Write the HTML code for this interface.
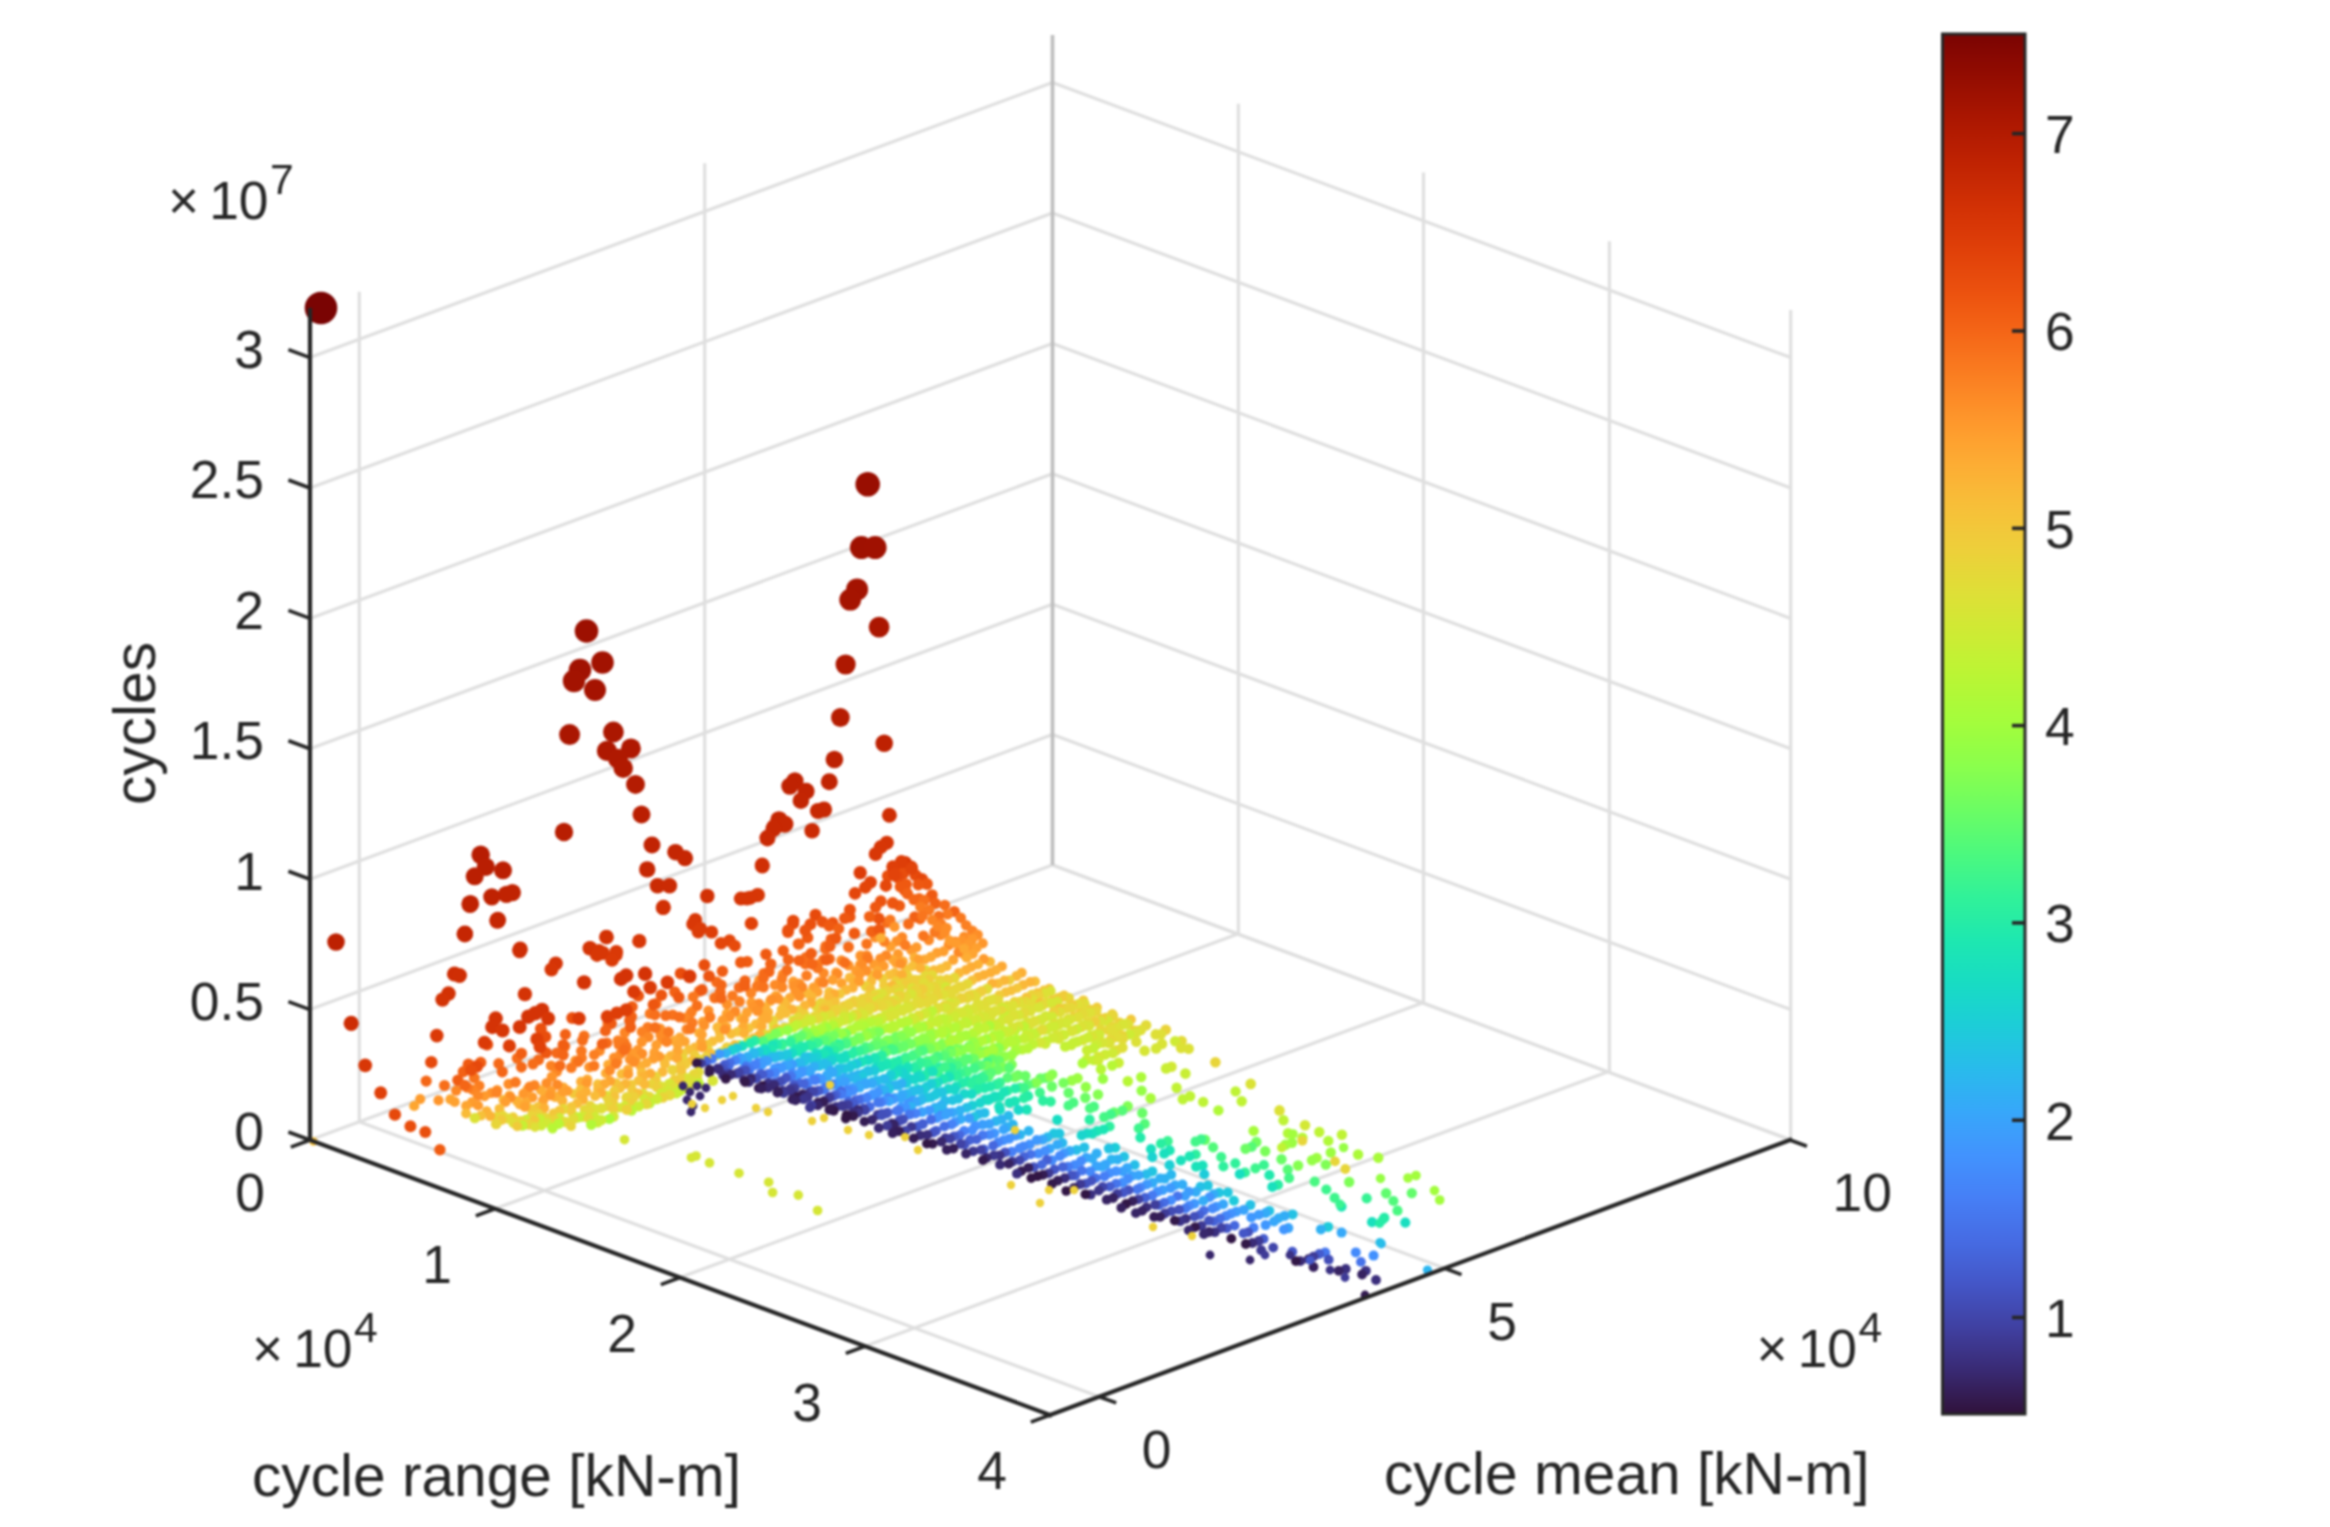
<!DOCTYPE html>
<html><head><meta charset="utf-8"><title>plot</title>
<style>
html,body{margin:0;padding:0;background:#fff;}
body{width:2330px;height:1527px;overflow:hidden;}
svg{display:block;filter:blur(1.15px);}
text{font-family:"Liberation Sans",sans-serif;fill:#262626;}
.g{stroke:#dfdfdf;stroke-width:3.2;}
.a{stroke:#262626;stroke-width:4.2;stroke-linecap:square;}
.b{stroke:#bdbdbd;stroke-width:3.6;}
.t{stroke:#262626;stroke-width:3.6;}
</style></head><body>
<svg width="2330" height="1527" viewBox="0 0 2330 1527">
<rect width="2330" height="1527" fill="#fff"/>
<line class="g" x1="359.3" y1="1121.7" x2="359.3" y2="291.7"/>
<line class="g" x1="704.7" y1="993.3" x2="704.7" y2="163.3"/>
<line class="g" x1="1238.4" y1="933.7" x2="1238.4" y2="103.7"/>
<line class="g" x1="1423.5" y1="1002.5" x2="1423.5" y2="172.5"/>
<line class="g" x1="1609.4" y1="1071.2" x2="1609.4" y2="241.2"/>
<line class="g" x1="1790.7" y1="1140.0" x2="1790.7" y2="310.0"/>
<line class="g" x1="310.0" y1="1140.0" x2="1052.5" y2="865.0"/>
<line class="g" x1="1052.5" y1="865.0" x2="1790.7" y2="1140.0"/>
<line class="g" x1="310.0" y1="1009.6" x2="1052.5" y2="734.6"/>
<line class="g" x1="1052.5" y1="734.6" x2="1790.7" y2="1009.6"/>
<line class="g" x1="310.0" y1="879.2" x2="1052.5" y2="604.2"/>
<line class="g" x1="1052.5" y1="604.2" x2="1790.7" y2="879.2"/>
<line class="g" x1="310.0" y1="748.8" x2="1052.5" y2="473.8"/>
<line class="g" x1="1052.5" y1="473.8" x2="1790.7" y2="748.8"/>
<line class="g" x1="310.0" y1="618.4" x2="1052.5" y2="343.4"/>
<line class="g" x1="1052.5" y1="343.4" x2="1790.7" y2="618.4"/>
<line class="g" x1="310.0" y1="488.0" x2="1052.5" y2="213.0"/>
<line class="g" x1="1052.5" y1="213.0" x2="1790.7" y2="488.0"/>
<line class="g" x1="310.0" y1="357.6" x2="1052.5" y2="82.6"/>
<line class="g" x1="1052.5" y1="82.6" x2="1790.7" y2="357.6"/>
<line class="g" x1="359.3" y1="1121.7" x2="1099.3" y2="1396.7"/>
<line class="g" x1="704.7" y1="993.3" x2="1444.7" y2="1268.3"/>
<line class="g" x1="1052.5" y1="865.0" x2="1790.7" y2="1140.0"/>
<line class="g" x1="495.0" y1="1208.8" x2="1238.4" y2="933.7"/>
<line class="g" x1="680.0" y1="1277.5" x2="1423.5" y2="1002.5"/>
<line class="g" x1="865.0" y1="1346.2" x2="1609.4" y2="1071.2"/>
<line class="b" x1="1052.5" y1="865.0" x2="1052.5" y2="35.0"/>
<circle cx="321.0" cy="308.0" r="16.3" fill="#7a0403"/>
<circle cx="867.7" cy="484.3" r="12.3" fill="#990e01"/>
<circle cx="904.8" cy="890.0" r="6.0" fill="#e94e0d"/>
<circle cx="899.4" cy="905.8" r="5.8" fill="#ef5b12"/>
<circle cx="892.7" cy="903.0" r="5.9" fill="#ed5510"/>
<circle cx="920.1" cy="918.9" r="5.5" fill="#f56a18"/>
<circle cx="886.9" cy="922.4" r="5.5" fill="#f76e1a"/>
<circle cx="914.8" cy="916.8" r="5.6" fill="#f26115"/>
<circle cx="880.4" cy="932.8" r="5.2" fill="#fc8825"/>
<circle cx="940.6" cy="935.0" r="5.2" fill="#fc8725"/>
<circle cx="908.5" cy="924.0" r="5.5" fill="#f66b19"/>
<circle cx="861.4" cy="547.6" r="11.5" fill="#9f1101"/>
<circle cx="875.1" cy="547.6" r="11.5" fill="#a01101"/>
<circle cx="875.2" cy="937.4" r="5.2" fill="#fd8d27"/>
<circle cx="934.8" cy="932.0" r="5.4" fill="#f9791f"/>
<circle cx="902.1" cy="937.2" r="5.2" fill="#fc8725"/>
<circle cx="928.9" cy="940.0" r="5.2" fill="#fc8825"/>
<circle cx="896.7" cy="941.2" r="5.2" fill="#fd9129"/>
<circle cx="955.3" cy="941.7" r="5.2" fill="#fc8825"/>
<circle cx="923.4" cy="935.8" r="5.4" fill="#f9751d"/>
<circle cx="890.7" cy="946.6" r="5.1" fill="#fe9f2f"/>
<circle cx="948.8" cy="945.0" r="5.2" fill="#fd8c27"/>
<circle cx="916.5" cy="947.3" r="5.1" fill="#fe9a2d"/>
<circle cx="884.3" cy="941.4" r="5.3" fill="#fb8122"/>
<circle cx="849.7" cy="916.9" r="5.9" fill="#ec540f"/>
<circle cx="943.6" cy="951.3" r="5.1" fill="#fe9e2e"/>
<circle cx="911.4" cy="950.2" r="5.1" fill="#fe992d"/>
<circle cx="878.7" cy="918.4" r="5.9" fill="#ec530f"/>
<circle cx="970.8" cy="946.3" r="5.3" fill="#fc8423"/>
<circle cx="937.0" cy="952.9" r="5.1" fill="#fea02f"/>
<circle cx="905.2" cy="945.1" r="5.3" fill="#fb7d21"/>
<circle cx="871.6" cy="931.5" r="5.7" fill="#f26114"/>
<circle cx="964.8" cy="955.1" r="5.1" fill="#fea02f"/>
<circle cx="930.9" cy="956.9" r="5.1" fill="#fda732"/>
<circle cx="898.0" cy="954.1" r="5.1" fill="#fe9a2d"/>
<circle cx="866.7" cy="943.9" r="5.4" fill="#f8731c"/>
<circle cx="914.3" cy="957.7" r="5.0" fill="#fcb035"/>
<circle cx="832.7" cy="923.0" r="5.9" fill="#ec520f"/>
<circle cx="879.0" cy="929.5" r="5.8" fill="#ee5811"/>
<circle cx="958.6" cy="952.1" r="5.2" fill="#fc8926"/>
<circle cx="924.8" cy="959.5" r="5.0" fill="#fda933"/>
<circle cx="893.0" cy="959.8" r="5.0" fill="#fda933"/>
<circle cx="860.5" cy="955.7" r="5.2" fill="#fd9229"/>
<circle cx="990.0" cy="961.8" r="5.0" fill="#fab837"/>
<circle cx="825.7" cy="946.1" r="5.4" fill="#f7711b"/>
<circle cx="953.2" cy="959.9" r="5.1" fill="#fda431"/>
<circle cx="918.5" cy="959.6" r="5.1" fill="#fea02f"/>
<circle cx="886.1" cy="955.4" r="5.2" fill="#fc8926"/>
<circle cx="854.4" cy="933.4" r="5.8" fill="#ef5a12"/>
<circle cx="983.7" cy="959.2" r="5.1" fill="#fe9b2d"/>
<circle cx="902.9" cy="961.4" r="5.0" fill="#fdaa33"/>
<circle cx="866.7" cy="955.5" r="5.2" fill="#fc8725"/>
<circle cx="946.6" cy="966.1" r="5.0" fill="#fab938"/>
<circle cx="912.6" cy="966.1" r="4.9" fill="#f8bf39"/>
<circle cx="880.4" cy="958.7" r="5.2" fill="#fd8e28"/>
<circle cx="848.5" cy="947.0" r="5.5" fill="#f66b19"/>
<circle cx="978.0" cy="964.5" r="5.0" fill="#fcb135"/>
<circle cx="896.0" cy="962.8" r="5.1" fill="#fea331"/>
<circle cx="831.3" cy="939.2" r="5.7" fill="#f15e14"/>
<circle cx="925.9" cy="969.9" r="4.9" fill="#e4da38"/>
<circle cx="859.9" cy="964.8" r="5.1" fill="#fea130"/>
<circle cx="940.9" cy="968.7" r="5.0" fill="#f8be39"/>
<circle cx="906.5" cy="969.6" r="4.9" fill="#f4c53a"/>
<circle cx="874.2" cy="964.6" r="5.1" fill="#fe9c2e"/>
<circle cx="841.4" cy="960.5" r="5.2" fill="#fc8a26"/>
<circle cx="971.3" cy="966.9" r="5.0" fill="#fdad34"/>
<circle cx="825.5" cy="948.8" r="5.5" fill="#f66b19"/>
<circle cx="807.6" cy="937.7" r="5.8" fill="#ef5911"/>
<circle cx="1001.9" cy="966.4" r="5.0" fill="#fda833"/>
<circle cx="920.4" cy="968.0" r="5.0" fill="#fcb236"/>
<circle cx="934.1" cy="970.3" r="5.0" fill="#f9bb39"/>
<circle cx="900.7" cy="963.6" r="5.2" fill="#fd922a"/>
<circle cx="867.8" cy="958.2" r="5.3" fill="#fa7a1f"/>
<circle cx="835.7" cy="938.3" r="5.8" fill="#ee5811"/>
<circle cx="965.9" cy="970.0" r="5.0" fill="#fcb035"/>
<circle cx="883.7" cy="966.1" r="5.1" fill="#fe9b2d"/>
<circle cx="996.0" cy="970.1" r="5.0" fill="#fcb136"/>
<circle cx="848.5" cy="965.4" r="5.2" fill="#fe932a"/>
<circle cx="929.0" cy="973.8" r="4.9" fill="#f6c23a"/>
<circle cx="894.6" cy="973.0" r="5.0" fill="#f9ba38"/>
<circle cx="861.8" cy="964.8" r="5.2" fill="#fd8d27"/>
<circle cx="829.8" cy="946.2" r="5.7" fill="#f15e14"/>
<circle cx="959.1" cy="972.9" r="5.0" fill="#fab737"/>
<circle cx="932.1" cy="975.2" r="5.3" fill="#e5d938"/>
<circle cx="877.4" cy="971.0" r="5.0" fill="#fda933"/>
<circle cx="990.5" cy="972.6" r="5.0" fill="#fcaf35"/>
<circle cx="1021.7" cy="972.7" r="5.0" fill="#fcb035"/>
<circle cx="907.5" cy="975.5" r="4.9" fill="#ebd239"/>
<circle cx="922.5" cy="979.1" r="5.3" fill="#d8e436"/>
<circle cx="889.2" cy="975.0" r="4.9" fill="#f8bf39"/>
<circle cx="856.1" cy="970.8" r="5.1" fill="#fe9d2e"/>
<circle cx="823.4" cy="959.7" r="5.4" fill="#f8741d"/>
<circle cx="954.4" cy="977.9" r="5.3" fill="#e6d838"/>
<circle cx="925.6" cy="976.1" r="5.3" fill="#e5d938"/>
<circle cx="872.3" cy="975.2" r="4.9" fill="#f8bf39"/>
<circle cx="805.9" cy="957.4" r="5.5" fill="#f66d1a"/>
<circle cx="983.9" cy="975.0" r="5.0" fill="#fcb035"/>
<circle cx="1016.4" cy="976.1" r="5.0" fill="#fab838"/>
<circle cx="901.8" cy="974.8" r="5.0" fill="#fcaf35"/>
<circle cx="836.1" cy="972.5" r="5.1" fill="#fe9e2f"/>
<circle cx="917.0" cy="980.4" r="5.3" fill="#e0dd37"/>
<circle cx="882.9" cy="978.8" r="4.9" fill="#efce3a"/>
<circle cx="849.7" cy="977.8" r="5.0" fill="#fab838"/>
<circle cx="817.3" cy="964.5" r="5.3" fill="#fa7c20"/>
<circle cx="947.0" cy="979.2" r="4.9" fill="#f0cb3a"/>
<circle cx="919.3" cy="980.5" r="5.3" fill="#edd03a"/>
<circle cx="866.3" cy="970.6" r="5.2" fill="#fd9129"/>
<circle cx="783.2" cy="950.7" r="5.7" fill="#f15e13"/>
<circle cx="929.1" cy="979.6" r="4.9" fill="#efcd3a"/>
<circle cx="978.1" cy="976.9" r="5.0" fill="#fbb236"/>
<circle cx="1009.5" cy="980.1" r="4.9" fill="#efcd3a"/>
<circle cx="896.0" cy="981.1" r="4.9" fill="#eecf3a"/>
<circle cx="829.5" cy="958.8" r="5.5" fill="#f56a18"/>
<circle cx="910.8" cy="980.8" r="5.3" fill="#ead339"/>
<circle cx="947.7" cy="980.6" r="5.3" fill="#edd13a"/>
<circle cx="877.2" cy="974.9" r="5.1" fill="#fe9c2e"/>
<circle cx="844.8" cy="962.6" r="5.5" fill="#f76f1a"/>
<circle cx="811.2" cy="953.5" r="5.7" fill="#f15f14"/>
<circle cx="940.4" cy="980.3" r="5.3" fill="#ebd339"/>
<circle cx="914.2" cy="980.0" r="5.3" fill="#eecf3a"/>
<circle cx="859.6" cy="974.2" r="5.1" fill="#fe982c"/>
<circle cx="923.8" cy="982.2" r="4.9" fill="#e2dc37"/>
<circle cx="972.2" cy="980.3" r="4.9" fill="#f7c039"/>
<circle cx="1004.4" cy="980.5" r="5.0" fill="#fab838"/>
<circle cx="1035.1" cy="981.5" r="4.9" fill="#f8bf39"/>
<circle cx="823.7" cy="973.1" r="5.2" fill="#fc8a26"/>
<circle cx="903.5" cy="983.1" r="5.3" fill="#ebd239"/>
<circle cx="940.6" cy="984.3" r="5.3" fill="#e3da38"/>
<circle cx="871.2" cy="981.4" r="5.0" fill="#f9bb38"/>
<circle cx="837.4" cy="973.7" r="5.2" fill="#fd8b26"/>
<circle cx="805.3" cy="963.9" r="5.5" fill="#f76f1b"/>
<circle cx="936.6" cy="985.5" r="5.3" fill="#e1dc37"/>
<circle cx="906.7" cy="984.3" r="5.4" fill="#f0cc3a"/>
<circle cx="853.6" cy="981.3" r="5.0" fill="#fcb135"/>
<circle cx="788.3" cy="959.5" r="5.6" fill="#f36416"/>
<circle cx="967.3" cy="984.1" r="5.3" fill="#e5d838"/>
<circle cx="998.2" cy="983.5" r="5.0" fill="#f9bc39"/>
<circle cx="1030.2" cy="982.0" r="5.0" fill="#fbb537"/>
<circle cx="884.0" cy="985.4" r="4.9" fill="#f1cb3a"/>
<circle cx="817.6" cy="967.9" r="5.4" fill="#f8751d"/>
<circle cx="896.9" cy="986.0" r="5.3" fill="#dfdf37"/>
<circle cx="934.6" cy="987.4" r="5.3" fill="#e9d439"/>
<circle cx="946.1" cy="986.9" r="4.8" fill="#d2e835"/>
<circle cx="865.9" cy="986.2" r="5.3" fill="#ecd139"/>
<circle cx="832.7" cy="979.8" r="5.1" fill="#fe9f2f"/>
<circle cx="799.1" cy="960.5" r="5.6" fill="#f36215"/>
<circle cx="929.5" cy="987.1" r="5.3" fill="#e4da38"/>
<circle cx="899.9" cy="988.2" r="5.3" fill="#e6d738"/>
<circle cx="782.9" cy="974.5" r="5.2" fill="#fc8624"/>
<circle cx="766.0" cy="954.3" r="5.8" fill="#ef5a12"/>
<circle cx="911.9" cy="988.0" r="4.8" fill="#dce136"/>
<circle cx="959.7" cy="986.7" r="4.9" fill="#efce3a"/>
<circle cx="992.1" cy="983.5" r="5.0" fill="#fcb236"/>
<circle cx="1023.3" cy="984.9" r="5.0" fill="#fab838"/>
<circle cx="857.1" cy="589.4" r="11.0" fill="#a41301"/>
<circle cx="812.1" cy="964.1" r="5.6" fill="#f56717"/>
<circle cx="961.7" cy="986.7" r="5.3" fill="#e8d539"/>
<circle cx="892.2" cy="985.6" r="5.0" fill="#f9ba38"/>
<circle cx="928.5" cy="988.3" r="5.3" fill="#e3db38"/>
<circle cx="859.0" cy="981.4" r="5.1" fill="#fe9c2d"/>
<circle cx="826.2" cy="959.9" r="5.7" fill="#f15e13"/>
<circle cx="793.3" cy="981.7" r="5.1" fill="#fe9c2d"/>
<circle cx="921.8" cy="990.0" r="5.3" fill="#e1dd37"/>
<circle cx="896.1" cy="989.4" r="5.3" fill="#ead339"/>
<circle cx="841.6" cy="983.4" r="5.1" fill="#fea12f"/>
<circle cx="759.4" cy="980.3" r="5.2" fill="#fe932a"/>
<circle cx="952.1" cy="991.2" r="5.3" fill="#dae236"/>
<circle cx="987.1" cy="988.9" r="5.3" fill="#e1dc37"/>
<circle cx="1017.2" cy="988.1" r="4.9" fill="#f4c63a"/>
<circle cx="1049.3" cy="988.7" r="4.9" fill="#f7c13a"/>
<circle cx="870.6" cy="988.9" r="4.9" fill="#f4c53a"/>
<circle cx="806.6" cy="975.5" r="5.3" fill="#fb7d21"/>
<circle cx="955.6" cy="989.0" r="5.3" fill="#e7d738"/>
<circle cx="887.1" cy="990.9" r="5.3" fill="#ead439"/>
<circle cx="922.1" cy="989.3" r="5.4" fill="#f0cc3a"/>
<circle cx="852.8" cy="987.8" r="5.0" fill="#fcaf35"/>
<circle cx="819.4" cy="982.0" r="5.2" fill="#fe922a"/>
<circle cx="787.1" cy="970.2" r="5.5" fill="#f66d1a"/>
<circle cx="915.4" cy="990.3" r="5.3" fill="#ead339"/>
<circle cx="770.8" cy="964.1" r="5.7" fill="#f26114"/>
<circle cx="1050.4" cy="991.0" r="5.3" fill="#d9e336"/>
<circle cx="899.2" cy="992.7" r="4.8" fill="#dbe136"/>
<circle cx="948.2" cy="990.9" r="5.3" fill="#edd03a"/>
<circle cx="978.0" cy="993.2" r="5.3" fill="#e9d539"/>
<circle cx="1011.3" cy="990.5" r="4.9" fill="#f7c13a"/>
<circle cx="1043.8" cy="990.5" r="4.9" fill="#f3c63a"/>
<circle cx="799.4" cy="983.6" r="5.2" fill="#fd9029"/>
<circle cx="951.2" cy="993.6" r="5.3" fill="#e4d938"/>
<circle cx="879.2" cy="993.8" r="5.3" fill="#dde037"/>
<circle cx="916.7" cy="991.7" r="5.3" fill="#ead439"/>
<circle cx="846.2" cy="989.9" r="5.0" fill="#fab837"/>
<circle cx="813.4" cy="987.7" r="5.1" fill="#fea02f"/>
<circle cx="781.8" cy="978.9" r="5.3" fill="#fa7b20"/>
<circle cx="909.7" cy="994.1" r="5.3" fill="#ecd139"/>
<circle cx="882.0" cy="993.9" r="5.3" fill="#dde037"/>
<circle cx="981.5" cy="991.2" r="5.3" fill="#eecf3a"/>
<circle cx="829.2" cy="992.1" r="5.0" fill="#f8be39"/>
<circle cx="763.9" cy="973.5" r="5.5" fill="#f66d19"/>
<circle cx="1045.4" cy="993.1" r="5.3" fill="#dce136"/>
<circle cx="747.2" cy="961.6" r="5.7" fill="#f05b12"/>
<circle cx="940.2" cy="994.2" r="5.3" fill="#eecf3a"/>
<circle cx="972.2" cy="994.6" r="5.3" fill="#e3da38"/>
<circle cx="1005.7" cy="992.2" r="4.9" fill="#f6c23a"/>
<circle cx="1037.4" cy="992.9" r="4.9" fill="#f5c33a"/>
<circle cx="793.7" cy="986.0" r="5.2" fill="#fd922a"/>
<circle cx="943.5" cy="994.8" r="5.3" fill="#dfdf37"/>
<circle cx="875.4" cy="994.9" r="5.3" fill="#e2dc37"/>
<circle cx="911.3" cy="994.3" r="5.3" fill="#d8e436"/>
<circle cx="840.0" cy="993.9" r="4.9" fill="#f3c73a"/>
<circle cx="807.5" cy="993.4" r="5.0" fill="#fab938"/>
<circle cx="774.9" cy="984.9" r="5.2" fill="#fd8b27"/>
<circle cx="905.3" cy="996.7" r="5.3" fill="#e5d838"/>
<circle cx="876.7" cy="996.9" r="5.3" fill="#ebd339"/>
<circle cx="975.8" cy="997.1" r="5.3" fill="#e2dc37"/>
<circle cx="823.3" cy="982.5" r="5.3" fill="#fb8323"/>
<circle cx="758.1" cy="985.1" r="5.2" fill="#fc8a26"/>
<circle cx="1038.6" cy="996.3" r="5.3" fill="#ecd239"/>
<circle cx="740.8" cy="962.4" r="5.8" fill="#ef5911"/>
<circle cx="935.5" cy="996.3" r="5.3" fill="#e1dd37"/>
<circle cx="968.5" cy="995.9" r="5.3" fill="#eecf3a"/>
<circle cx="1064.1" cy="995.5" r="4.9" fill="#f3c73a"/>
<circle cx="999.3" cy="995.2" r="4.9" fill="#f1cb3a"/>
<circle cx="1032.1" cy="994.8" r="5.3" fill="#ecd139"/>
<circle cx="1068.7" cy="998.0" r="5.3" fill="#e7d638"/>
<circle cx="937.2" cy="995.5" r="5.3" fill="#e9d439"/>
<circle cx="868.1" cy="996.4" r="4.9" fill="#efcd3a"/>
<circle cx="905.9" cy="998.2" r="5.3" fill="#e0de37"/>
<circle cx="834.0" cy="994.1" r="5.0" fill="#fdad34"/>
<circle cx="802.1" cy="987.1" r="5.2" fill="#fc8825"/>
<circle cx="769.0" cy="971.7" r="5.6" fill="#f46416"/>
<circle cx="899.5" cy="995.8" r="5.3" fill="#ecd139"/>
<circle cx="870.8" cy="999.1" r="5.3" fill="#ebd339"/>
<circle cx="967.4" cy="998.1" r="5.3" fill="#e5d838"/>
<circle cx="817.6" cy="992.0" r="5.1" fill="#fea431"/>
<circle cx="850.2" cy="599.7" r="10.9" fill="#a51401"/>
<circle cx="1033.5" cy="1000.1" r="5.3" fill="#e0de37"/>
<circle cx="880.0" cy="998.4" r="4.8" fill="#d9e336"/>
<circle cx="928.9" cy="997.5" r="5.3" fill="#e3da38"/>
<circle cx="960.9" cy="998.2" r="5.3" fill="#e3db38"/>
<circle cx="1058.1" cy="997.8" r="4.9" fill="#f0cc3a"/>
<circle cx="993.9" cy="999.2" r="5.3" fill="#e2dc38"/>
<circle cx="1026.3" cy="997.5" r="4.9" fill="#f5c43a"/>
<circle cx="782.2" cy="987.2" r="5.2" fill="#fc8624"/>
<circle cx="1061.3" cy="997.2" r="5.4" fill="#f0cc3a"/>
<circle cx="932.9" cy="999.5" r="5.3" fill="#e4d938"/>
<circle cx="998.1" cy="1000.6" r="5.3" fill="#e3db38"/>
<circle cx="862.6" cy="999.1" r="5.3" fill="#ecd139"/>
<circle cx="897.3" cy="1000.4" r="5.3" fill="#e6d838"/>
<circle cx="828.6" cy="997.0" r="5.0" fill="#faba38"/>
<circle cx="795.5" cy="992.1" r="5.2" fill="#fe942a"/>
<circle cx="763.4" cy="978.2" r="5.5" fill="#f66a18"/>
<circle cx="893.4" cy="1000.3" r="5.3" fill="#dce137"/>
<circle cx="865.3" cy="1001.1" r="5.3" fill="#ead339"/>
<circle cx="961.3" cy="998.2" r="5.3" fill="#ebd239"/>
<circle cx="811.7" cy="996.9" r="5.0" fill="#fab737"/>
<circle cx="1025.8" cy="1002.1" r="5.3" fill="#e1dc37"/>
<circle cx="875.2" cy="1001.5" r="4.8" fill="#d2e835"/>
<circle cx="922.5" cy="999.3" r="5.3" fill="#ecd139"/>
<circle cx="955.1" cy="1001.6" r="5.3" fill="#e8d639"/>
<circle cx="1052.3" cy="1000.5" r="4.9" fill="#f4c53a"/>
<circle cx="987.3" cy="1001.3" r="5.3" fill="#e4d938"/>
<circle cx="1020.8" cy="1001.5" r="5.3" fill="#ead339"/>
<circle cx="775.9" cy="995.9" r="5.1" fill="#fea330"/>
<circle cx="1057.1" cy="1001.9" r="5.3" fill="#d6e535"/>
<circle cx="1083.4" cy="1000.3" r="4.9" fill="#f1cb3a"/>
<circle cx="927.4" cy="1002.8" r="5.3" fill="#e5d938"/>
<circle cx="990.2" cy="1000.4" r="5.3" fill="#dfdf37"/>
<circle cx="854.3" cy="1001.0" r="5.3" fill="#ebd239"/>
<circle cx="893.1" cy="1003.2" r="5.3" fill="#ead339"/>
<circle cx="821.1" cy="1002.7" r="5.3" fill="#edd03a"/>
<circle cx="789.8" cy="998.0" r="5.0" fill="#fda732"/>
<circle cx="757.1" cy="986.4" r="5.4" fill="#f9781e"/>
<circle cx="887.4" cy="1000.7" r="5.3" fill="#e9d439"/>
<circle cx="857.7" cy="1003.1" r="5.3" fill="#ead339"/>
<circle cx="954.8" cy="1002.3" r="5.3" fill="#dee037"/>
<circle cx="1019.4" cy="1003.3" r="5.3" fill="#dedf37"/>
<circle cx="722.4" cy="971.3" r="5.7" fill="#f05c13"/>
<circle cx="868.8" cy="1002.5" r="4.9" fill="#efce3a"/>
<circle cx="917.2" cy="1001.6" r="5.3" fill="#e0dd37"/>
<circle cx="949.5" cy="1003.4" r="5.3" fill="#d3e735"/>
<circle cx="1046.5" cy="1002.7" r="5.3" fill="#e6d838"/>
<circle cx="980.3" cy="1005.0" r="5.3" fill="#dbe236"/>
<circle cx="1014.7" cy="1002.1" r="5.3" fill="#ebd239"/>
<circle cx="1084.5" cy="1003.9" r="5.3" fill="#dfde37"/>
<circle cx="835.1" cy="1001.8" r="4.9" fill="#f5c33a"/>
<circle cx="770.0" cy="1001.2" r="5.0" fill="#fab837"/>
<circle cx="1051.4" cy="1003.0" r="5.3" fill="#d5e635"/>
<circle cx="1079.2" cy="1004.0" r="5.3" fill="#e7d738"/>
<circle cx="920.0" cy="1003.6" r="5.3" fill="#e4da38"/>
<circle cx="983.9" cy="1005.5" r="5.3" fill="#e0dd37"/>
<circle cx="848.8" cy="1004.1" r="5.3" fill="#ebd239"/>
<circle cx="887.9" cy="1005.4" r="5.3" fill="#e3db38"/>
<circle cx="816.1" cy="1006.0" r="5.3" fill="#e5d838"/>
<circle cx="783.8" cy="1002.1" r="5.0" fill="#f9bb38"/>
<circle cx="751.0" cy="993.0" r="5.3" fill="#fc8524"/>
<circle cx="879.5" cy="1003.1" r="5.3" fill="#e4d938"/>
<circle cx="851.2" cy="1003.2" r="5.4" fill="#efcd3a"/>
<circle cx="950.9" cy="1006.6" r="5.3" fill="#dfde37"/>
<circle cx="799.4" cy="996.3" r="5.2" fill="#fe942a"/>
<circle cx="1012.8" cy="1005.6" r="5.3" fill="#dce136"/>
<circle cx="716.6" cy="982.0" r="5.5" fill="#f56918"/>
<circle cx="862.7" cy="1004.5" r="4.9" fill="#e8d539"/>
<circle cx="910.6" cy="1006.7" r="5.3" fill="#dfde37"/>
<circle cx="944.7" cy="1005.6" r="5.3" fill="#e8d639"/>
<circle cx="1040.2" cy="1003.6" r="5.0" fill="#f9bc39"/>
<circle cx="976.5" cy="1006.3" r="5.3" fill="#dde037"/>
<circle cx="1007.1" cy="1005.9" r="5.3" fill="#e3da38"/>
<circle cx="1077.9" cy="1004.6" r="5.3" fill="#e0de37"/>
<circle cx="828.4" cy="1005.0" r="4.9" fill="#f2c93a"/>
<circle cx="763.5" cy="987.1" r="5.4" fill="#f8721c"/>
<circle cx="1042.6" cy="1005.3" r="5.3" fill="#e2db38"/>
<circle cx="1072.1" cy="1004.6" r="4.9" fill="#f0cb3a"/>
<circle cx="912.5" cy="1005.9" r="5.3" fill="#e1dc37"/>
<circle cx="979.2" cy="1006.9" r="5.3" fill="#dedf37"/>
<circle cx="844.2" cy="1005.8" r="4.9" fill="#f0cc3a"/>
<circle cx="881.6" cy="1006.1" r="5.3" fill="#e8d639"/>
<circle cx="810.8" cy="1002.7" r="5.0" fill="#fdab33"/>
<circle cx="778.1" cy="998.5" r="5.2" fill="#fe932a"/>
<circle cx="744.9" cy="980.9" r="5.6" fill="#f36315"/>
<circle cx="875.3" cy="1005.9" r="5.3" fill="#e5d838"/>
<circle cx="848.4" cy="1005.5" r="5.3" fill="#ebd339"/>
<circle cx="945.6" cy="1007.8" r="5.3" fill="#d6e536"/>
<circle cx="1008.5" cy="1007.7" r="5.3" fill="#dbe136"/>
<circle cx="905.9" cy="1007.8" r="5.3" fill="#d5e635"/>
<circle cx="937.9" cy="1008.0" r="5.3" fill="#e6d838"/>
<circle cx="1032.6" cy="1006.9" r="5.3" fill="#e2dc37"/>
<circle cx="967.9" cy="1009.1" r="5.3" fill="#d5e635"/>
<circle cx="1002.3" cy="1008.0" r="5.3" fill="#d0e935"/>
<circle cx="1071.6" cy="1007.8" r="5.3" fill="#e5d838"/>
<circle cx="823.5" cy="1007.7" r="4.9" fill="#f2c93a"/>
<circle cx="1038.7" cy="1007.4" r="5.3" fill="#d8e436"/>
<circle cx="1064.9" cy="1007.9" r="4.9" fill="#eecf3a"/>
<circle cx="908.3" cy="1008.2" r="5.3" fill="#d9e336"/>
<circle cx="1097.0" cy="1007.4" r="4.9" fill="#f0cc3a"/>
<circle cx="973.3" cy="1009.5" r="5.3" fill="#dae336"/>
<circle cx="836.3" cy="1010.0" r="5.3" fill="#e7d738"/>
<circle cx="873.7" cy="1007.3" r="5.3" fill="#edd03a"/>
<circle cx="804.7" cy="1005.6" r="5.0" fill="#fbb637"/>
<circle cx="771.4" cy="999.5" r="5.2" fill="#fd9029"/>
<circle cx="739.2" cy="987.4" r="5.5" fill="#f66b19"/>
<circle cx="870.0" cy="1007.8" r="5.3" fill="#e4da38"/>
<circle cx="840.7" cy="1009.5" r="5.3" fill="#e9d439"/>
<circle cx="937.4" cy="1008.8" r="5.3" fill="#dedf37"/>
<circle cx="786.7" cy="1006.9" r="5.0" fill="#f9ba38"/>
<circle cx="721.2" cy="985.1" r="5.6" fill="#f46617"/>
<circle cx="1001.6" cy="1010.8" r="5.3" fill="#e4d938"/>
<circle cx="704.4" cy="965.1" r="6.0" fill="#e94e0d"/>
<circle cx="899.4" cy="1009.4" r="5.3" fill="#d2e935"/>
<circle cx="931.7" cy="1011.9" r="5.3" fill="#d8e436"/>
<circle cx="1026.7" cy="1009.8" r="5.3" fill="#dee037"/>
<circle cx="962.1" cy="1012.2" r="5.3" fill="#d5e635"/>
<circle cx="994.3" cy="1011.8" r="5.3" fill="#d0e935"/>
<circle cx="1066.1" cy="1008.5" r="5.3" fill="#e6d738"/>
<circle cx="751.3" cy="1002.6" r="5.1" fill="#fe9a2d"/>
<circle cx="1030.6" cy="1011.1" r="5.3" fill="#dce136"/>
<circle cx="1059.4" cy="1008.9" r="4.9" fill="#f4c53a"/>
<circle cx="902.7" cy="1010.8" r="5.3" fill="#d9e336"/>
<circle cx="1090.9" cy="1009.7" r="4.9" fill="#efcd3a"/>
<circle cx="968.1" cy="1012.8" r="5.3" fill="#d1e935"/>
<circle cx="830.6" cy="1012.5" r="5.3" fill="#e1dc37"/>
<circle cx="1096.1" cy="1011.3" r="5.3" fill="#e7d738"/>
<circle cx="868.4" cy="1010.5" r="5.3" fill="#e1dc37"/>
<circle cx="798.4" cy="1010.3" r="4.9" fill="#f1ca3a"/>
<circle cx="765.1" cy="1007.4" r="5.0" fill="#fcaf35"/>
<circle cx="732.4" cy="995.8" r="5.3" fill="#fa7a1f"/>
<circle cx="860.7" cy="1012.3" r="5.3" fill="#dedf37"/>
<circle cx="834.7" cy="1012.1" r="5.3" fill="#edd13a"/>
<circle cx="932.2" cy="1011.1" r="5.2" fill="#bef335"/>
<circle cx="781.6" cy="1009.4" r="4.9" fill="#f7c03a"/>
<circle cx="995.2" cy="1010.9" r="5.3" fill="#dce137"/>
<circle cx="699.3" cy="991.1" r="5.5" fill="#f66c19"/>
<circle cx="844.6" cy="1012.6" r="4.9" fill="#e2db38"/>
<circle cx="892.2" cy="1011.6" r="5.3" fill="#d4e735"/>
<circle cx="925.8" cy="1013.0" r="5.3" fill="#c8ee34"/>
<circle cx="1021.7" cy="1014.1" r="5.3" fill="#d6e536"/>
<circle cx="957.8" cy="1012.5" r="5.3" fill="#d8e436"/>
<circle cx="988.7" cy="1011.6" r="5.3" fill="#dfdf37"/>
<circle cx="1060.0" cy="1012.0" r="5.3" fill="#dfde37"/>
<circle cx="744.7" cy="985.9" r="5.7" fill="#f26115"/>
<circle cx="1024.3" cy="1012.9" r="5.3" fill="#e2db38"/>
<circle cx="1053.9" cy="1011.9" r="5.3" fill="#ebd239"/>
<circle cx="894.9" cy="1014.5" r="5.3" fill="#d8e436"/>
<circle cx="1084.2" cy="1011.7" r="5.3" fill="#e4da38"/>
<circle cx="961.4" cy="1013.1" r="5.3" fill="#d6e635"/>
<circle cx="825.2" cy="1010.4" r="5.0" fill="#f9ba38"/>
<circle cx="1090.0" cy="1012.6" r="5.3" fill="#dee037"/>
<circle cx="863.7" cy="1015.2" r="5.3" fill="#d7e536"/>
<circle cx="792.1" cy="1009.5" r="5.0" fill="#fcb236"/>
<circle cx="758.9" cy="1003.6" r="5.2" fill="#fd8c27"/>
<circle cx="727.1" cy="1004.4" r="5.2" fill="#fd9129"/>
<circle cx="855.0" cy="1014.3" r="5.3" fill="#e1dc37"/>
<circle cx="830.0" cy="1015.2" r="5.3" fill="#e0de37"/>
<circle cx="924.2" cy="1013.9" r="5.3" fill="#d1e935"/>
<circle cx="709.1" cy="976.2" r="5.9" fill="#ed5410"/>
<circle cx="991.2" cy="1015.2" r="5.3" fill="#dbe136"/>
<circle cx="693.1" cy="996.8" r="5.4" fill="#f9771e"/>
<circle cx="885.6" cy="1015.3" r="5.3" fill="#d3e735"/>
<circle cx="920.1" cy="1016.3" r="5.3" fill="#cdec34"/>
<circle cx="1016.6" cy="1014.7" r="5.3" fill="#d9e336"/>
<circle cx="1112.3" cy="1014.4" r="5.3" fill="#edd03a"/>
<circle cx="950.8" cy="1016.1" r="5.3" fill="#dde037"/>
<circle cx="981.7" cy="1016.2" r="5.3" fill="#d5e635"/>
<circle cx="1052.2" cy="1017.0" r="5.3" fill="#d1e935"/>
<circle cx="804.6" cy="1014.1" r="4.9" fill="#efcd3a"/>
<circle cx="739.6" cy="1001.4" r="5.3" fill="#fb8022"/>
<circle cx="1018.4" cy="1015.1" r="5.3" fill="#d7e536"/>
<circle cx="1045.8" cy="1016.2" r="5.3" fill="#dfde37"/>
<circle cx="889.9" cy="1016.5" r="5.3" fill="#d9e336"/>
<circle cx="1079.9" cy="1013.7" r="4.9" fill="#f0cc3a"/>
<circle cx="954.7" cy="1016.9" r="5.3" fill="#cfea34"/>
<circle cx="820.0" cy="1014.1" r="4.9" fill="#efce3a"/>
<circle cx="1082.6" cy="1014.2" r="5.3" fill="#e3da38"/>
<circle cx="856.2" cy="1015.6" r="5.3" fill="#e6d838"/>
<circle cx="785.8" cy="1013.1" r="5.0" fill="#f8be39"/>
<circle cx="752.7" cy="1007.1" r="5.1" fill="#fe952b"/>
<circle cx="720.2" cy="992.2" r="5.5" fill="#f56818"/>
<circle cx="851.9" cy="1016.5" r="5.3" fill="#cfea34"/>
<circle cx="823.8" cy="1016.9" r="5.3" fill="#d5e635"/>
<circle cx="918.7" cy="1015.5" r="5.3" fill="#dee037"/>
<circle cx="768.1" cy="1012.4" r="5.0" fill="#fcaf35"/>
<circle cx="984.4" cy="1017.3" r="5.3" fill="#d5e635"/>
<circle cx="879.8" cy="1018.0" r="5.3" fill="#d8e436"/>
<circle cx="1112.9" cy="1016.0" r="5.3" fill="#e7d639"/>
<circle cx="912.3" cy="1018.1" r="5.3" fill="#cdec34"/>
<circle cx="1008.4" cy="1016.6" r="5.3" fill="#c5f034"/>
<circle cx="1105.6" cy="1018.0" r="5.3" fill="#e5d838"/>
<circle cx="944.1" cy="1018.6" r="5.3" fill="#d5e635"/>
<circle cx="978.7" cy="1017.8" r="5.3" fill="#dbe236"/>
<circle cx="1046.0" cy="1016.5" r="5.3" fill="#d0ea35"/>
<circle cx="798.0" cy="1017.4" r="4.9" fill="#e2db38"/>
<circle cx="1012.9" cy="1016.0" r="5.3" fill="#dce136"/>
<circle cx="1042.1" cy="1019.2" r="5.3" fill="#d7e536"/>
<circle cx="882.0" cy="1019.3" r="5.3" fill="#ccec34"/>
<circle cx="1073.5" cy="1017.0" r="4.9" fill="#f1cb3a"/>
<circle cx="947.7" cy="1019.6" r="5.3" fill="#c6f034"/>
<circle cx="814.8" cy="1016.4" r="5.3" fill="#e8d639"/>
<circle cx="1078.1" cy="1017.3" r="5.3" fill="#dfdf37"/>
<circle cx="848.7" cy="1019.3" r="5.2" fill="#c1f234"/>
<circle cx="779.8" cy="1015.6" r="4.9" fill="#f8bf39"/>
<circle cx="746.8" cy="1012.7" r="5.1" fill="#fea230"/>
<circle cx="714.7" cy="997.8" r="5.5" fill="#f76f1a"/>
<circle cx="844.0" cy="1017.1" r="5.3" fill="#d0e935"/>
<circle cx="817.4" cy="1018.5" r="5.3" fill="#e2dc37"/>
<circle cx="914.9" cy="1020.0" r="5.3" fill="#d1e935"/>
<circle cx="763.5" cy="1014.9" r="5.0" fill="#fdad34"/>
<circle cx="976.5" cy="1020.3" r="5.3" fill="#cdec34"/>
<circle cx="680.8" cy="973.5" r="6.1" fill="#e94d0d"/>
<circle cx="873.9" cy="1019.8" r="5.3" fill="#ceeb34"/>
<circle cx="1107.3" cy="1020.9" r="5.3" fill="#d5e635"/>
<circle cx="905.8" cy="1021.4" r="5.3" fill="#c9ee34"/>
<circle cx="1003.3" cy="1018.7" r="5.3" fill="#cbed34"/>
<circle cx="1101.7" cy="1018.6" r="4.9" fill="#f0cc3a"/>
<circle cx="939.4" cy="1019.3" r="5.3" fill="#cfeb34"/>
<circle cx="972.6" cy="1020.3" r="5.3" fill="#d1e935"/>
<circle cx="1040.1" cy="1019.5" r="5.3" fill="#d2e835"/>
<circle cx="793.2" cy="1020.0" r="4.8" fill="#d7e436"/>
<circle cx="726.8" cy="1013.8" r="5.1" fill="#fea330"/>
<circle cx="1008.6" cy="1019.6" r="5.3" fill="#d9e336"/>
<circle cx="1034.2" cy="1021.4" r="5.3" fill="#d9e336"/>
<circle cx="878.2" cy="1022.0" r="5.2" fill="#bdf435"/>
<circle cx="1068.3" cy="1019.0" r="5.3" fill="#e0de37"/>
<circle cx="943.2" cy="1018.9" r="5.2" fill="#c0f234"/>
<circle cx="807.7" cy="1018.9" r="5.3" fill="#dae236"/>
<circle cx="1070.3" cy="1019.2" r="5.3" fill="#d9e336"/>
<circle cx="1131.0" cy="1019.5" r="4.9" fill="#f2c83a"/>
<circle cx="843.9" cy="1020.3" r="5.3" fill="#d2e835"/>
<circle cx="772.9" cy="1020.8" r="5.3" fill="#ead339"/>
<circle cx="740.8" cy="1018.3" r="5.0" fill="#fab838"/>
<circle cx="708.4" cy="1010.6" r="5.2" fill="#fd8d27"/>
<circle cx="839.2" cy="1021.5" r="5.3" fill="#c9ee34"/>
<circle cx="811.1" cy="1020.6" r="5.3" fill="#cfeb34"/>
<circle cx="907.6" cy="1021.9" r="5.2" fill="#b7f735"/>
<circle cx="757.4" cy="1010.9" r="5.2" fill="#fd9229"/>
<circle cx="691.9" cy="1011.3" r="5.2" fill="#fd8f28"/>
<circle cx="972.4" cy="1020.5" r="5.3" fill="#d1e935"/>
<circle cx="674.8" cy="992.0" r="5.7" fill="#f26014"/>
<circle cx="869.9" cy="1022.0" r="5.3" fill="#c4f034"/>
<circle cx="1100.7" cy="1021.4" r="5.3" fill="#d9e336"/>
<circle cx="900.5" cy="1023.0" r="5.2" fill="#c0f334"/>
<circle cx="998.9" cy="1023.4" r="5.3" fill="#d6e536"/>
<circle cx="1094.7" cy="1021.4" r="5.3" fill="#edd03a"/>
<circle cx="932.0" cy="1021.5" r="5.2" fill="#c1f234"/>
<circle cx="965.1" cy="1022.1" r="5.3" fill="#c5f034"/>
<circle cx="1034.8" cy="1021.2" r="5.3" fill="#dce137"/>
<circle cx="721.1" cy="998.1" r="5.6" fill="#f46617"/>
<circle cx="1000.0" cy="1022.7" r="5.3" fill="#d2e835"/>
<circle cx="1027.7" cy="1022.3" r="5.3" fill="#d6e536"/>
<circle cx="870.3" cy="1022.1" r="5.2" fill="#b8f635"/>
<circle cx="1061.3" cy="1022.4" r="5.3" fill="#dbe236"/>
<circle cx="937.8" cy="1022.3" r="5.3" fill="#c6ef34"/>
<circle cx="801.9" cy="1022.4" r="5.3" fill="#ecd139"/>
<circle cx="1066.2" cy="1023.2" r="5.3" fill="#d3e835"/>
<circle cx="1126.6" cy="1023.7" r="5.3" fill="#d3e735"/>
<circle cx="838.0" cy="1023.1" r="5.3" fill="#ccec34"/>
<circle cx="767.0" cy="1018.5" r="5.0" fill="#fdac34"/>
<circle cx="735.1" cy="1011.5" r="5.2" fill="#fd8b26"/>
<circle cx="701.9" cy="989.9" r="5.8" fill="#ef5912"/>
<circle cx="833.6" cy="1021.9" r="5.3" fill="#cdec34"/>
<circle cx="1128.0" cy="1024.4" r="5.3" fill="#dce136"/>
<circle cx="804.6" cy="1023.2" r="5.3" fill="#cfea34"/>
<circle cx="901.5" cy="1023.0" r="5.2" fill="#b8f635"/>
<circle cx="966.9" cy="1023.5" r="5.2" fill="#c1f234"/>
<circle cx="862.2" cy="1023.1" r="5.2" fill="#bef435"/>
<circle cx="893.2" cy="1025.8" r="5.2" fill="#bbf535"/>
<circle cx="991.4" cy="1023.0" r="5.3" fill="#d4e635"/>
<circle cx="1088.0" cy="1022.3" r="5.3" fill="#e4d938"/>
<circle cx="925.4" cy="1025.8" r="5.2" fill="#bcf435"/>
<circle cx="960.7" cy="1024.8" r="5.3" fill="#c4f034"/>
<circle cx="1030.4" cy="1024.1" r="5.3" fill="#dde037"/>
<circle cx="995.7" cy="1025.7" r="5.3" fill="#caed34"/>
<circle cx="1022.2" cy="1025.5" r="5.3" fill="#d1e935"/>
<circle cx="864.3" cy="1026.5" r="5.2" fill="#aff938"/>
<circle cx="1055.2" cy="1024.2" r="5.3" fill="#e2db38"/>
<circle cx="929.1" cy="1026.2" r="5.3" fill="#c8ee34"/>
<circle cx="794.7" cy="1022.6" r="5.3" fill="#ecd139"/>
<circle cx="1058.7" cy="1024.8" r="5.3" fill="#d4e635"/>
<circle cx="1119.8" cy="1022.9" r="5.3" fill="#edd03a"/>
<circle cx="833.1" cy="1025.7" r="5.2" fill="#b4f736"/>
<circle cx="761.8" cy="1020.5" r="5.0" fill="#fdac34"/>
<circle cx="729.6" cy="1016.7" r="5.2" fill="#fe932a"/>
<circle cx="697.1" cy="1005.6" r="5.4" fill="#f7701b"/>
<circle cx="825.4" cy="1025.7" r="5.2" fill="#bbf535"/>
<circle cx="1122.9" cy="1024.6" r="5.3" fill="#d8e436"/>
<circle cx="797.0" cy="1024.8" r="5.3" fill="#c4f034"/>
<circle cx="894.9" cy="1026.8" r="5.2" fill="#baf635"/>
<circle cx="743.9" cy="1019.8" r="5.1" fill="#fea130"/>
<circle cx="958.7" cy="1027.4" r="5.2" fill="#c2f134"/>
<circle cx="857.4" cy="1026.0" r="5.2" fill="#b3f837"/>
<circle cx="879.1" cy="627.1" r="10.4" fill="#ab1601"/>
<circle cx="1089.1" cy="1025.8" r="5.3" fill="#d8e436"/>
<circle cx="887.9" cy="1027.9" r="5.2" fill="#aafb39"/>
<circle cx="985.9" cy="1025.8" r="5.3" fill="#d2e835"/>
<circle cx="1084.1" cy="1025.2" r="5.3" fill="#d7e436"/>
<circle cx="920.3" cy="1026.7" r="5.2" fill="#b2f837"/>
<circle cx="951.4" cy="1028.5" r="5.3" fill="#c3f134"/>
<circle cx="1024.2" cy="1026.9" r="5.2" fill="#bff334"/>
<circle cx="773.5" cy="1026.3" r="4.9" fill="#e4da38"/>
<circle cx="709.4" cy="1018.0" r="5.1" fill="#fe952b"/>
<circle cx="989.4" cy="1026.0" r="5.2" fill="#aef938"/>
<circle cx="1018.0" cy="1026.3" r="5.3" fill="#d6e536"/>
<circle cx="1146.1" cy="1025.2" r="5.3" fill="#e2db38"/>
<circle cx="858.4" cy="1026.3" r="5.2" fill="#b3f837"/>
<circle cx="1050.5" cy="1026.8" r="5.3" fill="#d6e536"/>
<circle cx="922.5" cy="1027.4" r="5.2" fill="#a8fb3a"/>
<circle cx="789.3" cy="1027.7" r="5.3" fill="#dde037"/>
<circle cx="1053.5" cy="1026.6" r="5.3" fill="#ceeb34"/>
<circle cx="1113.3" cy="1026.5" r="5.3" fill="#e8d539"/>
<circle cx="826.7" cy="1028.2" r="5.2" fill="#9dfd40"/>
<circle cx="755.8" cy="1024.2" r="5.0" fill="#fab938"/>
<circle cx="722.5" cy="1020.3" r="5.1" fill="#fe9b2d"/>
<circle cx="690.7" cy="1013.3" r="5.3" fill="#fb7f21"/>
<circle cx="821.0" cy="1028.4" r="5.2" fill="#b4f836"/>
<circle cx="1116.7" cy="1028.4" r="5.3" fill="#dce136"/>
<circle cx="793.6" cy="1027.4" r="5.2" fill="#bff334"/>
<circle cx="890.1" cy="1028.5" r="5.2" fill="#b8f635"/>
<circle cx="955.0" cy="1027.1" r="5.2" fill="#b4f836"/>
<circle cx="656.0" cy="1003.7" r="5.6" fill="#f56817"/>
<circle cx="849.9" cy="1030.1" r="5.2" fill="#bff334"/>
<circle cx="1081.5" cy="1027.0" r="5.3" fill="#dce136"/>
<circle cx="881.6" cy="1029.4" r="5.2" fill="#a9fb3a"/>
<circle cx="978.3" cy="1027.5" r="5.2" fill="#bbf535"/>
<circle cx="1076.9" cy="1029.0" r="5.3" fill="#dee037"/>
<circle cx="916.2" cy="1028.6" r="5.2" fill="#b0f938"/>
<circle cx="946.5" cy="1028.0" r="5.2" fill="#bdf435"/>
<circle cx="1015.2" cy="1030.4" r="5.2" fill="#bff335"/>
<circle cx="703.0" cy="1021.9" r="5.1" fill="#fe9c2e"/>
<circle cx="984.9" cy="1028.2" r="5.2" fill="#c2f234"/>
<circle cx="1012.5" cy="1027.8" r="5.3" fill="#d6e536"/>
<circle cx="1140.8" cy="1030.0" r="5.3" fill="#dfdf37"/>
<circle cx="852.2" cy="1029.5" r="5.2" fill="#b3f837"/>
<circle cx="1043.5" cy="1029.6" r="5.3" fill="#c8ee34"/>
<circle cx="918.6" cy="1028.1" r="5.2" fill="#adfa39"/>
<circle cx="784.5" cy="1028.1" r="5.3" fill="#dedf37"/>
<circle cx="1046.6" cy="1029.4" r="5.3" fill="#ceeb34"/>
<circle cx="1108.9" cy="1030.2" r="5.3" fill="#ebd239"/>
<circle cx="821.0" cy="1030.1" r="5.2" fill="#acfa39"/>
<circle cx="748.9" cy="1028.1" r="4.9" fill="#f6c23a"/>
<circle cx="717.4" cy="1027.2" r="5.0" fill="#fab838"/>
<circle cx="685.0" cy="1018.0" r="5.2" fill="#fc8725"/>
<circle cx="814.5" cy="1030.0" r="5.2" fill="#b5f736"/>
<circle cx="1111.2" cy="1029.7" r="5.3" fill="#e1dd37"/>
<circle cx="787.3" cy="1030.1" r="5.2" fill="#95fe45"/>
<circle cx="881.8" cy="1029.8" r="5.2" fill="#b2f837"/>
<circle cx="586.5" cy="631.0" r="11.8" fill="#9d1001"/>
<circle cx="945.9" cy="1032.1" r="5.2" fill="#acfa39"/>
<circle cx="650.1" cy="1013.6" r="5.4" fill="#f9781e"/>
<circle cx="844.1" cy="1033.0" r="5.2" fill="#99fe43"/>
<circle cx="1076.2" cy="1029.5" r="5.3" fill="#cbed34"/>
<circle cx="874.8" cy="1031.1" r="5.2" fill="#96fe45"/>
<circle cx="973.4" cy="1032.6" r="5.2" fill="#b7f735"/>
<circle cx="1072.2" cy="1030.8" r="5.3" fill="#dfde37"/>
<circle cx="907.4" cy="1031.2" r="5.2" fill="#93fe46"/>
<circle cx="941.6" cy="1031.3" r="5.2" fill="#b8f635"/>
<circle cx="1009.1" cy="1031.7" r="5.3" fill="#ceeb34"/>
<circle cx="761.7" cy="1026.4" r="5.0" fill="#fdad34"/>
<circle cx="977.3" cy="1030.9" r="5.2" fill="#bff335"/>
<circle cx="1004.8" cy="1031.0" r="5.2" fill="#bff335"/>
<circle cx="1135.1" cy="1030.4" r="4.9" fill="#efcd3a"/>
<circle cx="845.8" cy="1033.9" r="5.2" fill="#7bfe58"/>
<circle cx="1037.4" cy="1032.3" r="5.3" fill="#caed34"/>
<circle cx="911.3" cy="1032.1" r="5.2" fill="#94fe46"/>
<circle cx="776.7" cy="1029.0" r="4.9" fill="#f7c13a"/>
<circle cx="1165.8" cy="1029.7" r="5.3" fill="#ead339"/>
<circle cx="1042.0" cy="1029.7" r="5.3" fill="#e1dd37"/>
<circle cx="1100.7" cy="1029.9" r="5.3" fill="#e4d938"/>
<circle cx="814.8" cy="1033.2" r="5.2" fill="#a0fd3e"/>
<circle cx="742.8" cy="1027.2" r="5.0" fill="#fdab33"/>
<circle cx="710.1" cy="1017.0" r="5.3" fill="#fb7d20"/>
<circle cx="678.8" cy="997.3" r="5.8" fill="#ee5811"/>
<circle cx="806.5" cy="1031.9" r="5.2" fill="#8eff4a"/>
<circle cx="779.5" cy="1032.0" r="5.2" fill="#98fe43"/>
<circle cx="878.9" cy="1032.1" r="5.2" fill="#7bfe58"/>
<circle cx="726.2" cy="1026.9" r="5.0" fill="#fdaa33"/>
<circle cx="661.4" cy="995.1" r="5.9" fill="#ed5510"/>
<circle cx="942.1" cy="1033.5" r="5.2" fill="#b4f836"/>
<circle cx="837.8" cy="1032.8" r="5.2" fill="#8dff4a"/>
<circle cx="1071.6" cy="1031.3" r="5.3" fill="#d7e536"/>
<circle cx="869.5" cy="1032.9" r="5.2" fill="#88ff4e"/>
<circle cx="1136.2" cy="1032.4" r="5.3" fill="#d8e436"/>
<circle cx="966.2" cy="1035.2" r="5.2" fill="#b1f937"/>
<circle cx="1063.2" cy="1034.6" r="5.3" fill="#ceeb34"/>
<circle cx="901.8" cy="1035.2" r="5.2" fill="#9ffd3f"/>
<circle cx="933.4" cy="1033.1" r="5.2" fill="#a6fc3b"/>
<circle cx="1004.0" cy="1032.3" r="5.3" fill="#cbed34"/>
<circle cx="972.9" cy="1035.5" r="5.2" fill="#b5f736"/>
<circle cx="999.8" cy="1035.0" r="5.2" fill="#b4f836"/>
<circle cx="1129.4" cy="1034.5" r="5.3" fill="#cdec34"/>
<circle cx="841.7" cy="1033.7" r="5.2" fill="#97fe44"/>
<circle cx="1031.7" cy="1033.7" r="5.2" fill="#c0f334"/>
<circle cx="905.4" cy="1036.1" r="5.2" fill="#90fe48"/>
<circle cx="769.7" cy="1034.5" r="5.3" fill="#e6d838"/>
<circle cx="1160.9" cy="1034.3" r="5.3" fill="#dfdf37"/>
<circle cx="1033.9" cy="1034.4" r="5.3" fill="#c5f034"/>
<circle cx="1095.9" cy="1034.6" r="5.3" fill="#d6e536"/>
<circle cx="809.0" cy="1036.4" r="5.2" fill="#82fe52"/>
<circle cx="737.3" cy="1031.9" r="4.9" fill="#f4c53a"/>
<circle cx="704.1" cy="1025.3" r="5.2" fill="#fd9229"/>
<circle cx="672.7" cy="1014.9" r="5.4" fill="#f8721c"/>
<circle cx="802.4" cy="1035.1" r="5.2" fill="#73fe5e"/>
<circle cx="1099.4" cy="1034.9" r="5.3" fill="#d1e935"/>
<circle cx="775.6" cy="1033.7" r="5.2" fill="#7cfe57"/>
<circle cx="870.8" cy="1034.0" r="5.2" fill="#88ff4e"/>
<circle cx="719.6" cy="1031.4" r="5.0" fill="#f9ba38"/>
<circle cx="654.8" cy="1014.9" r="5.5" fill="#f76f1b"/>
<circle cx="934.2" cy="1034.8" r="5.2" fill="#acfa39"/>
<circle cx="638.3" cy="995.9" r="5.9" fill="#ec530f"/>
<circle cx="830.9" cy="1037.2" r="5.2" fill="#8dff4a"/>
<circle cx="1064.1" cy="1035.0" r="5.3" fill="#cdec34"/>
<circle cx="864.7" cy="1036.0" r="5.2" fill="#82fe52"/>
<circle cx="960.1" cy="1036.2" r="5.2" fill="#acfa39"/>
<circle cx="1057.2" cy="1035.2" r="5.3" fill="#d6e536"/>
<circle cx="896.1" cy="1037.0" r="5.2" fill="#71fe5f"/>
<circle cx="929.9" cy="1034.9" r="5.2" fill="#99fd43"/>
<circle cx="998.9" cy="1037.4" r="5.2" fill="#b0f938"/>
<circle cx="965.5" cy="1035.8" r="5.2" fill="#a8fb3a"/>
<circle cx="993.7" cy="1035.6" r="5.2" fill="#b1f937"/>
<circle cx="1121.6" cy="1035.3" r="5.3" fill="#e9d439"/>
<circle cx="833.7" cy="1035.7" r="5.2" fill="#74fe5d"/>
<circle cx="1026.5" cy="1035.3" r="5.3" fill="#cbed34"/>
<circle cx="901.3" cy="1036.6" r="5.2" fill="#82fe53"/>
<circle cx="765.4" cy="1034.9" r="5.3" fill="#e6d738"/>
<circle cx="1155.8" cy="1034.4" r="5.3" fill="#dedf37"/>
<circle cx="1028.8" cy="1036.5" r="5.3" fill="#cbed34"/>
<circle cx="1090.6" cy="1036.1" r="5.3" fill="#ceeb34"/>
<circle cx="800.8" cy="1036.5" r="5.2" fill="#62fc6c"/>
<circle cx="731.0" cy="1033.9" r="5.0" fill="#f8be39"/>
<circle cx="699.2" cy="1033.0" r="5.0" fill="#fcb035"/>
<circle cx="665.7" cy="1015.5" r="5.5" fill="#f76e1a"/>
<circle cx="796.2" cy="1038.2" r="5.2" fill="#61fc6c"/>
<circle cx="1091.7" cy="1037.2" r="5.3" fill="#dbe136"/>
<circle cx="768.8" cy="1038.2" r="5.2" fill="#7dfe57"/>
<circle cx="866.4" cy="1036.0" r="5.2" fill="#9bfd41"/>
<circle cx="930.5" cy="1039.1" r="5.2" fill="#9bfd41"/>
<circle cx="632.1" cy="1006.7" r="5.7" fill="#f05d13"/>
<circle cx="827.8" cy="1036.9" r="5.2" fill="#75fe5d"/>
<circle cx="1058.8" cy="1038.6" r="5.3" fill="#d3e735"/>
<circle cx="858.8" cy="1037.4" r="5.2" fill="#7bfe58"/>
<circle cx="1122.7" cy="1038.8" r="5.3" fill="#e3da38"/>
<circle cx="956.2" cy="1039.7" r="5.2" fill="#b3f837"/>
<circle cx="1052.9" cy="1037.7" r="5.3" fill="#d0e935"/>
<circle cx="890.7" cy="1040.1" r="5.2" fill="#78fe5a"/>
<circle cx="923.1" cy="1038.3" r="5.2" fill="#95fe45"/>
<circle cx="991.0" cy="1038.4" r="5.2" fill="#bef435"/>
<circle cx="744.1" cy="1033.3" r="5.0" fill="#fcb236"/>
<circle cx="679.2" cy="1016.9" r="5.5" fill="#f76e1a"/>
<circle cx="959.6" cy="1038.5" r="5.2" fill="#acfa39"/>
<circle cx="987.1" cy="1038.7" r="5.2" fill="#bef435"/>
<circle cx="1116.8" cy="1037.0" r="5.3" fill="#e1dd37"/>
<circle cx="828.5" cy="1040.4" r="5.2" fill="#6bfd64"/>
<circle cx="1017.1" cy="1039.6" r="5.2" fill="#b7f735"/>
<circle cx="894.4" cy="1040.8" r="5.2" fill="#73fe5e"/>
<circle cx="759.4" cy="1035.0" r="5.0" fill="#fbb436"/>
<circle cx="1023.9" cy="1038.5" r="5.3" fill="#c4f034"/>
<circle cx="1082.9" cy="1039.9" r="5.3" fill="#d5e635"/>
<circle cx="796.6" cy="1038.3" r="5.2" fill="#61fc6d"/>
<circle cx="724.9" cy="1029.4" r="5.2" fill="#fe922a"/>
<circle cx="692.4" cy="1022.8" r="5.3" fill="#fa7b20"/>
<circle cx="660.2" cy="1028.8" r="5.2" fill="#fd9129"/>
<circle cx="791.1" cy="1040.2" r="5.1" fill="#48f882"/>
<circle cx="1087.6" cy="1037.8" r="5.3" fill="#cdec34"/>
<circle cx="763.2" cy="1041.4" r="5.1" fill="#51fa7a"/>
<circle cx="859.6" cy="1039.3" r="5.2" fill="#7bfe58"/>
<circle cx="924.7" cy="1039.9" r="5.2" fill="#8ffe49"/>
<circle cx="821.5" cy="1039.9" r="5.2" fill="#70fe60"/>
<circle cx="853.4" cy="1041.1" r="5.2" fill="#64fc6a"/>
<circle cx="950.5" cy="1039.4" r="5.2" fill="#92fe47"/>
<circle cx="1045.9" cy="1041.0" r="5.2" fill="#c3f134"/>
<circle cx="885.7" cy="1041.8" r="5.2" fill="#8cff4b"/>
<circle cx="917.8" cy="1040.9" r="5.2" fill="#91fe48"/>
<circle cx="985.9" cy="1039.5" r="5.2" fill="#a2fd3d"/>
<circle cx="1181.6" cy="1041.1" r="5.3" fill="#e3db38"/>
<circle cx="952.3" cy="1039.6" r="5.2" fill="#b1f837"/>
<circle cx="981.8" cy="1040.6" r="5.2" fill="#b4f836"/>
<circle cx="1110.5" cy="1040.1" r="5.3" fill="#e5d838"/>
<circle cx="824.6" cy="1040.5" r="5.1" fill="#59fb74"/>
<circle cx="1012.9" cy="1040.4" r="5.2" fill="#b5f736"/>
<circle cx="887.2" cy="1040.3" r="5.2" fill="#81fe53"/>
<circle cx="753.2" cy="1038.1" r="4.9" fill="#f8bf39"/>
<circle cx="1015.5" cy="1041.8" r="5.2" fill="#b0f938"/>
<circle cx="1077.4" cy="1041.6" r="5.3" fill="#cbed34"/>
<circle cx="790.6" cy="1042.5" r="5.1" fill="#2ff09b"/>
<circle cx="1175.2" cy="1041.2" r="5.3" fill="#cfeb34"/>
<circle cx="719.7" cy="1038.0" r="5.0" fill="#f8be39"/>
<circle cx="686.8" cy="1029.2" r="5.3" fill="#fc8524"/>
<circle cx="653.4" cy="1004.6" r="5.8" fill="#ed5610"/>
<circle cx="782.6" cy="1043.5" r="5.1" fill="#2beea1"/>
<circle cx="754.7" cy="1040.8" r="5.1" fill="#2aeea1"/>
<circle cx="853.4" cy="1041.9" r="5.2" fill="#76fe5b"/>
<circle cx="701.8" cy="1034.7" r="5.1" fill="#fea230"/>
<circle cx="918.4" cy="1043.1" r="5.2" fill="#8dff4a"/>
<circle cx="814.0" cy="1041.6" r="5.1" fill="#57fa75"/>
<circle cx="1045.3" cy="1043.6" r="5.3" fill="#cbed34"/>
<circle cx="845.9" cy="1042.2" r="5.1" fill="#56fa76"/>
<circle cx="1109.2" cy="1043.3" r="5.3" fill="#dae236"/>
<circle cx="942.2" cy="1043.8" r="5.2" fill="#86ff4f"/>
<circle cx="1040.2" cy="1042.5" r="5.3" fill="#d4e735"/>
<circle cx="877.4" cy="1041.5" r="5.2" fill="#6efe62"/>
<circle cx="909.4" cy="1043.3" r="5.2" fill="#73fe5e"/>
<circle cx="978.9" cy="1042.7" r="5.2" fill="#aff938"/>
<circle cx="948.7" cy="1043.5" r="5.2" fill="#abfa39"/>
<circle cx="973.3" cy="1042.1" r="5.2" fill="#96fe45"/>
<circle cx="817.8" cy="1043.1" r="5.1" fill="#38f492"/>
<circle cx="1008.1" cy="1041.7" r="5.2" fill="#b6f736"/>
<circle cx="883.0" cy="1045.3" r="5.2" fill="#6afd65"/>
<circle cx="748.3" cy="1041.8" r="5.3" fill="#e0de37"/>
<circle cx="1136.3" cy="1041.8" r="5.3" fill="#dce137"/>
<circle cx="1012.4" cy="1042.2" r="5.2" fill="#b6f736"/>
<circle cx="1071.3" cy="1044.9" r="5.3" fill="#c9ee34"/>
<circle cx="782.1" cy="1045.3" r="5.1" fill="#35f395"/>
<circle cx="712.6" cy="1041.4" r="4.9" fill="#f8bf39"/>
<circle cx="679.9" cy="1037.5" r="5.1" fill="#fda632"/>
<circle cx="647.8" cy="1027.4" r="5.4" fill="#fa791f"/>
<circle cx="776.1" cy="1043.7" r="5.1" fill="#2aeea1"/>
<circle cx="1073.4" cy="1042.8" r="5.3" fill="#c6ef34"/>
<circle cx="750.6" cy="1043.1" r="5.1" fill="#22eaab"/>
<circle cx="846.3" cy="1044.2" r="5.1" fill="#47f784"/>
<circle cx="631.5" cy="1016.6" r="5.6" fill="#f36315"/>
<circle cx="910.8" cy="1044.0" r="5.2" fill="#73fe5e"/>
<circle cx="808.9" cy="1045.2" r="5.1" fill="#2aeea2"/>
<circle cx="838.8" cy="1044.0" r="5.1" fill="#32f298"/>
<circle cx="1102.7" cy="1042.8" r="5.3" fill="#d6e536"/>
<circle cx="937.5" cy="1046.6" r="5.2" fill="#92fe47"/>
<circle cx="1032.9" cy="1044.2" r="5.2" fill="#c1f234"/>
<circle cx="873.8" cy="1045.1" r="5.2" fill="#70fe60"/>
<circle cx="904.4" cy="1046.8" r="5.2" fill="#7bfe58"/>
<circle cx="975.0" cy="1046.7" r="5.2" fill="#9cfd41"/>
<circle cx="660.6" cy="1035.0" r="5.2" fill="#fd8d27"/>
<circle cx="941.1" cy="1045.9" r="5.2" fill="#83fe51"/>
<circle cx="969.0" cy="1046.4" r="5.2" fill="#77fe5b"/>
<circle cx="1096.5" cy="1044.5" r="5.3" fill="#cdec34"/>
<circle cx="811.9" cy="1046.1" r="5.1" fill="#2cef9f"/>
<circle cx="999.3" cy="1046.8" r="5.2" fill="#a5fc3b"/>
<circle cx="876.0" cy="1045.6" r="5.2" fill="#62fc6c"/>
<circle cx="739.7" cy="1045.4" r="5.3" fill="#c4f134"/>
<circle cx="1003.7" cy="1045.8" r="5.2" fill="#b2f837"/>
<circle cx="1065.2" cy="1046.5" r="5.3" fill="#c3f134"/>
<circle cx="777.0" cy="1044.9" r="5.1" fill="#24eba9"/>
<circle cx="1162.0" cy="1043.9" r="5.3" fill="#d9e336"/>
<circle cx="707.8" cy="1044.3" r="4.9" fill="#f4c53a"/>
<circle cx="674.5" cy="1040.6" r="5.0" fill="#fdac34"/>
<circle cx="642.0" cy="1031.8" r="5.3" fill="#fb8122"/>
<circle cx="772.5" cy="1045.1" r="5.1" fill="#1ce4b7"/>
<circle cx="742.4" cy="1046.2" r="5.1" fill="#19dfbe"/>
<circle cx="839.6" cy="1046.9" r="5.1" fill="#37f393"/>
<circle cx="690.4" cy="1028.8" r="5.4" fill="#f9781e"/>
<circle cx="624.8" cy="1032.6" r="5.3" fill="#fc8424"/>
<circle cx="903.5" cy="1046.1" r="5.2" fill="#66fd68"/>
<circle cx="608.0" cy="1023.4" r="5.5" fill="#f66b19"/>
<circle cx="800.9" cy="1046.3" r="5.1" fill="#2aeea1"/>
<circle cx="834.1" cy="1046.7" r="5.1" fill="#3bf48f"/>
<circle cx="931.9" cy="1047.2" r="5.2" fill="#83fe51"/>
<circle cx="1027.9" cy="1048.2" r="5.2" fill="#b8f635"/>
<circle cx="866.0" cy="1047.2" r="5.1" fill="#4cf97e"/>
<circle cx="897.6" cy="1046.7" r="5.2" fill="#6afd65"/>
<circle cx="969.6" cy="1047.7" r="5.2" fill="#91fe48"/>
<circle cx="655.2" cy="1027.6" r="5.5" fill="#f7701b"/>
<circle cx="934.9" cy="1046.5" r="5.2" fill="#8ffe49"/>
<circle cx="960.9" cy="1049.3" r="5.2" fill="#86ff4f"/>
<circle cx="1093.4" cy="1048.3" r="5.2" fill="#c3f134"/>
<circle cx="803.6" cy="1047.3" r="5.1" fill="#20e9ad"/>
<circle cx="993.7" cy="1048.3" r="5.2" fill="#a6fc3b"/>
<circle cx="869.5" cy="1048.0" r="5.1" fill="#50f97b"/>
<circle cx="734.7" cy="1045.0" r="4.9" fill="#f7c13a"/>
<circle cx="1122.4" cy="1047.6" r="5.3" fill="#dedf37"/>
<circle cx="998.9" cy="1048.1" r="5.2" fill="#89ff4d"/>
<circle cx="1188.7" cy="1048.8" r="5.3" fill="#dce136"/>
<circle cx="771.6" cy="1050.1" r="5.1" fill="#1ee8b0"/>
<circle cx="701.1" cy="1042.4" r="5.1" fill="#fda431"/>
<circle cx="668.5" cy="1032.0" r="5.4" fill="#f9791f"/>
<circle cx="764.8" cy="1049.2" r="5.1" fill="#1ae0bd"/>
<circle cx="736.7" cy="1048.3" r="5.0" fill="#1fcadb"/>
<circle cx="834.5" cy="1050.6" r="5.1" fill="#2def9e"/>
<circle cx="684.7" cy="1041.5" r="5.1" fill="#fda431"/>
<circle cx="898.3" cy="1048.8" r="5.2" fill="#65fc69"/>
<circle cx="795.9" cy="1049.0" r="5.1" fill="#20e9ae"/>
<circle cx="826.7" cy="1050.1" r="5.1" fill="#23eba9"/>
<circle cx="925.4" cy="1048.8" r="5.2" fill="#69fd66"/>
<circle cx="1022.2" cy="1049.4" r="5.2" fill="#b8f635"/>
<circle cx="861.5" cy="1050.1" r="5.1" fill="#39f491"/>
<circle cx="891.4" cy="1049.2" r="5.1" fill="#40f68a"/>
<circle cx="962.0" cy="1050.9" r="5.2" fill="#8bff4b"/>
<circle cx="1156.1" cy="1048.4" r="5.3" fill="#d5e635"/>
<circle cx="648.5" cy="1037.0" r="5.2" fill="#fc8925"/>
<circle cx="930.2" cy="1048.9" r="5.2" fill="#78fe5a"/>
<circle cx="956.8" cy="1049.3" r="5.2" fill="#78fe5a"/>
<circle cx="1087.1" cy="1050.3" r="5.3" fill="#c8ee34"/>
<circle cx="799.4" cy="1051.7" r="5.1" fill="#1ee8b1"/>
<circle cx="986.8" cy="1050.6" r="5.2" fill="#95fe45"/>
<circle cx="864.1" cy="1049.9" r="5.1" fill="#3ff58c"/>
<circle cx="727.0" cy="1047.5" r="5.3" fill="#eecf3a"/>
<circle cx="1116.3" cy="1050.3" r="5.3" fill="#dfdf37"/>
<circle cx="993.2" cy="1050.1" r="5.2" fill="#a9fb3a"/>
<circle cx="1181.1" cy="1047.9" r="5.3" fill="#dce136"/>
<circle cx="765.8" cy="1052.0" r="5.1" fill="#19d9c8"/>
<circle cx="695.1" cy="1047.4" r="5.0" fill="#fab837"/>
<circle cx="661.8" cy="1039.2" r="5.2" fill="#fd8c27"/>
<circle cx="629.8" cy="1020.4" r="5.7" fill="#f15e13"/>
<circle cx="761.0" cy="1051.7" r="5.1" fill="#19dfbe"/>
<circle cx="732.2" cy="1050.2" r="5.1" fill="#1cd0d4"/>
<circle cx="828.4" cy="1051.9" r="5.1" fill="#19dfbf"/>
<circle cx="677.8" cy="1044.7" r="5.0" fill="#fda732"/>
<circle cx="893.6" cy="1050.2" r="5.1" fill="#46f785"/>
<circle cx="791.5" cy="1053.0" r="5.1" fill="#1ae1bc"/>
<circle cx="821.7" cy="1053.5" r="5.1" fill="#24eba8"/>
<circle cx="920.0" cy="1050.5" r="5.2" fill="#5ffb6f"/>
<circle cx="1015.5" cy="1050.8" r="5.2" fill="#a8fb3a"/>
<circle cx="854.8" cy="1051.6" r="5.1" fill="#1ee8b0"/>
<circle cx="884.9" cy="1051.7" r="5.1" fill="#33f297"/>
<circle cx="956.6" cy="1052.0" r="5.2" fill="#8eff4a"/>
<circle cx="708.4" cy="1050.5" r="4.9" fill="#ebd339"/>
<circle cx="641.8" cy="1041.7" r="5.2" fill="#fe932a"/>
<circle cx="922.9" cy="1050.9" r="5.1" fill="#4cf97e"/>
<circle cx="950.2" cy="1050.9" r="5.2" fill="#5ffc6e"/>
<circle cx="792.1" cy="1053.6" r="5.1" fill="#18dbc5"/>
<circle cx="982.1" cy="1052.1" r="5.2" fill="#80fe54"/>
<circle cx="858.9" cy="1051.3" r="5.1" fill="#33f297"/>
<circle cx="721.2" cy="1052.6" r="5.3" fill="#e0de37"/>
<circle cx="1112.9" cy="1053.1" r="5.3" fill="#d0ea35"/>
<circle cx="986.4" cy="1053.8" r="5.2" fill="#a9fb3a"/>
<circle cx="759.2" cy="1052.1" r="5.0" fill="#1dcdd8"/>
<circle cx="1144.6" cy="1050.7" r="5.3" fill="#d6e635"/>
<circle cx="689.1" cy="1049.7" r="4.9" fill="#f8bf39"/>
<circle cx="656.3" cy="1045.0" r="5.1" fill="#fe9e2e"/>
<circle cx="624.3" cy="1041.8" r="5.2" fill="#fc8926"/>
<circle cx="753.4" cy="1052.6" r="5.0" fill="#24c3e4"/>
<circle cx="726.0" cy="1053.3" r="5.0" fill="#2fb2f2"/>
<circle cx="824.2" cy="1054.2" r="5.1" fill="#1ce4b6"/>
<circle cx="885.7" cy="1052.4" r="5.1" fill="#5cfb71"/>
<circle cx="785.2" cy="1055.4" r="5.0" fill="#1cced7"/>
<circle cx="816.3" cy="1053.4" r="5.1" fill="#18ddc2"/>
<circle cx="913.2" cy="1055.2" r="5.1" fill="#44f786"/>
<circle cx="1011.5" cy="1055.2" r="5.2" fill="#9bfd41"/>
<circle cx="846.3" cy="1055.3" r="5.1" fill="#1ae1bc"/>
<circle cx="880.5" cy="1056.0" r="5.1" fill="#3ef58c"/>
<circle cx="950.9" cy="1052.9" r="5.2" fill="#73fe5e"/>
<circle cx="702.1" cy="1047.2" r="5.1" fill="#fea02f"/>
<circle cx="916.8" cy="1053.8" r="5.1" fill="#52fa79"/>
<circle cx="945.0" cy="1054.1" r="5.2" fill="#65fc69"/>
<circle cx="786.8" cy="1054.3" r="5.0" fill="#20c9dd"/>
<circle cx="975.8" cy="1054.5" r="5.2" fill="#90fe48"/>
<circle cx="852.4" cy="1053.8" r="5.1" fill="#27eda5"/>
<circle cx="716.0" cy="1054.9" r="5.3" fill="#cfea34"/>
<circle cx="1105.2" cy="1054.6" r="5.3" fill="#cdec34"/>
<circle cx="979.2" cy="1054.3" r="5.2" fill="#9afd42"/>
<circle cx="754.5" cy="1053.9" r="5.0" fill="#2abaed"/>
<circle cx="683.1" cy="1053.7" r="4.9" fill="#f0cb3a"/>
<circle cx="618.0" cy="1040.5" r="5.3" fill="#fb7f21"/>
<circle cx="747.5" cy="1056.8" r="5.0" fill="#2abaed"/>
<circle cx="719.4" cy="1054.0" r="5.0" fill="#3e9afd"/>
<circle cx="816.9" cy="1057.3" r="5.1" fill="#1bd2d1"/>
<circle cx="666.7" cy="1041.6" r="5.3" fill="#fc8323"/>
<circle cx="881.9" cy="1055.5" r="5.1" fill="#29eda3"/>
<circle cx="584.1" cy="1035.8" r="5.4" fill="#f7711b"/>
<circle cx="779.4" cy="1055.4" r="5.0" fill="#21c6e0"/>
<circle cx="809.0" cy="1057.1" r="5.0" fill="#1eccda"/>
<circle cx="905.6" cy="1057.7" r="5.1" fill="#36f394"/>
<circle cx="1004.4" cy="1056.5" r="5.2" fill="#94fe46"/>
<circle cx="842.0" cy="1057.7" r="5.1" fill="#1ce3b7"/>
<circle cx="875.0" cy="1057.7" r="5.1" fill="#30f19b"/>
<circle cx="944.0" cy="1056.5" r="5.1" fill="#57fa75"/>
<circle cx="694.8" cy="1055.2" r="4.9" fill="#f0cc3a"/>
<circle cx="630.5" cy="1027.2" r="5.7" fill="#f15f14"/>
<circle cx="912.1" cy="1056.4" r="5.1" fill="#44f787"/>
<circle cx="937.3" cy="1056.3" r="5.1" fill="#5efb6f"/>
<circle cx="779.7" cy="1056.2" r="5.0" fill="#23c3e3"/>
<circle cx="971.0" cy="1058.7" r="5.2" fill="#76fe5c"/>
<circle cx="845.0" cy="1057.9" r="5.1" fill="#19dfbf"/>
<circle cx="710.4" cy="1053.7" r="5.0" fill="#f8be39"/>
<circle cx="1098.7" cy="1056.8" r="5.3" fill="#d5e635"/>
<circle cx="973.9" cy="1059.0" r="5.2" fill="#6bfd64"/>
<circle cx="748.0" cy="1057.4" r="5.0" fill="#31aff4"/>
<circle cx="677.4" cy="1051.2" r="5.1" fill="#fda632"/>
<circle cx="611.1" cy="1023.5" r="5.8" fill="#ef5a12"/>
<circle cx="740.3" cy="1057.7" r="5.0" fill="#3d9dfc"/>
<circle cx="711.9" cy="1058.9" r="5.0" fill="#467bf2"/>
<circle cx="812.0" cy="1058.6" r="5.0" fill="#1eccd9"/>
<circle cx="875.2" cy="1058.7" r="5.1" fill="#1ce4b7"/>
<circle cx="772.5" cy="1056.9" r="5.0" fill="#26bfe7"/>
<circle cx="1003.4" cy="1057.0" r="5.2" fill="#90fe48"/>
<circle cx="805.1" cy="1057.2" r="5.0" fill="#24c2e4"/>
<circle cx="899.6" cy="1060.5" r="5.1" fill="#22eaac"/>
<circle cx="997.5" cy="1057.9" r="5.2" fill="#92fe47"/>
<circle cx="834.5" cy="1057.5" r="5.1" fill="#18ddc2"/>
<circle cx="868.3" cy="1060.4" r="5.1" fill="#19e0be"/>
<circle cx="937.9" cy="1057.2" r="5.1" fill="#47f783"/>
<circle cx="624.2" cy="1042.6" r="5.3" fill="#fa7c20"/>
<circle cx="905.5" cy="1060.2" r="5.1" fill="#3bf48f"/>
<circle cx="933.5" cy="1059.7" r="5.1" fill="#4df97d"/>
<circle cx="774.6" cy="1057.7" r="5.0" fill="#28bceb"/>
<circle cx="964.8" cy="1059.5" r="5.2" fill="#65fc69"/>
<circle cx="840.9" cy="1058.8" r="5.1" fill="#18ddc2"/>
<circle cx="706.0" cy="1057.5" r="5.3" fill="#edd03a"/>
<circle cx="1093.8" cy="1060.1" r="5.2" fill="#c0f234"/>
<circle cx="967.5" cy="1059.0" r="5.1" fill="#58fb74"/>
<circle cx="742.5" cy="1060.5" r="5.0" fill="#39a3fb"/>
<circle cx="1098.2" cy="1060.2" r="5.3" fill="#cdec34"/>
<circle cx="670.7" cy="1056.0" r="5.0" fill="#fbb537"/>
<circle cx="637.7" cy="1050.0" r="5.1" fill="#fe952b"/>
<circle cx="605.5" cy="1030.7" r="5.6" fill="#f26115"/>
<circle cx="736.4" cy="1059.7" r="5.0" fill="#3f99fd"/>
<circle cx="706.4" cy="1061.2" r="4.9" fill="#4662d7"/>
<circle cx="804.6" cy="1061.2" r="5.0" fill="#23c4e2"/>
<circle cx="654.4" cy="1052.7" r="5.1" fill="#fe9f2f"/>
<circle cx="867.3" cy="1059.8" r="5.1" fill="#18dec1"/>
<circle cx="572.2" cy="1018.0" r="6.0" fill="#eb500e"/>
<circle cx="764.7" cy="1059.9" r="5.0" fill="#33adf6"/>
<circle cx="998.8" cy="1060.7" r="5.2" fill="#66fd68"/>
<circle cx="798.7" cy="1062.5" r="5.0" fill="#22c5e1"/>
<circle cx="894.6" cy="1062.3" r="5.1" fill="#2cef9f"/>
<circle cx="992.1" cy="1059.4" r="5.2" fill="#62fc6b"/>
<circle cx="830.1" cy="1060.9" r="5.1" fill="#1bd2d2"/>
<circle cx="860.7" cy="1061.8" r="5.1" fill="#1ce4b7"/>
<circle cx="931.1" cy="1061.0" r="5.1" fill="#4df97e"/>
<circle cx="683.2" cy="1059.2" r="4.9" fill="#e9d439"/>
<circle cx="618.8" cy="1044.6" r="5.3" fill="#fa7a1f"/>
<circle cx="897.7" cy="1062.5" r="5.1" fill="#22eaab"/>
<circle cx="927.5" cy="1060.9" r="5.1" fill="#4ef97d"/>
<circle cx="767.3" cy="1061.1" r="5.0" fill="#3ba1fc"/>
<circle cx="957.9" cy="1061.8" r="5.2" fill="#61fc6c"/>
<circle cx="831.9" cy="1060.7" r="5.1" fill="#1bd2d1"/>
<circle cx="699.1" cy="1059.7" r="5.3" fill="#e7d638"/>
<circle cx="1086.8" cy="1059.7" r="5.3" fill="#c7ef34"/>
<circle cx="963.5" cy="1062.2" r="5.1" fill="#58fb74"/>
<circle cx="735.0" cy="1060.4" r="5.0" fill="#4584f8"/>
<circle cx="1118.6" cy="1062.8" r="5.3" fill="#c8ef34"/>
<circle cx="664.3" cy="1059.1" r="4.9" fill="#f8bf39"/>
<circle cx="632.3" cy="1053.4" r="5.1" fill="#fe9a2d"/>
<circle cx="599.7" cy="1050.9" r="5.2" fill="#fc8a26"/>
<circle cx="729.9" cy="1062.8" r="4.9" fill="#466de4"/>
<circle cx="1215.4" cy="1062.3" r="5.3" fill="#e8d539"/>
<circle cx="701.0" cy="1063.4" r="4.9" fill="#3e3b97"/>
<circle cx="800.2" cy="1063.4" r="5.0" fill="#2ab9ed"/>
<circle cx="602.5" cy="662.5" r="11.3" fill="#a21201"/>
<circle cx="582.5" cy="1040.3" r="5.5" fill="#f66c19"/>
<circle cx="861.7" cy="1061.9" r="5.1" fill="#1be2b9"/>
<circle cx="565.4" cy="1034.4" r="5.6" fill="#f26115"/>
<circle cx="758.4" cy="1062.5" r="5.0" fill="#4489fa"/>
<circle cx="989.9" cy="1064.5" r="5.2" fill="#85ff50"/>
<circle cx="790.0" cy="1062.0" r="5.0" fill="#27bee9"/>
<circle cx="887.4" cy="1063.0" r="5.1" fill="#23ebaa"/>
<circle cx="987.3" cy="1062.2" r="5.1" fill="#44f687"/>
<circle cx="824.2" cy="1063.5" r="5.0" fill="#27bee9"/>
<circle cx="856.8" cy="1064.2" r="5.1" fill="#1bd4cf"/>
<circle cx="927.3" cy="1063.6" r="5.1" fill="#38f492"/>
<circle cx="677.1" cy="1058.3" r="5.0" fill="#fdaa33"/>
<circle cx="892.6" cy="1065.3" r="5.1" fill="#21eaac"/>
<circle cx="920.5" cy="1062.3" r="5.1" fill="#33f297"/>
<circle cx="761.9" cy="1064.6" r="5.0" fill="#3e9bfd"/>
<circle cx="950.7" cy="1062.3" r="5.1" fill="#49f882"/>
<circle cx="827.5" cy="1065.6" r="5.0" fill="#27bee9"/>
<circle cx="692.1" cy="1060.6" r="4.9" fill="#f8bf39"/>
<circle cx="1082.7" cy="1063.2" r="5.2" fill="#aafb39"/>
<circle cx="957.4" cy="1065.6" r="5.1" fill="#46f785"/>
<circle cx="728.9" cy="1065.7" r="4.9" fill="#466be3"/>
<circle cx="1112.1" cy="1065.5" r="5.2" fill="#b7f735"/>
<circle cx="659.2" cy="1056.7" r="5.1" fill="#fe9a2d"/>
<circle cx="845.6" cy="664.5" r="10.1" fill="#ae1801"/>
<circle cx="626.4" cy="1046.4" r="5.4" fill="#f8751d"/>
<circle cx="724.7" cy="1064.7" r="4.9" fill="#455ed2"/>
<circle cx="696.9" cy="1063.1" r="4.9" fill="#321645"/>
<circle cx="792.2" cy="1064.7" r="5.0" fill="#3c9dfc"/>
<circle cx="642.1" cy="1053.7" r="5.2" fill="#fd8e28"/>
<circle cx="855.9" cy="1063.8" r="5.0" fill="#20c8de"/>
<circle cx="753.0" cy="1065.6" r="5.0" fill="#4391fd"/>
<circle cx="987.2" cy="1065.8" r="5.2" fill="#71fe60"/>
<circle cx="785.1" cy="1065.6" r="5.0" fill="#38a6fa"/>
<circle cx="881.8" cy="1065.8" r="5.1" fill="#1be3b9"/>
<circle cx="980.6" cy="1065.3" r="5.1" fill="#5efb6f"/>
<circle cx="818.3" cy="1064.6" r="5.0" fill="#1fcadc"/>
<circle cx="851.6" cy="1065.4" r="5.1" fill="#1bd3d0"/>
<circle cx="918.2" cy="1066.1" r="5.1" fill="#2ef09d"/>
<circle cx="606.8" cy="1042.9" r="5.5" fill="#f66b19"/>
<circle cx="886.1" cy="1065.2" r="5.1" fill="#1ce5b5"/>
<circle cx="915.3" cy="1066.5" r="5.1" fill="#32f298"/>
<circle cx="755.5" cy="1064.9" r="5.0" fill="#4681f7"/>
<circle cx="947.4" cy="1066.9" r="5.1" fill="#48f883"/>
<circle cx="819.5" cy="1066.0" r="5.0" fill="#26bfe8"/>
<circle cx="685.7" cy="1064.3" r="4.9" fill="#f1cb3a"/>
<circle cx="951.3" cy="1067.9" r="5.1" fill="#2ef09c"/>
<circle cx="1011.7" cy="1064.6" r="5.2" fill="#7dfe56"/>
<circle cx="721.9" cy="1067.8" r="4.9" fill="#4453c2"/>
<circle cx="653.3" cy="1058.7" r="5.1" fill="#fe9e2e"/>
<circle cx="1171.5" cy="1066.7" r="5.3" fill="#d2e835"/>
<circle cx="620.6" cy="1053.6" r="5.2" fill="#fc8825"/>
<circle cx="717.6" cy="1068.4" r="4.9" fill="#3e3a94"/>
<circle cx="787.4" cy="1065.8" r="5.0" fill="#39a4fb"/>
<circle cx="635.7" cy="1059.4" r="5.1" fill="#fe9d2e"/>
<circle cx="849.7" cy="1067.5" r="5.0" fill="#1ecbdb"/>
<circle cx="746.1" cy="1066.4" r="4.9" fill="#4675ed"/>
<circle cx="977.8" cy="1065.9" r="5.1" fill="#55fa77"/>
<circle cx="778.7" cy="1067.5" r="5.0" fill="#4585f8"/>
<circle cx="875.8" cy="1067.8" r="5.1" fill="#19d9c7"/>
<circle cx="974.6" cy="1067.8" r="5.1" fill="#4df97d"/>
<circle cx="811.0" cy="1069.1" r="5.0" fill="#32aef5"/>
<circle cx="843.6" cy="1068.8" r="5.0" fill="#24c2e4"/>
<circle cx="914.3" cy="1068.2" r="5.1" fill="#27eda5"/>
<circle cx="664.9" cy="1063.7" r="5.0" fill="#f9bd39"/>
<circle cx="881.0" cy="1067.5" r="5.1" fill="#1be3b8"/>
<circle cx="907.7" cy="1067.2" r="5.1" fill="#1de5b5"/>
<circle cx="749.4" cy="1070.0" r="5.0" fill="#4678ef"/>
<circle cx="939.5" cy="1067.4" r="5.1" fill="#29eea2"/>
<circle cx="813.9" cy="1066.8" r="5.0" fill="#31aff4"/>
<circle cx="680.4" cy="1066.3" r="4.9" fill="#f3c73a"/>
<circle cx="944.8" cy="1067.1" r="5.1" fill="#3ef58c"/>
<circle cx="1003.3" cy="1067.3" r="5.2" fill="#7dfe56"/>
<circle cx="718.8" cy="1069.5" r="4.9" fill="#3a2b76"/>
<circle cx="1101.0" cy="1069.3" r="5.2" fill="#b8f635"/>
<circle cx="646.4" cy="1063.0" r="5.0" fill="#fdac34"/>
<circle cx="1166.1" cy="1068.4" r="5.3" fill="#c9ee34"/>
<circle cx="614.1" cy="1057.7" r="5.2" fill="#fd8e28"/>
<circle cx="581.4" cy="1051.1" r="5.4" fill="#f9771e"/>
<circle cx="709.5" cy="1069.6" r="4.9" fill="#351f59"/>
<circle cx="1009.3" cy="1068.1" r="5.1" fill="#59fb74"/>
<circle cx="781.4" cy="1068.1" r="5.0" fill="#3f98fe"/>
<circle cx="630.0" cy="1059.2" r="5.2" fill="#fe932a"/>
<circle cx="564.8" cy="1046.3" r="5.5" fill="#f66d1a"/>
<circle cx="845.0" cy="1068.5" r="5.0" fill="#20c8de"/>
<circle cx="742.3" cy="1070.3" r="4.9" fill="#455dd0"/>
<circle cx="974.2" cy="1068.7" r="5.1" fill="#42f688"/>
<circle cx="580.0" cy="670.0" r="11.3" fill="#a11201"/>
<circle cx="774.7" cy="1068.5" r="5.0" fill="#4097fe"/>
<circle cx="869.3" cy="1071.3" r="5.1" fill="#1ccfd6"/>
<circle cx="966.4" cy="1071.0" r="5.1" fill="#3df58d"/>
<circle cx="805.3" cy="1071.1" r="5.0" fill="#3c9efc"/>
<circle cx="838.8" cy="1068.8" r="5.0" fill="#26bfe7"/>
<circle cx="906.5" cy="1069.7" r="5.1" fill="#19e0bd"/>
<circle cx="594.2" cy="1054.7" r="5.3" fill="#fb7f21"/>
<circle cx="874.6" cy="1070.7" r="5.0" fill="#1ecbda"/>
<circle cx="900.4" cy="1069.4" r="5.1" fill="#19dfbf"/>
<circle cx="745.6" cy="1070.4" r="4.9" fill="#4351bd"/>
<circle cx="934.0" cy="1069.3" r="5.1" fill="#2df09e"/>
<circle cx="810.0" cy="1071.9" r="5.0" fill="#37a7fa"/>
<circle cx="672.6" cy="1070.1" r="5.3" fill="#ebd239"/>
<circle cx="938.2" cy="1072.4" r="5.1" fill="#3cf58e"/>
<circle cx="997.8" cy="1069.8" r="5.2" fill="#69fd66"/>
<circle cx="709.4" cy="1072.4" r="4.9" fill="#341b50"/>
<circle cx="640.6" cy="1066.2" r="5.0" fill="#fcaf35"/>
<circle cx="608.2" cy="1064.7" r="5.0" fill="#fdaa33"/>
<circle cx="575.5" cy="1060.6" r="5.2" fill="#fd9028"/>
<circle cx="775.1" cy="1073.0" r="5.0" fill="#4586f9"/>
<circle cx="624.3" cy="1049.9" r="5.5" fill="#f76e1a"/>
<circle cx="837.0" cy="1072.5" r="5.0" fill="#25c0e6"/>
<circle cx="540.9" cy="1028.7" r="6.0" fill="#eb500e"/>
<circle cx="736.9" cy="1073.5" r="4.9" fill="#3d3589"/>
<circle cx="966.9" cy="1072.4" r="5.1" fill="#44f786"/>
<circle cx="768.5" cy="1073.7" r="4.9" fill="#4673ea"/>
<circle cx="863.5" cy="1073.7" r="5.0" fill="#24c1e5"/>
<circle cx="960.3" cy="1073.5" r="5.1" fill="#37f393"/>
<circle cx="801.2" cy="1072.9" r="5.0" fill="#4293fe"/>
<circle cx="831.0" cy="1071.1" r="5.0" fill="#33acf7"/>
<circle cx="902.8" cy="1073.1" r="5.1" fill="#1bd4cf"/>
<circle cx="867.8" cy="1071.1" r="5.0" fill="#23c4e2"/>
<circle cx="897.3" cy="1072.0" r="5.1" fill="#18dbc5"/>
<circle cx="739.0" cy="1072.6" r="4.9" fill="#4041a2"/>
<circle cx="928.6" cy="1071.7" r="5.1" fill="#23eaaa"/>
<circle cx="801.2" cy="1071.6" r="5.0" fill="#4097fe"/>
<circle cx="932.7" cy="1071.7" r="5.1" fill="#1ae0bd"/>
<circle cx="990.9" cy="1073.0" r="5.1" fill="#57fa75"/>
<circle cx="633.8" cy="1061.8" r="5.2" fill="#fd8e28"/>
<circle cx="602.4" cy="1044.0" r="5.7" fill="#f15f14"/>
<circle cx="698.4" cy="1072.0" r="5.3" fill="#e2dc37"/>
<circle cx="1185.4" cy="1073.6" r="5.3" fill="#c8ee34"/>
<circle cx="768.9" cy="1074.2" r="4.9" fill="#4673eb"/>
<circle cx="617.2" cy="1061.4" r="5.2" fill="#fc8926"/>
<circle cx="832.7" cy="1072.6" r="5.0" fill="#35aaf8"/>
<circle cx="681.5" cy="1071.0" r="4.9" fill="#f5c33a"/>
<circle cx="727.9" cy="1073.5" r="4.9" fill="#4146ab"/>
<circle cx="760.8" cy="1073.7" r="4.9" fill="#4667de"/>
<circle cx="1025.4" cy="1076.0" r="5.2" fill="#68fd66"/>
<circle cx="858.2" cy="1074.7" r="5.0" fill="#2bb7ee"/>
<circle cx="955.9" cy="1075.6" r="5.1" fill="#20e9ae"/>
<circle cx="792.4" cy="1073.6" r="5.0" fill="#4489fa"/>
<circle cx="827.0" cy="1075.1" r="5.0" fill="#35aaf9"/>
<circle cx="894.1" cy="1075.1" r="5.1" fill="#1ae1bb"/>
<circle cx="581.7" cy="1058.1" r="5.3" fill="#fa7a1f"/>
<circle cx="862.6" cy="1076.5" r="5.0" fill="#20c9dd"/>
<circle cx="890.8" cy="1074.8" r="5.1" fill="#1cd0d4"/>
<circle cx="1018.0" cy="1075.2" r="5.2" fill="#6cfd63"/>
<circle cx="731.1" cy="1074.6" r="4.9" fill="#392a73"/>
<circle cx="920.6" cy="1075.1" r="5.1" fill="#1be2b9"/>
<circle cx="796.6" cy="1075.5" r="5.0" fill="#3f99fd"/>
<circle cx="662.5" cy="1071.9" r="5.0" fill="#fab938"/>
<circle cx="1052.3" cy="1074.4" r="5.2" fill="#87ff4f"/>
<circle cx="924.5" cy="1076.3" r="5.1" fill="#22eaab"/>
<circle cx="984.8" cy="1075.4" r="5.1" fill="#48f883"/>
<circle cx="628.0" cy="1069.8" r="5.0" fill="#fdac34"/>
<circle cx="563.2" cy="1044.9" r="5.7" fill="#f15e13"/>
<circle cx="694.0" cy="1074.2" r="5.3" fill="#e7d738"/>
<circle cx="988.4" cy="1077.0" r="5.1" fill="#59fb74"/>
<circle cx="762.5" cy="1074.6" r="4.9" fill="#455bcd"/>
<circle cx="827.2" cy="1076.5" r="5.0" fill="#35aaf8"/>
<circle cx="723.2" cy="1075.4" r="4.9" fill="#3a2a74"/>
<circle cx="955.5" cy="1076.1" r="5.1" fill="#2ef09d"/>
<circle cx="755.0" cy="1078.3" r="4.9" fill="#3c3182"/>
<circle cx="853.0" cy="1076.4" r="5.0" fill="#2fb2f2"/>
<circle cx="949.3" cy="1075.3" r="5.1" fill="#28eda4"/>
<circle cx="786.7" cy="1077.0" r="5.0" fill="#4682f7"/>
<circle cx="818.1" cy="1078.1" r="5.0" fill="#4097fe"/>
<circle cx="888.6" cy="1078.1" r="5.0" fill="#1dcdd8"/>
<circle cx="641.7" cy="1072.9" r="5.0" fill="#f9bd39"/>
<circle cx="855.9" cy="1078.8" r="5.0" fill="#29baec"/>
<circle cx="884.1" cy="1078.9" r="5.0" fill="#21c7df"/>
<circle cx="1014.8" cy="1077.1" r="5.2" fill="#73fe5e"/>
<circle cx="725.8" cy="1078.8" r="4.9" fill="#331849"/>
<circle cx="917.5" cy="1076.8" r="5.1" fill="#19d8c9"/>
<circle cx="791.1" cy="1076.2" r="5.0" fill="#4676ed"/>
<circle cx="655.5" cy="1076.9" r="5.3" fill="#e8d539"/>
<circle cx="1045.9" cy="1077.9" r="5.2" fill="#60fc6d"/>
<circle cx="920.5" cy="1077.7" r="5.1" fill="#18dbc5"/>
<circle cx="981.3" cy="1077.6" r="5.1" fill="#31f199"/>
<circle cx="1049.6" cy="1076.6" r="5.2" fill="#8efe4a"/>
<circle cx="1077.6" cy="1078.2" r="5.2" fill="#9cfd41"/>
<circle cx="621.7" cy="1074.1" r="5.0" fill="#f9bc39"/>
<circle cx="1141.2" cy="1077.1" r="5.2" fill="#acfa39"/>
<circle cx="589.3" cy="1067.1" r="5.2" fill="#fd9028"/>
<circle cx="556.8" cy="1053.1" r="5.5" fill="#f56818"/>
<circle cx="686.9" cy="1078.3" r="5.3" fill="#dae236"/>
<circle cx="983.4" cy="1078.3" r="5.1" fill="#36f394"/>
<circle cx="756.4" cy="1078.4" r="4.9" fill="#424bb4"/>
<circle cx="605.9" cy="1073.2" r="5.0" fill="#fdac34"/>
<circle cx="540.6" cy="1040.0" r="5.9" fill="#ed5610"/>
<circle cx="821.2" cy="1079.2" r="5.0" fill="#3f99fd"/>
<circle cx="949.2" cy="1077.3" r="5.1" fill="#1be2ba"/>
<circle cx="750.8" cy="1078.7" r="4.9" fill="#382567"/>
<circle cx="844.8" cy="1078.1" r="5.0" fill="#36a8f9"/>
<circle cx="943.6" cy="1079.2" r="5.1" fill="#1ee7b1"/>
<circle cx="782.4" cy="1080.8" r="4.9" fill="#4561d5"/>
<circle cx="813.5" cy="1079.8" r="5.0" fill="#4584f8"/>
<circle cx="884.3" cy="1079.2" r="5.0" fill="#29bbec"/>
<circle cx="848.6" cy="1078.2" r="5.0" fill="#2db5f0"/>
<circle cx="877.2" cy="1080.9" r="5.0" fill="#23c3e3"/>
<circle cx="1007.4" cy="1077.9" r="5.1" fill="#56fa76"/>
<circle cx="909.8" cy="1078.8" r="5.1" fill="#1bd3cf"/>
<circle cx="786.0" cy="1078.1" r="4.9" fill="#4454c4"/>
<circle cx="650.2" cy="1073.5" r="5.0" fill="#fdac34"/>
<circle cx="1040.4" cy="1078.5" r="5.2" fill="#6cfd63"/>
<circle cx="914.5" cy="1079.5" r="5.1" fill="#19d7ca"/>
<circle cx="1102.9" cy="1078.9" r="5.2" fill="#9afd42"/>
<circle cx="975.5" cy="1079.3" r="5.1" fill="#29eea2"/>
<circle cx="1071.7" cy="1080.5" r="5.2" fill="#99fd43"/>
<circle cx="697.5" cy="1079.0" r="4.9" fill="#e2dc37"/>
<circle cx="615.9" cy="1063.7" r="5.3" fill="#fa7c20"/>
<circle cx="551.1" cy="1065.7" r="5.3" fill="#fb8122"/>
<circle cx="680.1" cy="1078.3" r="4.9" fill="#eecf3a"/>
<circle cx="978.3" cy="1081.3" r="5.1" fill="#31f199"/>
<circle cx="749.1" cy="1082.1" r="4.9" fill="#3a2d7a"/>
<circle cx="815.2" cy="1080.2" r="5.0" fill="#467ff6"/>
<circle cx="517.2" cy="1058.3" r="5.5" fill="#f66b19"/>
<circle cx="574.0" cy="681.0" r="11.2" fill="#a31301"/>
<circle cx="712.8" cy="1080.7" r="5.3" fill="#d7e536"/>
<circle cx="744.0" cy="1080.1" r="4.9" fill="#372467"/>
<circle cx="839.6" cy="1080.8" r="5.0" fill="#35aaf8"/>
<circle cx="937.5" cy="1082.7" r="5.1" fill="#1bd3d0"/>
<circle cx="774.0" cy="1082.8" r="4.9" fill="#455ccf"/>
<circle cx="806.6" cy="1082.6" r="5.0" fill="#4588fa"/>
<circle cx="876.6" cy="1080.6" r="5.0" fill="#28bceb"/>
<circle cx="628.2" cy="1074.1" r="5.1" fill="#fe9c2e"/>
<circle cx="563.2" cy="1055.1" r="5.6" fill="#f46516"/>
<circle cx="845.0" cy="1081.7" r="5.0" fill="#3ba1fc"/>
<circle cx="872.5" cy="1081.9" r="5.0" fill="#27bee9"/>
<circle cx="904.7" cy="1082.6" r="5.0" fill="#1cced7"/>
<circle cx="779.9" cy="1081.6" r="4.9" fill="#424cb5"/>
<circle cx="643.2" cy="1076.8" r="5.0" fill="#fbb336"/>
<circle cx="1034.4" cy="1083.4" r="5.1" fill="#46f785"/>
<circle cx="906.5" cy="1083.3" r="5.0" fill="#1cced7"/>
<circle cx="967.4" cy="1081.7" r="5.1" fill="#25eca8"/>
<circle cx="1036.2" cy="1082.6" r="5.2" fill="#82fe52"/>
<circle cx="1063.5" cy="1082.9" r="5.2" fill="#76fe5c"/>
<circle cx="692.0" cy="1080.9" r="4.8" fill="#dbe136"/>
<circle cx="609.8" cy="1070.4" r="5.2" fill="#fd8b26"/>
<circle cx="1127.8" cy="1081.3" r="5.2" fill="#b7f735"/>
<circle cx="578.1" cy="1061.7" r="5.4" fill="#f7711b"/>
<circle cx="545.4" cy="1036.7" r="6.0" fill="#e94e0d"/>
<circle cx="674.2" cy="1080.0" r="4.9" fill="#efcd3a"/>
<circle cx="971.3" cy="1083.9" r="5.1" fill="#2cef9f"/>
<circle cx="745.1" cy="1082.1" r="4.9" fill="#33194a"/>
<circle cx="594.0" cy="1065.9" r="5.4" fill="#fa791f"/>
<circle cx="807.0" cy="1084.7" r="5.0" fill="#4681f7"/>
<circle cx="656.1" cy="1081.4" r="4.9" fill="#f1cb3a"/>
<circle cx="935.7" cy="1083.3" r="5.1" fill="#1ce3b8"/>
<circle cx="999.9" cy="1082.7" r="5.1" fill="#38f392"/>
<circle cx="833.6" cy="1083.9" r="5.0" fill="#4292fe"/>
<circle cx="931.8" cy="1083.5" r="5.1" fill="#18dec1"/>
<circle cx="768.1" cy="1083.1" r="4.9" fill="#3c3387"/>
<circle cx="800.0" cy="1083.1" r="4.9" fill="#466de5"/>
<circle cx="872.4" cy="1083.6" r="5.0" fill="#35aaf8"/>
<circle cx="556.9" cy="1071.6" r="5.2" fill="#fc8725"/>
<circle cx="838.3" cy="1085.6" r="5.0" fill="#3ba0fc"/>
<circle cx="865.0" cy="1082.9" r="5.0" fill="#32aef6"/>
<circle cx="996.7" cy="1084.1" r="5.1" fill="#3bf48f"/>
<circle cx="898.4" cy="1085.5" r="5.0" fill="#22c6e0"/>
<circle cx="774.3" cy="1085.0" r="4.9" fill="#392a73"/>
<circle cx="638.4" cy="1080.9" r="4.9" fill="#f7c13a"/>
<circle cx="1027.6" cy="1085.1" r="5.1" fill="#58fb74"/>
<circle cx="901.5" cy="1083.6" r="5.0" fill="#31b0f4"/>
<circle cx="962.4" cy="1083.2" r="5.1" fill="#24eba9"/>
<circle cx="571.3" cy="1067.6" r="5.4" fill="#fa791f"/>
<circle cx="538.6" cy="1059.8" r="5.5" fill="#f56918"/>
<circle cx="669.4" cy="1083.7" r="5.3" fill="#d6e536"/>
<circle cx="587.3" cy="1079.5" r="5.0" fill="#fda832"/>
<circle cx="1250.7" cy="1083.9" r="5.3" fill="#dae236"/>
<circle cx="521.4" cy="1053.4" r="5.7" fill="#f15e13"/>
<circle cx="803.9" cy="1083.8" r="4.9" fill="#4664d9"/>
<circle cx="651.0" cy="1084.1" r="4.9" fill="#ead439"/>
<circle cx="698.8" cy="1083.8" r="5.2" fill="#bff334"/>
<circle cx="931.4" cy="1084.1" r="5.1" fill="#1cd0d4"/>
<circle cx="996.9" cy="1084.8" r="5.1" fill="#2df09e"/>
<circle cx="826.7" cy="1086.5" r="5.0" fill="#4294ff"/>
<circle cx="926.8" cy="1086.8" r="5.0" fill="#1fcadb"/>
<circle cx="762.6" cy="1086.0" r="4.9" fill="#321645"/>
<circle cx="794.0" cy="1084.8" r="4.9" fill="#4558ca"/>
<circle cx="866.0" cy="1084.3" r="5.0" fill="#37a6fa"/>
<circle cx="616.3" cy="1083.2" r="4.9" fill="#f4c53a"/>
<circle cx="551.9" cy="1076.6" r="5.2" fill="#fe942a"/>
<circle cx="831.7" cy="1085.0" r="5.0" fill="#4586f9"/>
<circle cx="859.4" cy="1086.1" r="5.0" fill="#39a3fb"/>
<circle cx="990.4" cy="1086.7" r="5.1" fill="#23ebaa"/>
<circle cx="890.2" cy="1085.9" r="5.0" fill="#27bee8"/>
<circle cx="768.2" cy="1087.9" r="4.9" fill="#392971"/>
<circle cx="631.2" cy="1084.6" r="4.9" fill="#f2c93a"/>
<circle cx="1020.2" cy="1087.7" r="5.1" fill="#43f687"/>
<circle cx="895.4" cy="1085.2" r="5.0" fill="#2db5f0"/>
<circle cx="1085.8" cy="1087.0" r="5.2" fill="#92fe47"/>
<circle cx="956.2" cy="1086.5" r="5.1" fill="#1ae1bb"/>
<circle cx="1023.9" cy="1088.2" r="5.1" fill="#3ff58b"/>
<circle cx="1051.9" cy="1086.5" r="5.2" fill="#69fd66"/>
<circle cx="680.0" cy="1084.7" r="4.9" fill="#f4c63a"/>
<circle cx="597.8" cy="1084.1" r="4.9" fill="#f7c039"/>
<circle cx="533.0" cy="1064.0" r="5.5" fill="#f66d19"/>
<circle cx="661.5" cy="1086.6" r="5.3" fill="#dee037"/>
<circle cx="581.0" cy="1081.8" r="5.0" fill="#fdad34"/>
<circle cx="794.7" cy="1088.4" r="4.9" fill="#3f3f9e"/>
<circle cx="498.7" cy="1063.6" r="5.5" fill="#f56918"/>
<circle cx="644.6" cy="1084.5" r="5.0" fill="#f9ba38"/>
<circle cx="924.3" cy="1088.9" r="5.1" fill="#1ccfd6"/>
<circle cx="823.4" cy="1089.7" r="5.0" fill="#4677ee"/>
<circle cx="917.9" cy="1089.0" r="5.1" fill="#18dbc5"/>
<circle cx="758.7" cy="1088.1" r="4.9" fill="#341b51"/>
<circle cx="790.3" cy="1088.9" r="4.9" fill="#3f3c98"/>
<circle cx="859.5" cy="1087.6" r="5.0" fill="#35aaf9"/>
<circle cx="610.0" cy="1081.0" r="5.1" fill="#fda431"/>
<circle cx="546.1" cy="1052.8" r="5.8" fill="#ee5711"/>
<circle cx="824.9" cy="1088.3" r="5.0" fill="#467af0"/>
<circle cx="852.6" cy="1088.0" r="5.0" fill="#3c9efc"/>
<circle cx="984.6" cy="1088.1" r="5.1" fill="#21eaac"/>
<circle cx="884.4" cy="1089.5" r="5.0" fill="#2fb2f3"/>
<circle cx="761.5" cy="1088.6" r="4.9" fill="#36205c"/>
<circle cx="625.4" cy="1084.1" r="5.0" fill="#fab637"/>
<circle cx="1015.1" cy="1088.5" r="5.1" fill="#24eba9"/>
<circle cx="889.1" cy="1088.9" r="5.0" fill="#23c4e2"/>
<circle cx="948.4" cy="1089.1" r="5.1" fill="#19d8c9"/>
<circle cx="674.3" cy="1087.3" r="4.8" fill="#dee037"/>
<circle cx="560.0" cy="1065.7" r="5.5" fill="#f66b19"/>
<circle cx="1176.6" cy="1087.8" r="5.2" fill="#c1f234"/>
<circle cx="656.8" cy="1087.5" r="4.9" fill="#eecf3a"/>
<circle cx="954.6" cy="1089.8" r="5.1" fill="#19d8c9"/>
<circle cx="1141.6" cy="1090.6" r="5.2" fill="#95fe46"/>
<circle cx="791.0" cy="1091.2" r="4.9" fill="#3d358b"/>
<circle cx="595.0" cy="690.0" r="11.0" fill="#a51301"/>
<circle cx="688.3" cy="1088.9" r="5.3" fill="#d8e436"/>
<circle cx="918.8" cy="1090.2" r="5.0" fill="#26bfe7"/>
<circle cx="816.0" cy="1092.0" r="4.9" fill="#455fd3"/>
<circle cx="912.9" cy="1091.0" r="5.0" fill="#20c8de"/>
<circle cx="782.9" cy="1090.9" r="4.9" fill="#3b3181"/>
<circle cx="852.9" cy="1090.7" r="5.0" fill="#438ffd"/>
<circle cx="604.6" cy="1083.9" r="5.0" fill="#fdaa33"/>
<circle cx="818.6" cy="1090.7" r="4.9" fill="#4457c7"/>
<circle cx="847.4" cy="1090.3" r="5.0" fill="#4488fa"/>
<circle cx="977.6" cy="1089.3" r="5.1" fill="#23ebaa"/>
<circle cx="881.1" cy="1089.3" r="5.0" fill="#38a5fb"/>
<circle cx="619.9" cy="1088.3" r="4.9" fill="#f7c03a"/>
<circle cx="1007.3" cy="1090.8" r="5.1" fill="#29eea2"/>
<circle cx="884.3" cy="1090.6" r="5.0" fill="#2fb3f2"/>
<circle cx="942.6" cy="1092.2" r="5.1" fill="#1cd0d5"/>
<circle cx="1039.9" cy="1092.6" r="5.1" fill="#3ff58b"/>
<circle cx="668.0" cy="1090.3" r="4.8" fill="#d2e835"/>
<circle cx="586.7" cy="1083.1" r="5.1" fill="#fe9a2d"/>
<circle cx="521.4" cy="1067.2" r="5.5" fill="#f56918"/>
<circle cx="1235.6" cy="1091.4" r="5.2" fill="#bff334"/>
<circle cx="783.7" cy="1093.0" r="4.9" fill="#3e3a94"/>
<circle cx="487.1" cy="1044.5" r="6.1" fill="#e84d0d"/>
<circle cx="632.2" cy="1090.1" r="4.9" fill="#f1cb3a"/>
<circle cx="680.0" cy="1090.7" r="5.3" fill="#c3f134"/>
<circle cx="913.0" cy="1091.8" r="5.0" fill="#27bee9"/>
<circle cx="810.3" cy="1092.1" r="4.9" fill="#3d368c"/>
<circle cx="907.5" cy="1094.1" r="5.0" fill="#26bfe8"/>
<circle cx="778.0" cy="1091.9" r="4.9" fill="#331a4d"/>
<circle cx="847.3" cy="1093.9" r="5.0" fill="#438efc"/>
<circle cx="598.1" cy="1088.9" r="5.0" fill="#fab938"/>
<circle cx="813.4" cy="1091.4" r="4.9" fill="#4144a8"/>
<circle cx="841.1" cy="1091.5" r="4.9" fill="#4669e0"/>
<circle cx="971.5" cy="1094.2" r="5.1" fill="#18dcc4"/>
<circle cx="874.7" cy="1094.9" r="5.0" fill="#33adf6"/>
<circle cx="614.2" cy="1090.9" r="4.9" fill="#f0cc3a"/>
<circle cx="1004.1" cy="1092.1" r="5.1" fill="#1ce4b6"/>
<circle cx="877.7" cy="1092.6" r="5.0" fill="#4195fe"/>
<circle cx="1068.6" cy="1092.7" r="5.2" fill="#64fc6a"/>
<circle cx="937.5" cy="1092.6" r="5.0" fill="#20c8de"/>
<circle cx="661.0" cy="1093.4" r="4.8" fill="#cfea34"/>
<circle cx="580.5" cy="1089.7" r="4.9" fill="#f8bf39"/>
<circle cx="1098.0" cy="1094.5" r="5.2" fill="#85fe51"/>
<circle cx="546.6" cy="1083.2" r="5.2" fill="#fd8e28"/>
<circle cx="643.2" cy="1094.0" r="5.3" fill="#e1dd37"/>
<circle cx="941.6" cy="1092.5" r="5.0" fill="#22c6e0"/>
<circle cx="563.4" cy="1087.6" r="5.0" fill="#fda832"/>
<circle cx="777.4" cy="1092.6" r="4.9" fill="#36205b"/>
<circle cx="480.7" cy="1062.5" r="5.7" fill="#f05d13"/>
<circle cx="676.5" cy="1093.1" r="5.3" fill="#c9ee34"/>
<circle cx="907.0" cy="1093.9" r="5.0" fill="#2db6f0"/>
<circle cx="802.8" cy="1094.2" r="4.9" fill="#372362"/>
<circle cx="902.3" cy="1094.4" r="5.0" fill="#35aaf8"/>
<circle cx="841.2" cy="1094.5" r="5.0" fill="#467bf2"/>
<circle cx="527.4" cy="1089.6" r="5.1" fill="#fda732"/>
<circle cx="807.8" cy="1096.7" r="4.9" fill="#3d3489"/>
<circle cx="835.8" cy="1094.8" r="4.9" fill="#4665da"/>
<circle cx="964.2" cy="1094.0" r="5.1" fill="#19d8ca"/>
<circle cx="868.3" cy="1096.7" r="5.0" fill="#4195fe"/>
<circle cx="606.6" cy="1095.8" r="5.3" fill="#dde037"/>
<circle cx="995.6" cy="1096.9" r="5.1" fill="#1be2ba"/>
<circle cx="872.9" cy="1094.2" r="5.0" fill="#4196fe"/>
<circle cx="931.1" cy="1097.2" r="5.0" fill="#28bceb"/>
<circle cx="999.9" cy="1096.7" r="5.1" fill="#1ce4b6"/>
<circle cx="1028.1" cy="1096.2" r="5.1" fill="#26eca6"/>
<circle cx="573.8" cy="1093.9" r="4.9" fill="#f2c83a"/>
<circle cx="541.0" cy="1090.3" r="5.0" fill="#fdad34"/>
<circle cx="508.6" cy="1084.0" r="5.2" fill="#fd8c27"/>
<circle cx="637.9" cy="1093.3" r="4.9" fill="#f7c039"/>
<circle cx="935.4" cy="1094.9" r="5.0" fill="#1fc9dc"/>
<circle cx="557.3" cy="1084.6" r="5.2" fill="#fc8a26"/>
<circle cx="1190.1" cy="1096.3" r="5.2" fill="#bff334"/>
<circle cx="474.3" cy="1077.9" r="5.4" fill="#f8751d"/>
<circle cx="669.8" cy="1095.1" r="5.3" fill="#e5d938"/>
<circle cx="901.0" cy="1098.2" r="5.0" fill="#37a6fa"/>
<circle cx="797.4" cy="1096.9" r="4.9" fill="#331a4d"/>
<circle cx="894.7" cy="1097.9" r="5.0" fill="#35aaf9"/>
<circle cx="833.6" cy="1096.4" r="4.9" fill="#455bcd"/>
<circle cx="586.2" cy="1091.8" r="5.0" fill="#fcb035"/>
<circle cx="803.4" cy="1099.2" r="4.9" fill="#3d368d"/>
<circle cx="829.9" cy="1096.9" r="4.9" fill="#4146ab"/>
<circle cx="958.3" cy="1098.8" r="5.0" fill="#20c8de"/>
<circle cx="861.6" cy="1099.0" r="5.0" fill="#4681f7"/>
<circle cx="601.2" cy="1092.8" r="5.0" fill="#fdad34"/>
<circle cx="990.3" cy="1098.9" r="5.1" fill="#1ee8b1"/>
<circle cx="866.2" cy="1097.9" r="5.0" fill="#4682f7"/>
<circle cx="924.0" cy="1098.3" r="5.0" fill="#29bbec"/>
<circle cx="994.6" cy="1096.6" r="5.1" fill="#19e0bd"/>
<circle cx="1023.9" cy="1098.1" r="5.1" fill="#28eda3"/>
<circle cx="649.5" cy="1096.5" r="4.9" fill="#e3da38"/>
<circle cx="567.4" cy="1090.8" r="5.1" fill="#fe9d2e"/>
<circle cx="1085.3" cy="1097.7" r="5.2" fill="#6dfd63"/>
<circle cx="534.5" cy="1085.2" r="5.2" fill="#fc8624"/>
<circle cx="502.3" cy="1071.8" r="5.6" fill="#f46516"/>
<circle cx="1150.6" cy="1098.3" r="5.2" fill="#a9fb3a"/>
<circle cx="633.8" cy="1096.9" r="5.3" fill="#edd03a"/>
<circle cx="927.9" cy="1097.8" r="5.0" fill="#21c6df"/>
<circle cx="550.9" cy="1091.2" r="5.1" fill="#fe9e2e"/>
<circle cx="1182.8" cy="1099.3" r="5.2" fill="#bef335"/>
<circle cx="468.4" cy="1064.4" r="5.8" fill="#ef5a12"/>
<circle cx="614.6" cy="1096.5" r="4.9" fill="#f5c33a"/>
<circle cx="662.8" cy="1097.5" r="5.3" fill="#ead339"/>
<circle cx="893.4" cy="1099.3" r="5.0" fill="#3f9afd"/>
<circle cx="792.4" cy="1099.4" r="4.9" fill="#36205b"/>
<circle cx="888.6" cy="1097.9" r="5.0" fill="#4489fa"/>
<circle cx="829.0" cy="1098.2" r="4.9" fill="#3f3b98"/>
<circle cx="580.8" cy="1095.2" r="5.0" fill="#fcb236"/>
<circle cx="515.5" cy="1082.2" r="5.4" fill="#f9791f"/>
<circle cx="795.5" cy="1100.4" r="4.9" fill="#362260"/>
<circle cx="824.2" cy="1101.0" r="4.9" fill="#3b2e7b"/>
<circle cx="952.5" cy="1100.2" r="5.0" fill="#22c5e1"/>
<circle cx="855.9" cy="1100.3" r="4.9" fill="#4457c8"/>
<circle cx="595.1" cy="1096.0" r="5.0" fill="#f9bc39"/>
<circle cx="985.5" cy="1099.7" r="5.1" fill="#18ddc3"/>
<circle cx="858.7" cy="1099.8" r="4.9" fill="#4669e1"/>
<circle cx="1050.7" cy="1101.6" r="5.1" fill="#2ef09d"/>
<circle cx="918.7" cy="1101.5" r="5.0" fill="#31aff4"/>
<circle cx="988.3" cy="1100.1" r="5.1" fill="#18ddc2"/>
<circle cx="1014.9" cy="1101.4" r="5.1" fill="#1de5b5"/>
<circle cx="644.0" cy="1098.8" r="4.8" fill="#d2e935"/>
<circle cx="561.6" cy="1093.5" r="5.1" fill="#fe9f2f"/>
<circle cx="1241.7" cy="1101.3" r="5.2" fill="#c0f334"/>
<circle cx="529.7" cy="1086.8" r="5.3" fill="#fc8423"/>
<circle cx="497.1" cy="1090.3" r="5.2" fill="#fd9028"/>
<circle cx="626.6" cy="1097.4" r="5.3" fill="#e7d638"/>
<circle cx="921.4" cy="1099.9" r="5.0" fill="#2ab9ed"/>
<circle cx="545.3" cy="1095.6" r="5.0" fill="#fdad34"/>
<circle cx="479.3" cy="1085.7" r="5.3" fill="#fb7e21"/>
<circle cx="463.3" cy="1071.7" r="5.6" fill="#f26115"/>
<circle cx="608.3" cy="1099.6" r="4.9" fill="#ead339"/>
<circle cx="656.8" cy="1098.9" r="5.3" fill="#ceeb34"/>
<circle cx="889.0" cy="1101.2" r="5.0" fill="#39a4fb"/>
<circle cx="884.2" cy="1100.7" r="5.0" fill="#4195fe"/>
<circle cx="823.2" cy="1102.1" r="4.9" fill="#351d55"/>
<circle cx="509.4" cy="1095.8" r="5.1" fill="#fea431"/>
<circle cx="818.1" cy="1102.5" r="4.9" fill="#351e57"/>
<circle cx="945.0" cy="1100.8" r="5.0" fill="#27bee9"/>
<circle cx="848.5" cy="1101.6" r="4.9" fill="#4666dd"/>
<circle cx="980.1" cy="1102.8" r="5.1" fill="#1ad6cc"/>
<circle cx="853.6" cy="1103.3" r="4.9" fill="#455cce"/>
<circle cx="1043.0" cy="1100.8" r="5.1" fill="#2cefa0"/>
<circle cx="913.6" cy="1101.0" r="5.0" fill="#4391fe"/>
<circle cx="1009.5" cy="1102.8" r="5.1" fill="#1ce3b8"/>
<circle cx="555.3" cy="1097.1" r="5.0" fill="#fcaf35"/>
<circle cx="1073.4" cy="1102.7" r="5.1" fill="#4af880"/>
<circle cx="523.5" cy="1093.9" r="5.1" fill="#fe982c"/>
<circle cx="491.2" cy="1092.9" r="5.2" fill="#fe922a"/>
<circle cx="915.4" cy="1101.9" r="5.0" fill="#37a7fa"/>
<circle cx="1203.2" cy="1101.9" r="5.2" fill="#bef335"/>
<circle cx="473.0" cy="1089.7" r="5.3" fill="#fc8524"/>
<circle cx="456.2" cy="1090.6" r="5.2" fill="#fc8725"/>
<circle cx="649.5" cy="1103.4" r="5.2" fill="#c2f134"/>
<circle cx="880.9" cy="1102.4" r="5.0" fill="#467ff5"/>
<circle cx="878.1" cy="1102.5" r="5.0" fill="#4678ef"/>
<circle cx="817.8" cy="1105.3" r="4.9" fill="#382568"/>
<circle cx="503.5" cy="1100.0" r="5.0" fill="#fab637"/>
<circle cx="811.3" cy="1105.2" r="4.9" fill="#403f9f"/>
<circle cx="941.0" cy="1105.5" r="5.0" fill="#34acf7"/>
<circle cx="842.3" cy="1105.3" r="4.9" fill="#424ab1"/>
<circle cx="583.0" cy="1099.6" r="5.0" fill="#fcb035"/>
<circle cx="972.2" cy="1105.7" r="5.1" fill="#1ccfd5"/>
<circle cx="847.9" cy="1105.0" r="4.9" fill="#3f3d9b"/>
<circle cx="908.8" cy="1103.3" r="5.0" fill="#4195fe"/>
<circle cx="630.8" cy="1102.5" r="4.9" fill="#eece3a"/>
<circle cx="550.0" cy="1095.5" r="5.1" fill="#fe982c"/>
<circle cx="1068.5" cy="1105.7" r="5.1" fill="#48f883"/>
<circle cx="517.0" cy="1101.1" r="5.0" fill="#fbb436"/>
<circle cx="484.5" cy="1096.1" r="5.1" fill="#fe9a2d"/>
<circle cx="613.4" cy="1103.4" r="4.9" fill="#efcd3a"/>
<circle cx="911.0" cy="1106.8" r="5.0" fill="#30b2f3"/>
<circle cx="532.4" cy="1097.4" r="5.1" fill="#fe9b2d"/>
<circle cx="467.4" cy="1087.4" r="5.4" fill="#f9771e"/>
<circle cx="450.4" cy="1099.4" r="5.1" fill="#fda531"/>
<circle cx="646.3" cy="1103.9" r="5.3" fill="#e5d838"/>
<circle cx="942.2" cy="1107.1" r="5.0" fill="#2cb7ef"/>
<circle cx="869.8" cy="1106.9" r="4.9" fill="#466de5"/>
<circle cx="809.9" cy="1107.5" r="4.9" fill="#3e3891"/>
<circle cx="562.4" cy="1100.9" r="5.0" fill="#fbb336"/>
<circle cx="496.6" cy="1092.4" r="5.3" fill="#fc8424"/>
<circle cx="935.1" cy="1107.8" r="5.0" fill="#32aef5"/>
<circle cx="836.1" cy="1106.9" r="4.9" fill="#3b3182"/>
<circle cx="577.1" cy="1103.5" r="5.0" fill="#f9bb39"/>
<circle cx="966.6" cy="1107.7" r="5.0" fill="#25c0e6"/>
<circle cx="842.6" cy="1106.2" r="4.9" fill="#3e3993"/>
<circle cx="900.8" cy="1107.8" r="5.0" fill="#3f99fd"/>
<circle cx="999.2" cy="1106.6" r="5.1" fill="#1ce5b6"/>
<circle cx="624.5" cy="1105.9" r="4.8" fill="#d3e835"/>
<circle cx="543.1" cy="1100.4" r="5.1" fill="#fea130"/>
<circle cx="510.5" cy="1097.2" r="5.2" fill="#fd9028"/>
<circle cx="477.9" cy="1095.6" r="5.2" fill="#fc8926"/>
<circle cx="1127.7" cy="1106.2" r="5.2" fill="#80fe54"/>
<circle cx="608.5" cy="1106.3" r="5.3" fill="#e7d638"/>
<circle cx="905.3" cy="1107.4" r="5.0" fill="#4196fe"/>
<circle cx="1093.9" cy="1106.7" r="5.1" fill="#49f882"/>
<circle cx="525.8" cy="1102.4" r="5.0" fill="#fdaa33"/>
<circle cx="444.5" cy="1085.5" r="5.5" fill="#f76e1a"/>
<circle cx="590.3" cy="1105.7" r="4.9" fill="#e9d439"/>
<circle cx="638.7" cy="1106.2" r="5.3" fill="#cbed34"/>
<circle cx="935.8" cy="1109.0" r="5.0" fill="#2db5f0"/>
<circle cx="863.8" cy="1108.7" r="4.9" fill="#424bb3"/>
<circle cx="999.9" cy="1109.6" r="5.1" fill="#18dcc3"/>
<circle cx="929.1" cy="1110.4" r="5.0" fill="#4098fe"/>
<circle cx="831.5" cy="1108.3" r="4.9" fill="#372465"/>
<circle cx="571.4" cy="1106.8" r="4.9" fill="#f4c63a"/>
<circle cx="959.9" cy="1110.6" r="5.0" fill="#2fb3f2"/>
<circle cx="833.7" cy="1110.8" r="4.9" fill="#33194b"/>
<circle cx="1026.8" cy="1109.7" r="5.1" fill="#1ce4b7"/>
<circle cx="896.7" cy="1110.9" r="4.9" fill="#4673ea"/>
<circle cx="619.1" cy="1107.8" r="4.8" fill="#d9e336"/>
<circle cx="537.9" cy="1107.0" r="4.9" fill="#f5c33a"/>
<circle cx="1218.4" cy="1110.4" r="5.2" fill="#b0f938"/>
<circle cx="505.5" cy="1101.8" r="5.1" fill="#fe9e2f"/>
<circle cx="471.9" cy="1102.3" r="5.1" fill="#fe9d2e"/>
<circle cx="1122.3" cy="1110.6" r="5.1" fill="#53fa79"/>
<circle cx="601.3" cy="1108.4" r="5.3" fill="#dedf37"/>
<circle cx="898.7" cy="1110.4" r="5.0" fill="#4678ef"/>
<circle cx="1090.0" cy="1108.3" r="5.1" fill="#4cf97e"/>
<circle cx="519.8" cy="1104.5" r="5.0" fill="#fdaf35"/>
<circle cx="454.7" cy="1101.9" r="5.1" fill="#fea12f"/>
<circle cx="438.5" cy="1100.4" r="5.1" fill="#fe952b"/>
<circle cx="584.5" cy="1109.6" r="4.9" fill="#e5d838"/>
<circle cx="631.5" cy="1110.5" r="5.2" fill="#bdf435"/>
<circle cx="865.0" cy="1110.4" r="4.9" fill="#4144a7"/>
<circle cx="857.9" cy="1110.2" r="4.9" fill="#38276d"/>
<circle cx="922.1" cy="1112.1" r="5.0" fill="#3ba1fc"/>
<circle cx="563.5" cy="1109.1" r="5.3" fill="#e6d738"/>
<circle cx="1279.5" cy="1110.4" r="5.3" fill="#dce136"/>
<circle cx="952.7" cy="1112.5" r="5.0" fill="#36a9f9"/>
<circle cx="829.4" cy="1109.8" r="4.9" fill="#341b4f"/>
<circle cx="1018.5" cy="1110.0" r="5.1" fill="#19d9c8"/>
<circle cx="887.9" cy="1112.6" r="4.9" fill="#4667dd"/>
<circle cx="984.6" cy="1112.9" r="5.0" fill="#26bfe8"/>
<circle cx="613.4" cy="1109.1" r="4.9" fill="#eecf3a"/>
<circle cx="531.4" cy="1108.9" r="4.9" fill="#f1c93a"/>
<circle cx="499.5" cy="1108.9" r="5.0" fill="#f9bd39"/>
<circle cx="466.2" cy="1105.8" r="5.1" fill="#fda531"/>
<circle cx="1114.1" cy="1112.4" r="5.2" fill="#64fc6a"/>
<circle cx="594.8" cy="1109.1" r="5.3" fill="#dce136"/>
<circle cx="626.8" cy="1109.6" r="5.3" fill="#ecd139"/>
<circle cx="857.9" cy="1112.7" r="4.9" fill="#3d368d"/>
<circle cx="853.4" cy="1112.5" r="4.9" fill="#3a2d7b"/>
<circle cx="544.2" cy="1108.1" r="5.0" fill="#fcb035"/>
<circle cx="478.1" cy="1105.5" r="5.1" fill="#fe9b2d"/>
<circle cx="915.5" cy="1113.4" r="5.0" fill="#4682f7"/>
<circle cx="559.4" cy="1110.7" r="4.9" fill="#f4c63a"/>
<circle cx="948.3" cy="1112.9" r="5.0" fill="#3c9ffc"/>
<circle cx="881.8" cy="1113.6" r="4.9" fill="#4455c6"/>
<circle cx="978.9" cy="1114.0" r="5.0" fill="#29bbec"/>
<circle cx="524.9" cy="1106.8" r="5.1" fill="#fea230"/>
<circle cx="1110.7" cy="1114.3" r="5.1" fill="#40f68a"/>
<circle cx="589.4" cy="1111.8" r="5.3" fill="#e5d938"/>
<circle cx="886.4" cy="1113.5" r="4.9" fill="#4351be"/>
<circle cx="1142.3" cy="1113.0" r="5.2" fill="#68fd67"/>
<circle cx="571.6" cy="1111.8" r="4.9" fill="#f1cb3a"/>
<circle cx="853.2" cy="1116.2" r="4.9" fill="#331a4d"/>
<circle cx="846.5" cy="1115.1" r="4.9" fill="#321645"/>
<circle cx="538.8" cy="1113.9" r="4.9" fill="#edd03a"/>
<circle cx="909.4" cy="1114.6" r="5.0" fill="#4677ee"/>
<circle cx="553.5" cy="1113.4" r="4.9" fill="#f3c63a"/>
<circle cx="941.4" cy="1115.4" r="5.0" fill="#448cfc"/>
<circle cx="1008.5" cy="1115.7" r="5.0" fill="#29baec"/>
<circle cx="877.6" cy="1115.0" r="4.9" fill="#3e3a94"/>
<circle cx="945.7" cy="1114.7" r="5.0" fill="#3aa2fb"/>
<circle cx="974.1" cy="1117.1" r="5.0" fill="#22c5e1"/>
<circle cx="486.7" cy="1111.3" r="5.0" fill="#fcb135"/>
<circle cx="1104.1" cy="1117.1" r="5.1" fill="#44f786"/>
<circle cx="582.5" cy="1116.6" r="5.3" fill="#d4e735"/>
<circle cx="881.8" cy="1115.4" r="4.9" fill="#434fba"/>
<circle cx="502.9" cy="1115.7" r="4.9" fill="#e7d738"/>
<circle cx="613.5" cy="1116.5" r="5.3" fill="#d4e735"/>
<circle cx="845.7" cy="1118.7" r="4.8" fill="#321645"/>
<circle cx="840.4" cy="717.5" r="9.4" fill="#b61d02"/>
<circle cx="531.4" cy="1116.1" r="4.9" fill="#ead439"/>
<circle cx="466.1" cy="1113.5" r="5.0" fill="#f9bb38"/>
<circle cx="903.0" cy="1119.5" r="4.9" fill="#434eb8"/>
<circle cx="545.4" cy="1117.8" r="5.3" fill="#e6d838"/>
<circle cx="937.0" cy="1118.0" r="5.0" fill="#4294ff"/>
<circle cx="1001.5" cy="1119.4" r="5.0" fill="#30b1f3"/>
<circle cx="872.0" cy="1119.8" r="4.9" fill="#38276d"/>
<circle cx="969.0" cy="1118.2" r="5.0" fill="#3c9efc"/>
<circle cx="595.1" cy="1116.8" r="4.8" fill="#cfea35"/>
<circle cx="513.1" cy="1117.1" r="4.9" fill="#eecf3a"/>
<circle cx="480.9" cy="1115.7" r="4.9" fill="#f6c13a"/>
<circle cx="577.6" cy="1117.4" r="5.3" fill="#c5f034"/>
<circle cx="496.9" cy="1117.0" r="4.9" fill="#e7d738"/>
<circle cx="559.7" cy="1117.8" r="4.8" fill="#ceeb34"/>
<circle cx="609.3" cy="1118.9" r="5.2" fill="#abfa39"/>
<circle cx="526.0" cy="1119.4" r="4.8" fill="#d0ea35"/>
<circle cx="899.8" cy="1120.3" r="4.9" fill="#4350bc"/>
<circle cx="539.8" cy="1119.0" r="5.3" fill="#c9ee34"/>
<circle cx="931.0" cy="1119.7" r="4.9" fill="#466ce4"/>
<circle cx="996.0" cy="1121.2" r="5.0" fill="#2cb6ef"/>
<circle cx="864.4" cy="1121.6" r="4.9" fill="#341d54"/>
<circle cx="960.7" cy="1119.2" r="5.0" fill="#34abf8"/>
<circle cx="588.4" cy="1118.2" r="4.9" fill="#e6d738"/>
<circle cx="508.1" cy="1118.5" r="5.3" fill="#e2dc38"/>
<circle cx="474.8" cy="1118.0" r="5.3" fill="#dce136"/>
<circle cx="1089.6" cy="1119.7" r="5.1" fill="#2aeea1"/>
<circle cx="573.2" cy="1119.1" r="5.3" fill="#e1dc37"/>
<circle cx="1057.3" cy="1119.8" r="5.1" fill="#18ddc2"/>
<circle cx="490.2" cy="1116.1" r="5.0" fill="#fbb336"/>
<circle cx="1283.5" cy="1120.3" r="5.2" fill="#bef335"/>
<circle cx="554.2" cy="1119.6" r="4.9" fill="#ecd239"/>
<circle cx="601.3" cy="1120.0" r="5.3" fill="#ceeb34"/>
<circle cx="899.0" cy="1121.2" r="4.9" fill="#424bb4"/>
<circle cx="520.6" cy="1120.8" r="4.9" fill="#e7d738"/>
<circle cx="891.9" cy="1123.5" r="4.9" fill="#3a2b75"/>
<circle cx="534.4" cy="1120.2" r="4.9" fill="#f2c93a"/>
<circle cx="923.0" cy="1124.0" r="4.9" fill="#466ee6"/>
<circle cx="989.3" cy="1124.1" r="5.0" fill="#3aa2fb"/>
<circle cx="954.9" cy="1122.3" r="5.0" fill="#4098fe"/>
<circle cx="501.6" cy="1120.0" r="4.9" fill="#f1ca3a"/>
<circle cx="565.5" cy="1122.0" r="5.3" fill="#e2dc38"/>
<circle cx="547.6" cy="1123.0" r="4.8" fill="#d2e835"/>
<circle cx="597.7" cy="1122.3" r="5.3" fill="#caed34"/>
<circle cx="893.8" cy="1124.6" r="4.9" fill="#372363"/>
<circle cx="513.4" cy="1123.2" r="4.9" fill="#e0de37"/>
<circle cx="887.2" cy="1125.7" r="4.9" fill="#3f3c98"/>
<circle cx="528.9" cy="1124.5" r="5.3" fill="#ead339"/>
<circle cx="917.6" cy="1126.5" r="4.9" fill="#455bcd"/>
<circle cx="982.6" cy="1124.6" r="5.0" fill="#3b9ffc"/>
<circle cx="922.4" cy="1124.2" r="4.9" fill="#455ed2"/>
<circle cx="951.6" cy="1124.4" r="5.0" fill="#4682f7"/>
<circle cx="496.1" cy="1123.9" r="5.3" fill="#e8d539"/>
<circle cx="1012.8" cy="1124.5" r="5.0" fill="#2cb6ef"/>
<circle cx="558.6" cy="1123.7" r="5.2" fill="#baf635"/>
<circle cx="1144.7" cy="1123.9" r="5.1" fill="#53fa78"/>
<circle cx="1305.0" cy="1125.3" r="5.3" fill="#d3e835"/>
<circle cx="1109.6" cy="1126.5" r="5.1" fill="#2cef9f"/>
<circle cx="541.3" cy="1125.9" r="4.8" fill="#ceeb34"/>
<circle cx="591.2" cy="1124.7" r="5.2" fill="#b2f837"/>
<circle cx="878.8" cy="1128.0" r="4.9" fill="#392972"/>
<circle cx="522.4" cy="1125.5" r="5.3" fill="#c6ef34"/>
<circle cx="911.3" cy="1126.9" r="4.9" fill="#3e3891"/>
<circle cx="975.2" cy="1125.9" r="5.0" fill="#4294ff"/>
<circle cx="944.3" cy="1126.5" r="4.9" fill="#466fe7"/>
<circle cx="571.0" cy="1126.2" r="4.9" fill="#e8d539"/>
<circle cx="1007.2" cy="1127.1" r="5.0" fill="#30b1f3"/>
<circle cx="552.5" cy="1128.3" r="5.2" fill="#b8f635"/>
<circle cx="1138.8" cy="1128.4" r="5.1" fill="#3df58d"/>
<circle cx="1103.5" cy="1129.5" r="5.1" fill="#1ce5b5"/>
<circle cx="535.0" cy="1127.1" r="4.8" fill="#dde037"/>
<circle cx="517.2" cy="1126.3" r="4.9" fill="#f0cb3a"/>
<circle cx="905.2" cy="1130.9" r="4.9" fill="#4144a7"/>
<circle cx="972.2" cy="1130.3" r="5.0" fill="#438ffd"/>
<circle cx="936.1" cy="1130.8" r="4.9" fill="#455dd1"/>
<circle cx="1003.6" cy="1129.4" r="5.0" fill="#38a5fb"/>
<circle cx="1097.2" cy="1131.1" r="5.1" fill="#1ce5b5"/>
<circle cx="899.1" cy="1131.2" r="4.9" fill="#351e58"/>
<circle cx="964.1" cy="1131.0" r="5.0" fill="#4681f7"/>
<circle cx="933.2" cy="1132.6" r="4.9" fill="#4455c5"/>
<circle cx="1319.3" cy="1132.0" r="5.2" fill="#bef435"/>
<circle cx="613.4" cy="732.0" r="10.4" fill="#ab1701"/>
<circle cx="994.3" cy="1133.3" r="5.0" fill="#4097fe"/>
<circle cx="1059.4" cy="1133.6" r="5.0" fill="#21c7df"/>
<circle cx="1028.7" cy="1131.0" r="5.0" fill="#2db5f0"/>
<circle cx="1288.0" cy="1133.2" r="5.2" fill="#b1f937"/>
<circle cx="1253.6" cy="1130.9" r="5.2" fill="#a6fc3b"/>
<circle cx="1092.3" cy="1133.6" r="5.1" fill="#19dfbe"/>
<circle cx="892.6" cy="1133.2" r="4.9" fill="#36205d"/>
<circle cx="959.7" cy="1135.1" r="4.9" fill="#4667de"/>
<circle cx="927.3" cy="1134.9" r="4.9" fill="#3b2f7e"/>
<circle cx="989.5" cy="1134.8" r="5.0" fill="#448cfb"/>
<circle cx="1053.8" cy="1133.6" r="5.0" fill="#21c7df"/>
<circle cx="1020.2" cy="1134.8" r="5.0" fill="#2cb7ef"/>
<circle cx="569.6" cy="734.6" r="10.5" fill="#aa1601"/>
<circle cx="1087.1" cy="1133.5" r="5.1" fill="#18dac6"/>
<circle cx="954.1" cy="1136.3" r="4.9" fill="#4457c8"/>
<circle cx="1341.9" cy="1134.7" r="5.2" fill="#bff335"/>
<circle cx="920.3" cy="1135.3" r="4.9" fill="#3a2d79"/>
<circle cx="982.6" cy="1135.2" r="5.0" fill="#4679f0"/>
<circle cx="1047.5" cy="1137.3" r="5.0" fill="#29bbec"/>
<circle cx="1015.4" cy="1135.6" r="5.0" fill="#3e9afd"/>
<circle cx="1081.7" cy="1135.4" r="5.1" fill="#1ad5cd"/>
<circle cx="1205.0" cy="1139.7" r="5.2" fill="#67fd67"/>
<circle cx="945.4" cy="1138.2" r="4.9" fill="#3e3993"/>
<circle cx="913.6" cy="1138.4" r="4.9" fill="#351e56"/>
<circle cx="1302.4" cy="1137.8" r="5.2" fill="#b7f735"/>
<circle cx="1140.4" cy="1137.6" r="5.1" fill="#23ebaa"/>
<circle cx="976.6" cy="1139.4" r="4.9" fill="#4663d9"/>
<circle cx="1042.7" cy="1139.6" r="5.0" fill="#37a7fa"/>
<circle cx="950.0" cy="1138.7" r="4.9" fill="#4040a1"/>
<circle cx="1009.2" cy="1138.7" r="5.0" fill="#4292fe"/>
<circle cx="1201.2" cy="1139.3" r="5.1" fill="#3ef58c"/>
<circle cx="1167.7" cy="1141.2" r="5.1" fill="#38f392"/>
<circle cx="941.4" cy="1141.7" r="4.9" fill="#39286e"/>
<circle cx="1328.3" cy="1140.9" r="5.2" fill="#b0f938"/>
<circle cx="970.0" cy="1140.0" r="4.9" fill="#4561d6"/>
<circle cx="1036.8" cy="1140.1" r="5.0" fill="#3f99fd"/>
<circle cx="1003.6" cy="1140.3" r="5.0" fill="#4390fd"/>
<circle cx="1195.5" cy="1141.7" r="5.1" fill="#41f689"/>
<circle cx="1161.0" cy="1143.7" r="5.1" fill="#2aeea1"/>
<circle cx="932.6" cy="1143.8" r="4.9" fill="#341b4f"/>
<circle cx="1292.0" cy="1142.7" r="5.2" fill="#9afd42"/>
<circle cx="884.2" cy="743.2" r="8.8" fill="#be2102"/>
<circle cx="964.7" cy="1144.5" r="4.9" fill="#4454c2"/>
<circle cx="1029.6" cy="1144.5" r="5.0" fill="#4293fe"/>
<circle cx="998.1" cy="1142.5" r="5.0" fill="#4584f8"/>
<circle cx="1256.4" cy="1142.0" r="5.2" fill="#73fe5e"/>
<circle cx="1062.4" cy="1143.0" r="5.0" fill="#2bb8ee"/>
<circle cx="926.8" cy="1143.7" r="4.8" fill="#321645"/>
<circle cx="1285.5" cy="1144.7" r="5.2" fill="#a2fd3d"/>
<circle cx="960.7" cy="1144.0" r="4.9" fill="#4042a5"/>
<circle cx="1023.4" cy="1146.5" r="5.0" fill="#4489fa"/>
<circle cx="993.1" cy="1145.7" r="4.9" fill="#4667de"/>
<circle cx="1251.7" cy="1146.8" r="5.1" fill="#56fa76"/>
<circle cx="1057.3" cy="1144.7" r="5.0" fill="#34abf8"/>
<circle cx="1151.0" cy="1149.1" r="5.1" fill="#19e0be"/>
<circle cx="1115.2" cy="1147.8" r="5.0" fill="#1dcdd8"/>
<circle cx="953.4" cy="1148.6" r="4.9" fill="#351f59"/>
<circle cx="1019.5" cy="1148.3" r="5.0" fill="#4587f9"/>
<circle cx="983.9" cy="1149.5" r="4.9" fill="#4560d5"/>
<circle cx="1084.3" cy="1147.4" r="5.0" fill="#25c0e6"/>
<circle cx="1245.5" cy="1148.7" r="5.2" fill="#6cfd64"/>
<circle cx="1213.1" cy="1147.3" r="5.1" fill="#51fa7a"/>
<circle cx="1049.7" cy="1148.7" r="5.0" fill="#36a8fa"/>
<circle cx="630.9" cy="748.4" r="10.0" fill="#af1801"/>
<circle cx="1108.8" cy="1148.6" r="5.0" fill="#23c4e2"/>
<circle cx="946.8" cy="1149.8" r="4.9" fill="#351f5a"/>
<circle cx="1011.8" cy="1151.7" r="5.0" fill="#467ff6"/>
<circle cx="981.0" cy="1149.9" r="4.9" fill="#4040a0"/>
<circle cx="1076.5" cy="1150.0" r="5.0" fill="#27bee8"/>
<circle cx="1045.3" cy="1150.9" r="5.0" fill="#4390fd"/>
<circle cx="606.9" cy="750.9" r="10.1" fill="#ae1801"/>
<circle cx="1169.7" cy="1150.4" r="5.1" fill="#1de6b4"/>
<circle cx="1265.2" cy="1151.3" r="5.2" fill="#79fe59"/>
<circle cx="1005.1" cy="1152.3" r="4.9" fill="#4452c0"/>
<circle cx="973.2" cy="1151.3" r="4.9" fill="#3d378e"/>
<circle cx="1069.7" cy="1151.1" r="5.0" fill="#33adf6"/>
<circle cx="1038.4" cy="1153.6" r="5.0" fill="#438dfc"/>
<circle cx="1330.8" cy="1152.5" r="5.2" fill="#9cfd41"/>
<circle cx="1164.2" cy="1153.7" r="5.1" fill="#19e0be"/>
<circle cx="1096.7" cy="1153.4" r="5.0" fill="#31aff4"/>
<circle cx="999.7" cy="1155.3" r="4.9" fill="#3c3285"/>
<circle cx="966.0" cy="1153.8" r="4.9" fill="#372465"/>
<circle cx="1358.1" cy="1154.5" r="5.2" fill="#abfa39"/>
<circle cx="1064.0" cy="1153.2" r="5.0" fill="#3f99fd"/>
<circle cx="1195.7" cy="1154.5" r="5.1" fill="#2def9e"/>
<circle cx="1030.7" cy="1154.4" r="4.9" fill="#4672e9"/>
<circle cx="1124.1" cy="1156.8" r="5.0" fill="#23c3e3"/>
<circle cx="1092.1" cy="1158.5" r="5.0" fill="#31aff5"/>
<circle cx="993.8" cy="1155.4" r="4.9" fill="#3d378e"/>
<circle cx="1059.8" cy="1156.1" r="5.0" fill="#448afb"/>
<circle cx="1221.2" cy="1157.0" r="5.1" fill="#3df58e"/>
<circle cx="1189.6" cy="1156.3" r="5.1" fill="#1de6b3"/>
<circle cx="1024.1" cy="1156.8" r="4.9" fill="#4664d9"/>
<circle cx="1316.7" cy="1157.9" r="5.2" fill="#9dfd40"/>
<circle cx="1152.3" cy="1157.1" r="5.1" fill="#1bd3d0"/>
<circle cx="1117.5" cy="1159.4" r="5.0" fill="#2fb2f3"/>
<circle cx="618.0" cy="758.7" r="10.0" fill="#af1901"/>
<circle cx="1281.5" cy="1159.3" r="5.2" fill="#6afd65"/>
<circle cx="1086.2" cy="1157.8" r="5.0" fill="#38a6fa"/>
<circle cx="986.5" cy="1157.9" r="4.9" fill="#38276d"/>
<circle cx="1051.9" cy="1160.3" r="5.0" fill="#448cfb"/>
<circle cx="1378.3" cy="1157.7" r="5.2" fill="#a8fb3a"/>
<circle cx="1180.9" cy="1160.5" r="5.1" fill="#1ae1bb"/>
<circle cx="1019.6" cy="1160.4" r="4.9" fill="#4146ac"/>
<circle cx="834.4" cy="759.5" r="8.8" fill="#bd2102"/>
<circle cx="1312.0" cy="1160.3" r="5.2" fill="#95fe46"/>
<circle cx="1111.5" cy="1159.4" r="5.0" fill="#2db5f1"/>
<circle cx="1081.0" cy="1161.1" r="5.0" fill="#448bfb"/>
<circle cx="982.9" cy="1160.1" r="4.9" fill="#331a4e"/>
<circle cx="1046.9" cy="1160.0" r="4.9" fill="#4560d5"/>
<circle cx="1012.2" cy="1161.7" r="4.9" fill="#3d3890"/>
<circle cx="905.2" cy="863.0" r="6.9" fill="#d93807"/>
<circle cx="1105.6" cy="1164.4" r="5.0" fill="#38a6fa"/>
<circle cx="1235.3" cy="1163.3" r="5.1" fill="#30f19b"/>
<circle cx="1074.6" cy="1165.0" r="5.0" fill="#448bfb"/>
<circle cx="1041.8" cy="1164.6" r="4.9" fill="#4668de"/>
<circle cx="1202.6" cy="1165.5" r="5.1" fill="#1ae1bb"/>
<circle cx="1169.6" cy="1165.2" r="5.1" fill="#1cd0d4"/>
<circle cx="1008.7" cy="1163.8" r="4.9" fill="#372261"/>
<circle cx="1298.1" cy="1165.5" r="5.2" fill="#85ff50"/>
<circle cx="1134.7" cy="1165.0" r="5.0" fill="#26bee8"/>
<circle cx="1101.8" cy="1166.6" r="5.0" fill="#36a9f9"/>
<circle cx="1263.9" cy="1165.0" r="5.1" fill="#39f491"/>
<circle cx="1068.1" cy="1166.7" r="5.0" fill="#467cf3"/>
<circle cx="1325.8" cy="1164.6" r="5.2" fill="#7ffe55"/>
<circle cx="1033.8" cy="1167.2" r="4.9" fill="#4453c2"/>
<circle cx="1196.1" cy="1166.7" r="5.1" fill="#1be2ba"/>
<circle cx="1000.0" cy="1164.7" r="4.9" fill="#392a74"/>
<circle cx="911.1" cy="867.3" r="6.7" fill="#db3b07"/>
<circle cx="1127.2" cy="1167.9" r="5.0" fill="#35aaf9"/>
<circle cx="1096.3" cy="1166.3" r="5.0" fill="#39a4fb"/>
<circle cx="1255.4" cy="1168.3" r="5.1" fill="#3cf58e"/>
<circle cx="1223.4" cy="1166.5" r="5.1" fill="#2ef09d"/>
<circle cx="1062.7" cy="1167.0" r="4.9" fill="#4663d8"/>
<circle cx="623.2" cy="768.1" r="9.8" fill="#b11a01"/>
<circle cx="1028.4" cy="1167.8" r="4.9" fill="#351f5b"/>
<circle cx="1287.8" cy="1169.7" r="5.1" fill="#57fa75"/>
<circle cx="1122.8" cy="1171.4" r="5.0" fill="#3aa1fb"/>
<circle cx="1090.2" cy="1171.4" r="5.0" fill="#4489fa"/>
<circle cx="1054.4" cy="1169.5" r="4.9" fill="#4456c6"/>
<circle cx="1021.3" cy="1171.1" r="4.9" fill="#341c53"/>
<circle cx="1152.3" cy="1171.4" r="5.0" fill="#22c5e0"/>
<circle cx="896.0" cy="871.3" r="6.4" fill="#e2430a"/>
<circle cx="1116.1" cy="1171.2" r="5.0" fill="#4294ff"/>
<circle cx="1081.8" cy="1170.7" r="4.9" fill="#4675ec"/>
<circle cx="1245.0" cy="1172.5" r="5.1" fill="#30f19a"/>
<circle cx="1048.7" cy="1173.3" r="4.9" fill="#3e3992"/>
<circle cx="1016.9" cy="1173.7" r="4.9" fill="#3b2f7e"/>
<circle cx="1146.3" cy="1174.3" r="5.0" fill="#27bee9"/>
<circle cx="903.1" cy="873.4" r="6.1" fill="#e84d0d"/>
<circle cx="1109.7" cy="1173.0" r="5.0" fill="#4390fd"/>
<circle cx="1075.2" cy="1175.5" r="4.9" fill="#4662d7"/>
<circle cx="1239.8" cy="1174.1" r="5.1" fill="#18dec0"/>
<circle cx="1204.3" cy="1174.2" r="5.0" fill="#1dccd9"/>
<circle cx="1042.9" cy="1174.9" r="4.9" fill="#341c52"/>
<circle cx="1171.2" cy="1174.8" r="5.0" fill="#2bb8ee"/>
<circle cx="1138.6" cy="1175.2" r="5.0" fill="#38a6fa"/>
<circle cx="915.6" cy="875.3" r="6.1" fill="#e74b0c"/>
<circle cx="1269.4" cy="1175.2" r="5.1" fill="#20e9ad"/>
<circle cx="887.8" cy="876.1" r="6.0" fill="#e94e0d"/>
<circle cx="1104.4" cy="1176.4" r="5.0" fill="#467ff6"/>
<circle cx="1071.7" cy="1175.5" r="4.9" fill="#4454c2"/>
<circle cx="1037.5" cy="1176.2" r="4.9" fill="#321645"/>
<circle cx="897.7" cy="877.2" r="6.2" fill="#e6490c"/>
<circle cx="1164.7" cy="1178.7" r="5.0" fill="#2fb2f2"/>
<circle cx="1132.1" cy="1175.7" r="5.0" fill="#39a4fb"/>
<circle cx="1095.8" cy="1178.1" r="4.9" fill="#4671e8"/>
<circle cx="1064.7" cy="1178.2" r="4.9" fill="#3b2e7c"/>
<circle cx="921.9" cy="879.1" r="6.2" fill="#e5470b"/>
<circle cx="1031.2" cy="1178.1" r="4.8" fill="#321645"/>
<circle cx="1289.1" cy="1178.1" r="5.1" fill="#43f687"/>
<circle cx="1160.1" cy="1178.5" r="5.0" fill="#31b0f4"/>
<circle cx="1127.9" cy="1179.0" r="5.0" fill="#438efc"/>
<circle cx="794.9" cy="781.0" r="8.7" fill="#bf2202"/>
<circle cx="1091.4" cy="1180.9" r="4.9" fill="#4452c0"/>
<circle cx="1057.7" cy="1180.7" r="4.9" fill="#351e58"/>
<circle cx="1349.2" cy="1182.0" r="5.2" fill="#7dfe56"/>
<circle cx="829.3" cy="781.8" r="8.5" fill="#c12403"/>
<circle cx="1314.7" cy="1181.6" r="5.1" fill="#49f882"/>
<circle cx="1152.7" cy="1182.7" r="5.0" fill="#33acf7"/>
<circle cx="1122.7" cy="1182.5" r="5.0" fill="#4390fd"/>
<circle cx="1085.9" cy="1183.6" r="4.9" fill="#4352bf"/>
<circle cx="1052.1" cy="1183.8" r="4.9" fill="#33194b"/>
<circle cx="1182.4" cy="1184.5" r="5.0" fill="#33adf6"/>
<circle cx="927.0" cy="884.0" r="5.9" fill="#ed5610"/>
<circle cx="1278.0" cy="1184.8" r="5.1" fill="#29eda3"/>
<circle cx="1146.8" cy="1184.5" r="5.0" fill="#3e9afd"/>
<circle cx="1116.0" cy="1183.7" r="4.9" fill="#4675ec"/>
<circle cx="906.2" cy="884.2" r="5.8" fill="#ef5911"/>
<circle cx="635.5" cy="784.4" r="9.5" fill="#b41c02"/>
<circle cx="918.3" cy="884.6" r="5.8" fill="#ee5811"/>
<circle cx="1080.4" cy="1184.2" r="4.9" fill="#3e3993"/>
<circle cx="1207.8" cy="1185.6" r="5.0" fill="#21c7df"/>
<circle cx="1175.0" cy="1185.3" r="5.0" fill="#36a9f9"/>
<circle cx="789.8" cy="786.1" r="8.6" fill="#bf2202"/>
<circle cx="1272.3" cy="1186.9" r="5.1" fill="#1ae0bd"/>
<circle cx="1140.6" cy="1187.5" r="5.0" fill="#4489fa"/>
<circle cx="1109.8" cy="1186.6" r="4.9" fill="#455ed1"/>
<circle cx="900.4" cy="886.6" r="5.8" fill="#ef5911"/>
<circle cx="1074.1" cy="1187.8" r="4.9" fill="#372364"/>
<circle cx="1200.5" cy="1186.7" r="5.0" fill="#25c1e6"/>
<circle cx="1170.5" cy="1188.1" r="5.0" fill="#3e9afd"/>
<circle cx="1137.2" cy="1189.3" r="5.0" fill="#4679f0"/>
<circle cx="1102.6" cy="1187.0" r="4.9" fill="#4146ab"/>
<circle cx="1066.2" cy="1191.0" r="4.8" fill="#321645"/>
<circle cx="1195.9" cy="1192.0" r="5.0" fill="#33adf6"/>
<circle cx="1162.7" cy="1190.1" r="5.0" fill="#3c9ffc"/>
<circle cx="1326.3" cy="1189.5" r="5.1" fill="#3cf58e"/>
<circle cx="1128.6" cy="1190.2" r="4.9" fill="#4351bd"/>
<circle cx="1098.8" cy="1190.5" r="4.9" fill="#3c3488"/>
<circle cx="1227.8" cy="1192.5" r="5.0" fill="#20c8de"/>
<circle cx="806.1" cy="791.3" r="8.5" fill="#c22403"/>
<circle cx="1386.1" cy="1193.3" r="5.2" fill="#60fc6e"/>
<circle cx="1188.7" cy="1191.8" r="5.0" fill="#3d9cfd"/>
<circle cx="1157.4" cy="1191.8" r="5.0" fill="#4293fe"/>
<circle cx="1123.5" cy="1192.5" r="4.9" fill="#4456c7"/>
<circle cx="1090.7" cy="1194.7" r="4.9" fill="#3b2f7f"/>
<circle cx="1219.1" cy="1192.7" r="5.0" fill="#22c5e1"/>
<circle cx="907.4" cy="893.8" r="5.7" fill="#f26115"/>
<circle cx="1411.8" cy="1193.1" r="5.2" fill="#63fc6b"/>
<circle cx="1185.0" cy="1196.0" r="5.0" fill="#3c9efc"/>
<circle cx="932.1" cy="894.9" r="5.7" fill="#f26014"/>
<circle cx="1152.2" cy="1195.6" r="5.0" fill="#467af1"/>
<circle cx="1117.1" cy="1194.0" r="4.9" fill="#3f3d9b"/>
<circle cx="1085.4" cy="1194.3" r="4.9" fill="#321645"/>
<circle cx="1213.7" cy="1194.2" r="5.0" fill="#33adf6"/>
<circle cx="931.2" cy="896.8" r="5.8" fill="#ef5a12"/>
<circle cx="1177.5" cy="1196.2" r="4.9" fill="#4675ed"/>
<circle cx="1145.0" cy="1197.7" r="4.9" fill="#4561d5"/>
<circle cx="1113.1" cy="1198.0" r="4.9" fill="#362260"/>
<circle cx="1209.5" cy="1197.3" r="5.0" fill="#4295fe"/>
<circle cx="919.2" cy="898.6" r="5.6" fill="#f46617"/>
<circle cx="1366.7" cy="1198.3" r="5.1" fill="#36f394"/>
<circle cx="1171.1" cy="1200.3" r="5.0" fill="#448cfc"/>
<circle cx="1138.4" cy="1199.4" r="4.9" fill="#403f9e"/>
<circle cx="1334.6" cy="1197.9" r="5.1" fill="#3ef58c"/>
<circle cx="914.0" cy="899.7" r="5.6" fill="#f56717"/>
<circle cx="1233.9" cy="1200.7" r="5.0" fill="#1fcadb"/>
<circle cx="1106.7" cy="1199.7" r="4.9" fill="#372363"/>
<circle cx="1203.3" cy="1200.8" r="5.0" fill="#34acf7"/>
<circle cx="924.4" cy="900.3" r="5.5" fill="#f7701b"/>
<circle cx="800.9" cy="800.7" r="8.3" fill="#c32503"/>
<circle cx="1393.4" cy="1201.0" r="5.1" fill="#50f97b"/>
<circle cx="1164.3" cy="1202.6" r="4.9" fill="#466de5"/>
<circle cx="1132.6" cy="1201.2" r="4.9" fill="#36205c"/>
<circle cx="1194.4" cy="1203.7" r="5.0" fill="#3f99fd"/>
<circle cx="935.3" cy="903.4" r="5.6" fill="#f26215"/>
<circle cx="1158.9" cy="1205.0" r="4.9" fill="#4562d6"/>
<circle cx="1126.0" cy="1204.0" r="4.9" fill="#321747"/>
<circle cx="1223.2" cy="1204.3" r="5.0" fill="#37a7fa"/>
<circle cx="1189.2" cy="1205.8" r="5.0" fill="#448bfb"/>
<circle cx="944.8" cy="905.2" r="5.5" fill="#f66d1a"/>
<circle cx="1155.1" cy="1204.8" r="4.9" fill="#3f3e9c"/>
<circle cx="1121.3" cy="1207.8" r="4.9" fill="#36205c"/>
<circle cx="1216.2" cy="1206.8" r="5.0" fill="#3f98fe"/>
<circle cx="1250.4" cy="1205.1" r="5.0" fill="#25c1e5"/>
<circle cx="920.4" cy="906.8" r="5.3" fill="#fa7c20"/>
<circle cx="1185.4" cy="1208.5" r="5.0" fill="#467af0"/>
<circle cx="1341.5" cy="1206.6" r="5.1" fill="#1de6b4"/>
<circle cx="1146.4" cy="1207.4" r="4.9" fill="#3b2e7b"/>
<circle cx="1212.5" cy="1208.4" r="5.0" fill="#4489fa"/>
<circle cx="1243.8" cy="1209.9" r="5.0" fill="#39a4fb"/>
<circle cx="1179.0" cy="1209.7" r="4.9" fill="#4350bd"/>
<circle cx="824.0" cy="809.5" r="8.1" fill="#c72803"/>
<circle cx="929.1" cy="910.0" r="5.4" fill="#f9791f"/>
<circle cx="1142.1" cy="1210.9" r="4.9" fill="#372363"/>
<circle cx="1269.3" cy="1210.9" r="5.0" fill="#23c4e2"/>
<circle cx="818.0" cy="811.0" r="8.1" fill="#c72803"/>
<circle cx="1203.8" cy="1210.8" r="4.9" fill="#466de5"/>
<circle cx="1236.3" cy="1211.7" r="5.0" fill="#3d9cfd"/>
<circle cx="1171.4" cy="1211.2" r="4.9" fill="#424bb4"/>
<circle cx="954.3" cy="911.5" r="5.6" fill="#f36315"/>
<circle cx="1397.5" cy="1210.7" r="5.1" fill="#49f881"/>
<circle cx="1135.8" cy="1213.1" r="4.9" fill="#372465"/>
<circle cx="1265.6" cy="1213.1" r="5.0" fill="#33acf7"/>
<circle cx="1199.7" cy="1214.9" r="4.9" fill="#4561d5"/>
<circle cx="1230.9" cy="1213.7" r="5.0" fill="#4292fe"/>
<circle cx="1164.8" cy="1213.5" r="4.9" fill="#3f3c98"/>
<circle cx="947.5" cy="914.3" r="5.3" fill="#fa7b20"/>
<circle cx="641.5" cy="814.5" r="9.0" fill="#ba1f02"/>
<circle cx="889.4" cy="815.3" r="7.5" fill="#cf2e04"/>
<circle cx="1292.6" cy="1214.4" r="5.0" fill="#24c2e4"/>
<circle cx="1258.8" cy="1214.7" r="5.0" fill="#3d9dfd"/>
<circle cx="1194.3" cy="1216.6" r="4.9" fill="#4350bc"/>
<circle cx="1225.9" cy="1216.1" r="5.0" fill="#4587f9"/>
<circle cx="922.5" cy="915.9" r="5.4" fill="#f9751d"/>
<circle cx="1160.1" cy="1216.9" r="4.9" fill="#351f5a"/>
<circle cx="938.8" cy="916.1" r="5.4" fill="#f7701b"/>
<circle cx="1384.3" cy="1217.9" r="5.1" fill="#25eba8"/>
<circle cx="1284.6" cy="1215.9" r="5.0" fill="#33adf6"/>
<circle cx="1251.3" cy="1217.4" r="5.0" fill="#3f98fe"/>
<circle cx="960.7" cy="917.8" r="5.4" fill="#f9781e"/>
<circle cx="1185.7" cy="1218.8" r="4.9" fill="#3b307f"/>
<circle cx="1220.1" cy="1218.6" r="4.9" fill="#466ee5"/>
<circle cx="1154.1" cy="1216.9" r="4.9" fill="#351e56"/>
<circle cx="778.5" cy="819.6" r="8.2" fill="#c52703"/>
<circle cx="779.5" cy="819.6" r="8.2" fill="#c52703"/>
<circle cx="1278.5" cy="1218.2" r="5.0" fill="#32aef5"/>
<circle cx="932.2" cy="920.0" r="5.2" fill="#fc8624"/>
<circle cx="1180.1" cy="1221.2" r="4.9" fill="#3c3387"/>
<circle cx="1213.8" cy="1221.3" r="4.9" fill="#4663d8"/>
<circle cx="1372.0" cy="1222.1" r="5.1" fill="#1ae0bd"/>
<circle cx="1405.3" cy="1222.6" r="5.1" fill="#18dec0"/>
<circle cx="1274.0" cy="1221.5" r="5.0" fill="#37a7fa"/>
<circle cx="1174.7" cy="1220.6" r="4.9" fill="#33194b"/>
<circle cx="1208.9" cy="1220.7" r="4.9" fill="#4351be"/>
<circle cx="940.8" cy="923.6" r="5.3" fill="#fb7e21"/>
<circle cx="785.4" cy="823.9" r="8.1" fill="#c72803"/>
<circle cx="1265.6" cy="1225.1" r="5.0" fill="#4097fe"/>
<circle cx="1234.6" cy="1225.6" r="4.9" fill="#4668df"/>
<circle cx="1201.4" cy="1225.9" r="4.9" fill="#3e3993"/>
<circle cx="784.6" cy="824.8" r="8.0" fill="#c72803"/>
<circle cx="966.1" cy="925.2" r="5.3" fill="#fb8022"/>
<circle cx="1328.1" cy="1226.9" r="5.0" fill="#1ecbda"/>
<circle cx="937.8" cy="926.4" r="5.2" fill="#fc8825"/>
<circle cx="1226.8" cy="1228.2" r="4.9" fill="#4558ca"/>
<circle cx="1195.0" cy="1227.1" r="4.9" fill="#33194b"/>
<circle cx="774.3" cy="827.3" r="8.1" fill="#c72803"/>
<circle cx="946.6" cy="927.9" r="5.2" fill="#fd8d27"/>
<circle cx="1320.9" cy="1229.4" r="5.0" fill="#30b1f3"/>
<circle cx="1288.3" cy="1228.1" r="5.0" fill="#39a4fb"/>
<circle cx="1253.6" cy="1227.7" r="5.0" fill="#467ff6"/>
<circle cx="1221.3" cy="1228.0" r="4.9" fill="#4143a6"/>
<circle cx="773.4" cy="829.0" r="8.0" fill="#c72803"/>
<circle cx="1188.8" cy="1230.4" r="4.9" fill="#38266b"/>
<circle cx="1283.9" cy="1229.5" r="5.0" fill="#4196fe"/>
<circle cx="972.3" cy="930.7" r="5.3" fill="#fc8323"/>
<circle cx="812.1" cy="830.8" r="7.8" fill="#cb2b04"/>
<circle cx="1248.2" cy="1232.1" r="4.9" fill="#4350bc"/>
<circle cx="1214.8" cy="1232.2" r="4.9" fill="#3b3080"/>
<circle cx="564.0" cy="832.0" r="9.2" fill="#b81e02"/>
<circle cx="1341.6" cy="1232.6" r="5.0" fill="#36a9f9"/>
<circle cx="944.8" cy="933.1" r="5.2" fill="#fd8d27"/>
<circle cx="1243.5" cy="1233.3" r="4.9" fill="#4456c7"/>
<circle cx="1209.1" cy="1232.0" r="4.9" fill="#372567"/>
<circle cx="977.7" cy="934.8" r="5.2" fill="#fd8e28"/>
<circle cx="1203.9" cy="1234.0" r="4.9" fill="#38276c"/>
<circle cx="964.2" cy="936.8" r="5.2" fill="#fd8e28"/>
<circle cx="1263.6" cy="1238.9" r="4.9" fill="#455ccf"/>
<circle cx="767.5" cy="837.6" r="7.9" fill="#c82904"/>
<circle cx="1231.3" cy="1238.6" r="4.9" fill="#321645"/>
<circle cx="767.4" cy="838.5" r="7.9" fill="#c92904"/>
<circle cx="972.6" cy="938.9" r="5.1" fill="#fe982c"/>
<circle cx="1258.7" cy="1241.0" r="4.9" fill="#3e3992"/>
<circle cx="949.6" cy="940.7" r="5.1" fill="#fe9c2e"/>
<circle cx="961.7" cy="940.9" r="5.1" fill="#fe952b"/>
<circle cx="1252.4" cy="1243.0" r="4.9" fill="#3a2c77"/>
<circle cx="886.8" cy="842.8" r="7.1" fill="#d63506"/>
<circle cx="982.7" cy="943.3" r="5.1" fill="#fe962b"/>
<circle cx="955.9" cy="943.4" r="5.1" fill="#fe9c2d"/>
<circle cx="1245.8" cy="1244.0" r="4.9" fill="#331848"/>
<circle cx="968.6" cy="944.3" r="5.1" fill="#fe9a2d"/>
<circle cx="652.0" cy="845.0" r="8.5" fill="#c12303"/>
<circle cx="1273.2" cy="1247.6" r="4.9" fill="#4146ab"/>
<circle cx="880.8" cy="847.1" r="7.0" fill="#d73606"/>
<circle cx="976.5" cy="948.0" r="5.1" fill="#fea02f"/>
<circle cx="964.2" cy="948.7" r="5.0" fill="#fda832"/>
<circle cx="1292.3" cy="1251.7" r="4.9" fill="#4557c9"/>
<circle cx="1261.2" cy="1250.2" r="4.9" fill="#3d3890"/>
<circle cx="1325.2" cy="1252.5" r="5.0" fill="#4677ee"/>
<circle cx="1355.8" cy="1252.4" r="5.0" fill="#448afb"/>
<circle cx="675.5" cy="852.2" r="8.3" fill="#c42603"/>
<circle cx="1319.3" cy="1254.0" r="4.9" fill="#455bcd"/>
<circle cx="972.7" cy="953.9" r="5.1" fill="#fea431"/>
<circle cx="875.6" cy="854.0" r="6.9" fill="#d83707"/>
<circle cx="480.7" cy="854.8" r="9.3" fill="#b71d02"/>
<circle cx="1313.5" cy="1256.6" r="4.9" fill="#3f3c99"/>
<circle cx="1373.6" cy="1255.6" r="5.0" fill="#4291fe"/>
<circle cx="1308.6" cy="1259.1" r="4.9" fill="#382568"/>
<circle cx="966.7" cy="957.8" r="5.0" fill="#fdad34"/>
<circle cx="685.0" cy="858.2" r="8.1" fill="#c62703"/>
<circle cx="1300.4" cy="1261.1" r="4.9" fill="#3a2b76"/>
<circle cx="1360.9" cy="1261.9" r="4.9" fill="#4673ea"/>
<circle cx="1328.7" cy="1259.7" r="4.9" fill="#434db7"/>
<circle cx="901.4" cy="861.7" r="6.6" fill="#de3e08"/>
<circle cx="1295.9" cy="1261.1" r="4.9" fill="#321747"/>
<circle cx="762.2" cy="865.1" r="7.5" fill="#cf2e04"/>
<circle cx="762.3" cy="866.0" r="7.5" fill="#d02f05"/>
<circle cx="485.8" cy="866.8" r="9.1" fill="#b91e02"/>
<circle cx="892.8" cy="866.8" r="6.6" fill="#df3f09"/>
<circle cx="1345.8" cy="1269.0" r="4.9" fill="#3b307f"/>
<circle cx="1313.5" cy="1267.0" r="4.9" fill="#36205d"/>
<circle cx="911.7" cy="868.5" r="6.4" fill="#e2440a"/>
<circle cx="647.2" cy="869.4" r="8.2" fill="#c62703"/>
<circle cx="1338.8" cy="1270.8" r="4.9" fill="#372363"/>
<circle cx="503.0" cy="870.3" r="9.0" fill="#bb1f02"/>
<circle cx="1365.9" cy="1270.8" r="4.9" fill="#3c3284"/>
<circle cx="860.2" cy="872.8" r="6.7" fill="#dd3c08"/>
<circle cx="1362.1" cy="1274.5" r="4.9" fill="#362261"/>
<circle cx="894.5" cy="874.5" r="6.4" fill="#e2430a"/>
<circle cx="474.7" cy="876.3" r="9.0" fill="#ba1f02"/>
<circle cx="1376.0" cy="1280.0" r="4.9" fill="#3b2e7c"/>
<circle cx="870.5" cy="882.3" r="6.4" fill="#e2430a"/>
<circle cx="657.5" cy="885.7" r="7.8" fill="#ca2b04"/>
<circle cx="669.5" cy="885.7" r="7.7" fill="#cb2b04"/>
<circle cx="885.9" cy="885.7" r="6.2" fill="#e5480b"/>
<circle cx="865.3" cy="887.4" r="6.3" fill="#e3450a"/>
<circle cx="512.4" cy="892.6" r="8.6" fill="#c02302"/>
<circle cx="855.0" cy="893.4" r="6.3" fill="#e4460b"/>
<circle cx="506.4" cy="894.3" r="8.6" fill="#c02302"/>
<circle cx="758.0" cy="895.0" r="7.0" fill="#d73706"/>
<circle cx="757.2" cy="895.2" r="7.0" fill="#d73706"/>
<circle cx="707.3" cy="896.0" r="7.3" fill="#d23105"/>
<circle cx="491.8" cy="896.9" r="8.6" fill="#bf2202"/>
<circle cx="750.2" cy="897.7" r="7.0" fill="#d73606"/>
<circle cx="740.8" cy="898.6" r="7.0" fill="#d63606"/>
<circle cx="746.9" cy="898.6" r="7.0" fill="#d73606"/>
<circle cx="880.8" cy="901.2" r="5.9" fill="#ec530f"/>
<circle cx="470.4" cy="903.7" r="8.7" fill="#bf2202"/>
<circle cx="470.0" cy="904.3" r="8.6" fill="#bf2202"/>
<circle cx="663.5" cy="907.2" r="7.4" fill="#d13005"/>
<circle cx="875.6" cy="907.2" r="5.8" fill="#ee5711"/>
<circle cx="663.1" cy="907.7" r="7.4" fill="#d13005"/>
<circle cx="849.9" cy="909.7" r="6.0" fill="#eb500e"/>
<circle cx="815.5" cy="914.9" r="6.1" fill="#e74a0c"/>
<circle cx="869.6" cy="916.6" r="5.7" fill="#f26114"/>
<circle cx="844.7" cy="918.3" r="5.8" fill="#ee5711"/>
<circle cx="497.9" cy="920.0" r="8.2" fill="#c42603"/>
<circle cx="695.3" cy="920.0" r="6.9" fill="#d83707"/>
<circle cx="890.2" cy="920.0" r="5.4" fill="#f9771e"/>
<circle cx="497.4" cy="920.6" r="8.2" fill="#c52603"/>
<circle cx="793.2" cy="920.9" r="6.2" fill="#e6490c"/>
<circle cx="822.4" cy="921.8" r="5.9" fill="#eb520f"/>
<circle cx="751.6" cy="923.5" r="6.5" fill="#e14109"/>
<circle cx="751.2" cy="923.5" r="6.5" fill="#e14109"/>
<circle cx="793.1" cy="923.5" r="6.1" fill="#e74a0c"/>
<circle cx="693.1" cy="924.0" r="6.9" fill="#d93807"/>
<circle cx="810.4" cy="924.3" r="6.0" fill="#eb500e"/>
<circle cx="829.3" cy="926.0" r="5.8" fill="#ef5912"/>
<circle cx="894.5" cy="926.9" r="5.1" fill="#fe952b"/>
<circle cx="700.4" cy="928.6" r="6.7" fill="#db3b08"/>
<circle cx="838.7" cy="928.6" r="5.6" fill="#f26215"/>
<circle cx="805.2" cy="930.3" r="5.9" fill="#ec540f"/>
<circle cx="788.1" cy="930.3" r="6.0" fill="#e94e0d"/>
<circle cx="698.3" cy="931.8" r="6.7" fill="#dc3c08"/>
<circle cx="711.6" cy="932.0" r="6.6" fill="#de3e08"/>
<circle cx="788.0" cy="932.0" r="6.0" fill="#ea4f0e"/>
<circle cx="464.9" cy="933.8" r="8.2" fill="#c52603"/>
<circle cx="464.8" cy="934.3" r="8.2" fill="#c52603"/>
<circle cx="606.4" cy="936.9" r="7.2" fill="#d33205"/>
<circle cx="606.5" cy="937.2" r="7.2" fill="#d33205"/>
<circle cx="880.8" cy="938.0" r="5.0" fill="#fcaf35"/>
<circle cx="729.6" cy="940.6" r="6.3" fill="#e4460b"/>
<circle cx="639.5" cy="941.0" r="6.9" fill="#d83707"/>
<circle cx="639.1" cy="941.2" r="6.9" fill="#d83707"/>
<circle cx="336.0" cy="942.0" r="8.8" fill="#bd2102"/>
<circle cx="721.0" cy="943.2" r="6.3" fill="#e4460b"/>
<circle cx="799.2" cy="944.0" r="5.6" fill="#f36315"/>
<circle cx="798.3" cy="944.0" r="5.6" fill="#f36215"/>
<circle cx="734.8" cy="945.8" r="6.1" fill="#e74b0c"/>
<circle cx="590.1" cy="948.1" r="7.2" fill="#d43406"/>
<circle cx="589.7" cy="948.4" r="7.2" fill="#d43406"/>
<circle cx="520.2" cy="949.2" r="7.6" fill="#ce2d04"/>
<circle cx="519.7" cy="950.6" r="7.6" fill="#ce2d04"/>
<circle cx="599.0" cy="951.0" r="7.0" fill="#d63606"/>
<circle cx="616.3" cy="952.0" r="6.9" fill="#d93807"/>
<circle cx="603.0" cy="953.0" r="7.0" fill="#d73706"/>
<circle cx="597.0" cy="954.9" r="7.0" fill="#d73706"/>
<circle cx="615.9" cy="954.9" r="6.8" fill="#da3907"/>
<circle cx="612.0" cy="960.0" r="6.8" fill="#db3a07"/>
<circle cx="555.8" cy="963.5" r="7.1" fill="#d53406"/>
<circle cx="551.5" cy="969.5" r="7.0" fill="#d73606"/>
<circle cx="645.1" cy="973.8" r="7.2" fill="#d43306"/>
<circle cx="454.5" cy="974.0" r="7.6" fill="#ce2d04"/>
<circle cx="459.5" cy="975.5" r="7.5" fill="#cf2e04"/>
<circle cx="626.2" cy="975.5" r="7.2" fill="#d43306"/>
<circle cx="689.7" cy="976.4" r="6.8" fill="#db3a07"/>
<circle cx="621.0" cy="979.0" r="7.2" fill="#d43306"/>
<circle cx="584.1" cy="982.4" r="7.2" fill="#d43306"/>
<circle cx="667.4" cy="982.4" r="6.8" fill="#db3a07"/>
<circle cx="650.2" cy="987.6" r="6.8" fill="#db3a07"/>
<circle cx="633.9" cy="991.8" r="6.8" fill="#db3a07"/>
<circle cx="448.5" cy="993.6" r="7.3" fill="#d23205"/>
<circle cx="524.9" cy="994.1" r="7.2" fill="#d43306"/>
<circle cx="442.5" cy="999.6" r="7.2" fill="#d33305"/>
<circle cx="542.1" cy="1009.9" r="7.2" fill="#d43306"/>
<circle cx="626.2" cy="1009.9" r="6.6" fill="#de3e08"/>
<circle cx="617.0" cy="1013.0" r="6.6" fill="#de3e08"/>
<circle cx="535.2" cy="1013.3" r="7.2" fill="#d43306"/>
<circle cx="528.3" cy="1016.7" r="7.2" fill="#d43306"/>
<circle cx="607.3" cy="1016.7" r="6.6" fill="#de3e08"/>
<circle cx="495.7" cy="1018.5" r="7.2" fill="#d43306"/>
<circle cx="548.1" cy="1018.5" r="7.0" fill="#d73606"/>
<circle cx="579.0" cy="1018.5" r="6.8" fill="#db3a07"/>
<circle cx="351.2" cy="1023.3" r="7.6" fill="#cd2d04"/>
<circle cx="492.3" cy="1027.0" r="7.2" fill="#d43306"/>
<circle cx="519.7" cy="1027.0" r="7.0" fill="#d73606"/>
<circle cx="502.6" cy="1030.5" r="7.0" fill="#d73606"/>
<circle cx="436.8" cy="1035.6" r="6.8" fill="#db3a07"/>
<circle cx="536.9" cy="1039.0" r="6.6" fill="#de3e08"/>
<circle cx="484.5" cy="1042.5" r="6.8" fill="#db3a07"/>
<circle cx="509.4" cy="1045.9" r="6.6" fill="#de3e08"/>
<circle cx="540.0" cy="1047.0" r="6.5" fill="#e14109"/>
<circle cx="431.3" cy="1062.2" r="6.2" fill="#e6490c"/>
<circle cx="365.2" cy="1065.3" r="6.9" fill="#d83707"/>
<circle cx="476.8" cy="1066.5" r="6.2" fill="#e6490c"/>
<circle cx="471.0" cy="1070.0" r="6.0" fill="#e94e0d"/>
<circle cx="457.9" cy="1080.3" r="5.7" fill="#f05c12"/>
<circle cx="426.2" cy="1081.1" r="5.6" fill="#f46616"/>
<circle cx="464.8" cy="1085.4" r="5.6" fill="#f46616"/>
<circle cx="380.7" cy="1092.8" r="6.5" fill="#e04009"/>
<circle cx="420.2" cy="1099.1" r="5.1" fill="#fe9c2d"/>
<circle cx="414.2" cy="1106.0" r="5.1" fill="#fda631"/>
<circle cx="394.9" cy="1114.6" r="6.2" fill="#e6490c"/>
<circle cx="410.4" cy="1126.3" r="6.0" fill="#e94e0d"/>
<circle cx="425.3" cy="1132.1" r="6.0" fill="#e94e0d"/>
<circle cx="439.9" cy="1149.8" r="5.7" fill="#f05c12"/>
<circle cx="683.0" cy="1086.0" r="4.4" fill="#38266b"/>
<circle cx="690.0" cy="1092.0" r="4.4" fill="#38266b"/>
<circle cx="697.0" cy="1086.0" r="4.4" fill="#38266b"/>
<circle cx="687.0" cy="1100.0" r="4.4" fill="#38266b"/>
<circle cx="693.0" cy="1106.0" r="4.4" fill="#38266b"/>
<circle cx="700.0" cy="1096.0" r="4.4" fill="#38266b"/>
<circle cx="706.0" cy="1088.0" r="4.4" fill="#38266b"/>
<circle cx="691.0" cy="1112.0" r="4.4" fill="#38266b"/>
<circle cx="624.5" cy="1139.7" r="4.8" fill="#d5e635"/>
<circle cx="691.4" cy="1157.7" r="4.8" fill="#d5e635"/>
<circle cx="696.0" cy="1156.0" r="4.8" fill="#d5e635"/>
<circle cx="709.5" cy="1162.9" r="4.8" fill="#d5e635"/>
<circle cx="739.0" cy="1173.2" r="4.8" fill="#d5e635"/>
<circle cx="768.7" cy="1182.2" r="4.8" fill="#d5e635"/>
<circle cx="772.6" cy="1192.5" r="4.8" fill="#d5e635"/>
<circle cx="798.3" cy="1195.1" r="4.8" fill="#d5e635"/>
<circle cx="817.6" cy="1210.5" r="4.8" fill="#d5e635"/>
<circle cx="692.0" cy="1104.0" r="4.2" fill="#edd13a"/>
<circle cx="705.0" cy="1108.0" r="4.2" fill="#edd13a"/>
<circle cx="722.0" cy="1100.0" r="4.2" fill="#edd13a"/>
<circle cx="733.0" cy="1096.0" r="4.2" fill="#edd13a"/>
<circle cx="756.0" cy="1108.0" r="4.2" fill="#edd13a"/>
<circle cx="768.0" cy="1112.0" r="4.2" fill="#edd13a"/>
<circle cx="812.0" cy="1121.0" r="4.2" fill="#edd13a"/>
<circle cx="824.0" cy="1118.0" r="4.2" fill="#edd13a"/>
<circle cx="848.0" cy="1130.0" r="4.2" fill="#edd13a"/>
<circle cx="869.0" cy="1135.0" r="4.2" fill="#edd13a"/>
<circle cx="905.0" cy="1137.0" r="4.2" fill="#edd13a"/>
<circle cx="918.0" cy="1150.0" r="4.2" fill="#edd13a"/>
<circle cx="1011.0" cy="1185.0" r="4.2" fill="#edd13a"/>
<circle cx="1049.0" cy="1190.0" r="4.2" fill="#edd13a"/>
<circle cx="1074.0" cy="1190.0" r="4.2" fill="#edd13a"/>
<circle cx="1153.0" cy="1227.0" r="4.2" fill="#edd13a"/>
<circle cx="1192.0" cy="1236.0" r="4.2" fill="#edd13a"/>
<circle cx="1015.0" cy="1130.0" r="4.2" fill="#edd13a"/>
<circle cx="830.0" cy="1085.0" r="4.2" fill="#edd13a"/>
<circle cx="1040.0" cy="1203.0" r="4.2" fill="#edd13a"/>
<circle cx="1380.5" cy="1178.5" r="4.7" fill="#96fe44"/>
<circle cx="1408.0" cy="1178.0" r="4.8" fill="#a2fd3d"/>
<circle cx="1416.0" cy="1175.5" r="4.8" fill="#a2fd3d"/>
<circle cx="1434.5" cy="1190.6" r="4.8" fill="#a2fd3d"/>
<circle cx="1439.7" cy="1200.0" r="4.8" fill="#a2fd3d"/>
<circle cx="1340.0" cy="1204.3" r="4.7" fill="#39f491"/>
<circle cx="1379.6" cy="1223.2" r="4.7" fill="#25eca7"/>
<circle cx="1381.3" cy="1243.8" r="4.6" fill="#2db6f0"/>
<circle cx="1343.6" cy="1147.6" r="4.7" fill="#96fe44"/>
<circle cx="1335.0" cy="1161.4" r="4.9" fill="#e7d639"/>
<circle cx="1345.3" cy="1169.0" r="4.9" fill="#e7d639"/>
<circle cx="1302.4" cy="1140.8" r="4.9" fill="#e7d639"/>
<circle cx="1293.0" cy="1134.0" r="4.8" fill="#a2fd3d"/>
<circle cx="1281.8" cy="1147.6" r="4.8" fill="#bff335"/>
<circle cx="1427.5" cy="1270.0" r="4.6" fill="#2db6f0"/>
<circle cx="1380.0" cy="1242.5" r="4.6" fill="#27bee8"/>
<circle cx="1382.5" cy="1220.0" r="4.7" fill="#25eca7"/>
<circle cx="1210.0" cy="1255.0" r="4.4" fill="#38266b"/>
<circle cx="1250.0" cy="1260.0" r="4.4" fill="#38266b"/>
<circle cx="1265.0" cy="1255.0" r="4.4" fill="#3f3b97"/>
<circle cx="1290.0" cy="1255.0" r="4.4" fill="#3b3182"/>
<circle cx="1310.0" cy="1260.0" r="4.5" fill="#4559cb"/>
<circle cx="1330.0" cy="1270.0" r="4.4" fill="#3b3182"/>
<circle cx="1345.0" cy="1277.5" r="4.4" fill="#3f3b97"/>
<circle cx="1365.0" cy="1295.0" r="4.4" fill="#341c52"/>
<circle cx="313.5" cy="1141.5" r="4.2" fill="#f7c039"/>
<line class="a" x1="310.0" y1="1140.0" x2="310.0" y2="310.0"/>
<line class="a" x1="310.0" y1="1140.0" x2="1050.0" y2="1415.0"/>
<line class="a" x1="1050.0" y1="1415.0" x2="1790.0" y2="1140.0"/>
<line class="t" x1="310.0" y1="1140.0" x2="288.4" y2="1132.0"/>
<text x="264.0" y="1150.3" font-size="53.33" text-anchor="end">0</text>
<line class="t" x1="310.0" y1="1009.6" x2="288.4" y2="1001.6"/>
<text x="264.0" y="1019.9" font-size="53.33" text-anchor="end">0.5</text>
<line class="t" x1="310.0" y1="879.2" x2="288.4" y2="871.2"/>
<text x="264.0" y="889.5" font-size="53.33" text-anchor="end">1</text>
<line class="t" x1="310.0" y1="748.8" x2="288.4" y2="740.8"/>
<text x="264.0" y="759.1" font-size="53.33" text-anchor="end">1.5</text>
<line class="t" x1="310.0" y1="618.4" x2="288.4" y2="610.4"/>
<text x="264.0" y="628.7" font-size="53.33" text-anchor="end">2</text>
<line class="t" x1="310.0" y1="488.0" x2="288.4" y2="480.0"/>
<text x="264.0" y="498.3" font-size="53.33" text-anchor="end">2.5</text>
<line class="t" x1="310.0" y1="357.6" x2="288.4" y2="349.6"/>
<text x="264.0" y="367.9" font-size="53.33" text-anchor="end">3</text>
<line class="t" x1="310.0" y1="1140.0" x2="290.8" y2="1147.1"/>
<text x="265.0" y="1211.3" font-size="53.33" text-anchor="end">0</text>
<line class="t" x1="495.0" y1="1208.8" x2="475.8" y2="1215.9"/>
<text x="452.0" y="1283.1" font-size="53.33" text-anchor="end">1</text>
<line class="t" x1="680.0" y1="1277.5" x2="660.8" y2="1284.6"/>
<text x="637.0" y="1351.8" font-size="53.33" text-anchor="end">2</text>
<line class="t" x1="865.0" y1="1346.2" x2="845.8" y2="1353.4"/>
<text x="822.0" y="1420.6" font-size="53.33" text-anchor="end">3</text>
<line class="t" x1="1050.0" y1="1415.0" x2="1030.8" y2="1422.1"/>
<text x="1007.0" y="1489.3" font-size="53.33" text-anchor="end">4</text>
<line class="t" x1="1099.3" y1="1396.7" x2="1116.2" y2="1402.9"/>
<text x="1141.8" y="1468.0" font-size="53.33" text-anchor="start">0</text>
<line class="t" x1="1444.7" y1="1268.3" x2="1461.5" y2="1274.6"/>
<text x="1487.2" y="1339.7" font-size="53.33" text-anchor="start">5</text>
<line class="t" x1="1790.0" y1="1140.0" x2="1806.9" y2="1146.2"/>
<text x="1832.5" y="1211.3" font-size="53.33" text-anchor="start">10</text>
<text x="168.0" y="219.0" font-size="53.33">×<tspan dx="10">10</tspan><tspan dx="1.5" dy="-25" font-size="42.67">7</tspan></text>
<text x="252.0" y="1367.0" font-size="53.33">×<tspan dx="10">10</tspan><tspan dx="1.5" dy="-25" font-size="42.67">4</tspan></text>
<text x="1756.5" y="1366.5" font-size="53.33">×<tspan dx="10">10</tspan><tspan dx="1.5" dy="-25" font-size="42.67">4</tspan></text>
<text x="252.0" y="1495.5" font-size="58.67" text-anchor="start">cycle range [kN-m]</text>
<text x="1384.0" y="1494.0" font-size="58.67" text-anchor="start">cycle mean [kN-m]</text>
<text transform="translate(154.5,723.5) rotate(-90)" font-size="58.67" text-anchor="middle">cycles</text>
<defs><linearGradient id="cb" x1="0" y1="0" x2="0" y2="1"><stop offset="0.0000" stop-color="#7a0403"/><stop offset="0.0156" stop-color="#880802"/><stop offset="0.0312" stop-color="#940d01"/><stop offset="0.0469" stop-color="#a01201"/><stop offset="0.0625" stop-color="#ac1701"/><stop offset="0.0781" stop-color="#b61d02"/><stop offset="0.0938" stop-color="#c02302"/><stop offset="0.1094" stop-color="#c92a04"/><stop offset="0.1250" stop-color="#d23105"/><stop offset="0.1406" stop-color="#d93807"/><stop offset="0.1562" stop-color="#e04009"/><stop offset="0.1719" stop-color="#e6490c"/><stop offset="0.1875" stop-color="#ec520f"/><stop offset="0.2031" stop-color="#f15d13"/><stop offset="0.2188" stop-color="#f56818"/><stop offset="0.2344" stop-color="#f8741d"/><stop offset="0.2500" stop-color="#fb8022"/><stop offset="0.2656" stop-color="#fd8c27"/><stop offset="0.2812" stop-color="#fe982c"/><stop offset="0.2969" stop-color="#fea330"/><stop offset="0.3125" stop-color="#fdad34"/><stop offset="0.3281" stop-color="#fab737"/><stop offset="0.3438" stop-color="#f7c039"/><stop offset="0.3594" stop-color="#f2c83a"/><stop offset="0.3750" stop-color="#edd03a"/><stop offset="0.3906" stop-color="#e5d838"/><stop offset="0.4062" stop-color="#dee037"/><stop offset="0.4219" stop-color="#d5e635"/><stop offset="0.4375" stop-color="#ccec34"/><stop offset="0.4531" stop-color="#c2f234"/><stop offset="0.4688" stop-color="#b8f635"/><stop offset="0.4844" stop-color="#adfa39"/><stop offset="0.5000" stop-color="#a3fd3d"/><stop offset="0.5156" stop-color="#96fe44"/><stop offset="0.5312" stop-color="#8aff4d"/><stop offset="0.5469" stop-color="#7bfe58"/><stop offset="0.5625" stop-color="#6bfd64"/><stop offset="0.5781" stop-color="#5cfb71"/><stop offset="0.5938" stop-color="#4cf97e"/><stop offset="0.6094" stop-color="#3ff58c"/><stop offset="0.6250" stop-color="#31f299"/><stop offset="0.6406" stop-color="#28eda4"/><stop offset="0.6562" stop-color="#1ee8b0"/><stop offset="0.6719" stop-color="#1be2ba"/><stop offset="0.6875" stop-color="#18dcc3"/><stop offset="0.7031" stop-color="#1ad5ce"/><stop offset="0.7188" stop-color="#1dcdd8"/><stop offset="0.7344" stop-color="#23c4e2"/><stop offset="0.7500" stop-color="#29bbec"/><stop offset="0.7656" stop-color="#30b1f3"/><stop offset="0.7812" stop-color="#37a7fa"/><stop offset="0.7969" stop-color="#3d9dfc"/><stop offset="0.8125" stop-color="#4293fe"/><stop offset="0.8281" stop-color="#4489fa"/><stop offset="0.8438" stop-color="#467ff6"/><stop offset="0.8594" stop-color="#4675ec"/><stop offset="0.8750" stop-color="#466be3"/><stop offset="0.8906" stop-color="#4561d5"/><stop offset="0.9062" stop-color="#4456c7"/><stop offset="0.9219" stop-color="#424bb4"/><stop offset="0.9375" stop-color="#4040a1"/><stop offset="0.9531" stop-color="#3d358a"/><stop offset="0.9688" stop-color="#392a73"/><stop offset="0.9844" stop-color="#351e57"/><stop offset="1.0000" stop-color="#30123b"/></linearGradient></defs>
<rect x="1942.5" y="34.0" width="82.5" height="1380.0" fill="url(#cb)" stroke="#262626" stroke-width="3"/>
<line class="t" x1="2012.0" y1="1317.5" x2="2025.0" y2="1317.5"/>
<text x="2045.0" y="1336.9" font-size="53.33" text-anchor="start">1</text>
<line class="t" x1="2012.0" y1="1120.2" x2="2025.0" y2="1120.2"/>
<text x="2045.0" y="1139.5" font-size="53.33" text-anchor="start">2</text>
<line class="t" x1="2012.0" y1="922.9" x2="2025.0" y2="922.9"/>
<text x="2045.0" y="942.2" font-size="53.33" text-anchor="start">3</text>
<line class="t" x1="2012.0" y1="725.6" x2="2025.0" y2="725.6"/>
<text x="2045.0" y="744.9" font-size="53.33" text-anchor="start">4</text>
<line class="t" x1="2012.0" y1="528.3" x2="2025.0" y2="528.3"/>
<text x="2045.0" y="547.6" font-size="53.33" text-anchor="start">5</text>
<line class="t" x1="2012.0" y1="331.0" x2="2025.0" y2="331.0"/>
<text x="2045.0" y="350.3" font-size="53.33" text-anchor="start">6</text>
<line class="t" x1="2012.0" y1="133.6" x2="2025.0" y2="133.6"/>
<text x="2045.0" y="153.0" font-size="53.33" text-anchor="start">7</text>
</svg>
</body></html>
